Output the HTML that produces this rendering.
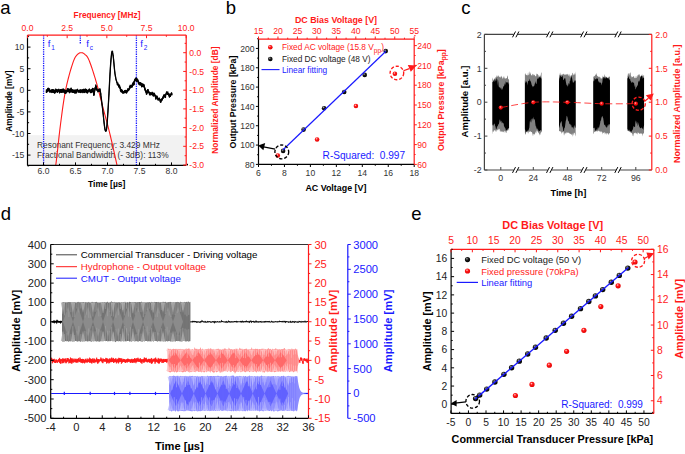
<!DOCTYPE html>
<html><head><meta charset="utf-8"><style>
html,body{margin:0;padding:0;background:#fff;}
svg{display:block;}
text{font-family:"Liberation Sans", sans-serif;}
</style></head><body>
<svg width="685" height="454" viewBox="0 0 685 454">
<rect width="685" height="454" fill="#fff"/>
<defs>
<radialGradient id="g_000" cx="0.38" cy="0.33" r="0.7"><stop offset="0" stop-color="#aaa"/><stop offset="0.38" stop-color="#1a1a1a"/><stop offset="1" stop-color="#000"/></radialGradient>
<radialGradient id="g_ff1a1a" cx="0.4" cy="0.35" r="0.7"><stop offset="0" stop-color="#ffd0d0"/><stop offset="0.35" stop-color="#ff1a1a"/><stop offset="1" stop-color="#e00000"/></radialGradient>
</defs><text x="0.2" y="14" font-size="18.5" fill="#000">a</text><text x="225.8" y="14" font-size="18.5" fill="#000">b</text><text x="461.3" y="14" font-size="18.5" fill="#000">c</text><text x="0.8" y="219.8" font-size="18.5" fill="#000">d</text><text x="411.3" y="220.2" font-size="18.5" fill="#000">e</text><rect x="27.5" y="135.2" width="158.7" height="30.2" fill="#f2f2f2"/>
<text x="37" y="147.7" font-size="8.4" fill="#333" text-anchor="start">Resonant Frequency: 3.429 MHz</text>
<text x="37" y="157.9" font-size="8.4" fill="#333" text-anchor="start">Fractional Bandwidth (- 3dB): 113%</text>
<line x1="43.6" y1="35.2" x2="43.6" y2="165.4" stroke="#1a1aff" stroke-width="1.3" stroke-dasharray="1.3 1.0"/>
<line x1="136.4" y1="35.2" x2="136.4" y2="165.4" stroke="#1a1aff" stroke-width="1.3" stroke-dasharray="1.3 1.0"/>
<line x1="80.3" y1="35.2" x2="80.3" y2="44.5" stroke="#1a1aff" stroke-width="1.3" stroke-dasharray="1.3 1.0"/>
<text x="47.8" y="47.3" font-size="9.5" fill="#1a1aff" text-anchor="start">f</text>
<text x="51.3" y="49.6" font-size="6.5" fill="#1a1aff" text-anchor="start">1</text>
<text x="86.2" y="47.3" font-size="9.5" fill="#1a1aff" text-anchor="start">f</text>
<text x="89.7" y="49.6" font-size="6.5" fill="#1a1aff" text-anchor="start">c</text>
<text x="140.2" y="47.3" font-size="9.5" fill="#1a1aff" text-anchor="start">f</text>
<text x="143.7" y="49.6" font-size="6.5" fill="#1a1aff" text-anchor="start">2</text>
<clipPath id="ca"><rect x="27.5" y="35.2" width="158.7" height="130.2"/></clipPath>
<path d="M52.5 185 L52.71 183.78 L52.97 182.29 L53.27 180.55 L53.62 178.6 L53.99 176.44 L54.39 174.1 L54.8 171.6 L55.21 168.97 L55.61 166.23 L56 163.4 L56.39 160.37 L56.78 157.06 L57.18 153.53 L57.59 149.84 L58.01 146.04 L58.42 142.21 L58.84 138.38 L59.26 134.64 L59.68 131.02 L60.1 127.6 L60.52 124.3 L60.94 121.01 L61.36 117.76 L61.78 114.56 L62.2 111.42 L62.62 108.36 L63.04 105.41 L63.46 102.57 L63.88 99.86 L64.3 97.3 L64.71 94.92 L65.1 92.71 L65.49 90.66 L65.88 88.72 L66.27 86.88 L66.66 85.09 L67.07 83.34 L67.49 81.59 L67.93 79.82 L68.4 78 L68.9 76.1 L69.43 74.14 L69.99 72.16 L70.57 70.17 L71.15 68.22 L71.73 66.34 L72.31 64.56 L72.87 62.9 L73.4 61.41 L73.9 60.1 L74.37 58.99 L74.82 58.05 L75.25 57.25 L75.66 56.58 L76.07 56.01 L76.46 55.53 L76.85 55.11 L77.23 54.72 L77.62 54.36 L78 54 L78.38 53.66 L78.76 53.38 L79.12 53.16 L79.49 52.99 L79.84 52.86 L80.2 52.77 L80.55 52.71 L80.9 52.68 L81.25 52.68 L81.6 52.7 L81.95 52.74 L82.28 52.8 L82.62 52.89 L82.95 53.01 L83.27 53.17 L83.61 53.36 L83.94 53.58 L84.28 53.85 L84.64 54.15 L85 54.5 L85.36 54.84 L85.72 55.14 L86.06 55.43 L86.42 55.74 L86.78 56.12 L87.16 56.59 L87.57 57.19 L88 57.95 L88.48 58.91 L89 60.1 L89.57 61.53 L90.19 63.19 L90.86 65.03 L91.55 67.03 L92.27 69.16 L93 71.4 L93.74 73.71 L94.47 76.07 L95.2 78.44 L95.9 80.8 L96.59 83.2 L97.28 85.69 L97.97 88.26 L98.66 90.89 L99.35 93.56 L100.04 96.26 L100.73 98.97 L101.42 101.68 L102.11 104.36 L102.8 107 L103.49 109.6 L104.18 112.16 L104.87 114.71 L105.56 117.25 L106.25 119.79 L106.94 122.36 L107.63 124.96 L108.32 127.61 L109.01 130.32 L109.7 133.1 L110.4 136 L111.12 139.03 L111.85 142.16 L112.58 145.34 L113.31 148.53 L114.02 151.7 L114.71 154.82 L115.38 157.83 L116.01 160.7 L116.6 163.4 L117.16 166.01 L117.71 168.62 L118.24 171.2 L118.75 173.7 L119.23 176.09 L119.68 178.33 L120.08 180.38 L120.44 182.2 L120.75 183.75 L121 185" stroke="#ff1a1a" stroke-width="1.1" fill="none" clip-path="url(#ca)"/>
<path d="M46.3 89.08 L46.8 89.99 L47.3 88.84 L47.8 88.04 L48.3 87.52 L48.8 88.41 L49.3 88.2 L49.8 88.69 L50.3 90.08 L50.8 90.72 L51.3 89.42 L51.8 89.53 L52.3 89.14 L52.8 88.92 L53.3 89.6 L53.8 89.44 L54.3 89.43 L54.8 91.43 L55.3 89.96 L55.8 88.41 L56.3 89.1 L56.8 89.24 L57.3 89.78 L57.8 89.26 L58.3 89.14 L58.8 88.58 L59.3 90.19 L59.8 89.25 L60.3 88.97 L60.8 89.36 L61.3 89.23 L61.8 88.8 L62.3 88.73 L62.8 88.86 L63.3 88.45 L63.8 88.7 L64.3 89.89 L64.8 89.6 L65.3 89.95 L65.8 91.19 L66.3 90.98 L66.8 89.61 L67.3 88.49 L67.8 87.79 L68.3 89.22 L68.8 88.25 L69.3 88.96 L69.8 89.01 L70.3 89.05 L70.8 87.7 L71.3 87.6 L71.8 88.83 L72.3 89.84 L72.8 88.91 L73.3 90.14 L73.8 89.68 L74.3 89.45 L74.8 90.67 L75.3 89.52 L75.8 89.79 L76.3 89.35 L76.8 89.85 L77.3 89.23 L77.8 88.62 L78.3 89.8 L78.8 90.87 L79.3 89.47 L79.8 89.89 L80.3 89.64 L80.8 89.1 L81.3 89.48 L81.8 90.14 L82.3 89.31 L82.8 89.27 L83.3 88.76 L83.8 88.71 L84.3 88.86 L84.8 89.6 L85.3 88.45 L85.8 88.63 L86.3 88.91 L86.8 89.52 L87.3 89.93 L87.8 89.64 L88.3 90.56 L88.8 88.94 L89.3 88.35 L89.8 88.95 L90.3 90.4 L90.8 89.15 L91.3 89.93 L91.8 88.69 L92.3 87.86 L92.8 87.85 L93.3 88.05 L93.8 93.18 L94.3 91.27 L94.8 88.13 L95.3 85.98 L95.8 84.3 L96.3 85.93 L96.8 87.22 L97.3 89.4 L97.8 89.66 L98.3 89.48 L98.8 89.2 L99.3 88.46 L99.8 88.61 L100.3 88.43 L100.8 92.34 L101.3 97.18 L101.8 101.05 L102.3 105.04 L102.8 109.04 L103.3 113.69 L103.8 118.21 L104.3 122.99 L104.8 126.83 L105.3 129.87 L105.8 130.87 L106.3 129.4 L106.8 124.65 L107.3 117.89 L107.8 110.55 L108.3 102.52 L108.8 93.38 L109.3 83.52 L109.8 74.56 L110.3 66.36 L110.8 59.45 L111.3 54.22 L111.8 51.71 L112.3 51.28 L112.8 52.67 L113.3 55.64 L113.8 59.6 L114.3 65.45 L114.8 70.58 L115.3 74.26 L115.8 77.22 L116.3 79.61 L116.8 81.36 L117.3 83.39 L117.8 82.31 L118.3 83.71 L118.8 85.24 L119.3 84.43 L119.8 84.78 L120.3 86.75 L120.8 89.16 L121.3 89.43 L121.8 89.34 L122.3 89.97 L122.8 90.93 L123.3 90.77 L123.8 91.35 L124.3 90.1 L124.8 90.48 L125.3 89.68 L125.8 90.33 L126.3 90.63 L126.8 90.11 L127.3 89.48 L127.8 87.92 L128.3 88.11 L128.8 89.13 L129.3 86.08 L129.8 85.77 L130.3 84.6 L130.8 85.13 L131.3 85.39 L131.8 85.85 L132.3 84.8 L132.8 83.82 L133.3 82.33 L133.8 82.52 L134.3 80.1 L134.8 79.13 L135.3 77.59 L135.8 79.48 L136.3 79.07 L136.8 79.06 L137.3 78.99 L137.8 78.97 L138.3 81.07 L138.8 81.59 L139.3 81.78 L139.8 82.81 L140.3 82.44 L140.8 82.05 L141.3 83.45 L141.8 84.64 L142.3 84.4 L142.8 83.86 L143.3 83.63 L143.8 84.45 L144.3 84.24 L144.8 86.8 L145.3 88.34 L145.8 89.68 L146.3 91.63 L146.8 91.75 L147.3 90.3 L147.8 89 L148.3 89.43 L148.8 91.01 L149.3 91.75 L149.8 92.63 L150.3 93.38 L150.8 92.1 L151.3 92.04 L151.8 93.93 L152.3 91.61 L152.8 92.4 L153.3 93.99 L153.8 92.34 L154.3 93.23 L154.8 93.01 L155.3 94.48 L155.8 96.72 L156.3 96.61 L156.8 95.52 L157.3 95.86 L157.8 98.23 L158.3 98.05 L158.8 97.82 L159.3 97.54 L159.8 97.93 L160.3 100.12 L160.8 101.59 L161.3 98.68 L161.8 98.31 L162.3 97.54 L162.8 96.85 L163.3 95.38 L163.8 94.56 L164.3 94.22 L164.8 95.04 L165.3 94.75 L165.8 93.69 L166.3 91.2 L166.8 92.12 L167.3 92.54 L167.8 91.2 L168.3 92.87 L168.8 93.71 L169.3 95.58 L169.8 93.94 L170.3 93.8 L170.8 93.51 L171.3 92.16 L171.8 92.53 L171.8 95.42 L171.3 95.02 L170.8 95.94 L170.3 97 L169.8 97.08 L169.3 97.9 L168.8 96.13 L168.3 95.21 L167.8 94.95 L167.3 94.76 L166.8 94.56 L166.3 94.15 L165.8 97.75 L165.3 98.14 L164.8 97 L164.3 97.03 L163.8 97.79 L163.3 98.4 L162.8 99.48 L162.3 100.53 L161.8 101.02 L161.3 101.75 L160.8 102.92 L160.3 102.71 L159.8 100.38 L159.3 99.98 L158.8 100.3 L158.3 100.53 L157.8 100.39 L157.3 98.97 L156.8 98.24 L156.3 98.97 L155.8 99.9 L155.3 98.57 L154.8 96.62 L154.3 95.29 L153.8 95.84 L153.3 96.83 L152.8 96.05 L152.3 94.94 L151.8 95.26 L151.3 95.14 L150.8 94.25 L150.3 95.68 L149.8 95.13 L149.3 95.34 L148.8 93.14 L148.3 92.31 L147.8 91.5 L147.3 92.61 L146.8 94.66 L146.3 94.73 L145.8 93.24 L145.3 91.69 L144.8 90.44 L144.3 88.82 L143.8 87.54 L143.3 86.61 L142.8 86.53 L142.3 87.18 L141.8 87.49 L141.3 86.42 L140.8 85.12 L140.3 85.63 L139.8 85.07 L139.3 85.46 L138.8 84.73 L138.3 83.73 L137.8 81.59 L137.3 81.79 L136.8 81.5 L136.3 81.92 L135.8 80.82 L135.3 81.18 L134.8 81.69 L134.3 85.01 L133.8 85.45 L133.3 85.61 L132.8 86.24 L132.3 87.21 L131.8 88.07 L131.3 87.26 L130.8 87.17 L130.3 87.59 L129.8 88.27 L129.3 89.73 L128.8 91.09 L128.3 91.22 L127.8 91.65 L127.3 92.13 L126.8 93.55 L126.3 93.45 L125.8 92.96 L125.3 93.18 L124.8 92.53 L124.3 92.05 L123.8 93.54 L123.3 93.46 L122.8 93.78 L122.3 93.06 L121.8 92.55 L121.3 92.46 L120.8 92.13 L120.3 91.05 L119.8 88.86 L119.3 86.51 L118.8 87.56 L118.3 87.22 L117.8 84.44 L117.3 85.34 L116.8 83.15 L116.3 81.63 L115.8 79.65 L115.3 77.02 L114.8 74.11 L114.3 69.91 L113.8 64.63 L113.3 59.01 L112.8 55.38 L112.3 52.41 L111.8 53.99 L111.3 59.02 L110.8 65.45 L110.3 72.93 L109.8 82.24 L109.3 92.16 L108.8 101.28 L108.3 109.31 L107.8 117.18 L107.3 124.25 L106.8 129.31 L106.3 131.37 L105.8 131.72 L105.3 131.49 L104.8 129.82 L104.3 126.92 L103.8 122.63 L103.3 117.58 L102.8 112.75 L102.3 108.75 L101.8 104.51 L101.3 100.5 L100.8 97.04 L100.3 92.57 L99.8 91.48 L99.3 91.51 L98.8 91.85 L98.3 92.06 L97.8 92.46 L97.3 90.84 L96.8 90.53 L96.3 89.82 L95.8 87.71 L95.3 88.74 L94.8 92.5 L94.3 95.2 L93.8 95.97 L93.3 93.15 L92.8 92.31 L92.3 92.4 L91.8 92.61 L91.3 93.15 L90.8 93.35 L90.3 92.94 L89.8 91.56 L89.3 91.7 L88.8 90.85 L88.3 92.58 L87.8 93.4 L87.3 93.52 L86.8 92.99 L86.3 93.32 L85.8 92.52 L85.3 92.25 L84.8 92.46 L84.3 93.25 L83.8 93.23 L83.3 92.2 L82.8 90.97 L82.3 93.36 L81.8 92.75 L81.3 92.13 L80.8 93.07 L80.3 93.16 L79.8 92.36 L79.3 92.87 L78.8 92.82 L78.3 92 L77.8 90.83 L77.3 91.29 L76.8 93 L76.3 93.5 L75.8 93.51 L75.3 92.93 L74.8 93.87 L74.3 92.74 L73.8 92.75 L73.3 93.05 L72.8 93.07 L72.3 91.76 L71.8 92.86 L71.3 90.11 L70.8 91.19 L70.3 92.65 L69.8 92.67 L69.3 93.42 L68.8 92.06 L68.3 92.05 L67.8 92.38 L67.3 91.73 L66.8 91.93 L66.3 93.23 L65.8 94.29 L65.3 91.94 L64.8 93.88 L64.3 92.67 L63.8 91.75 L63.3 92.77 L62.8 92.88 L62.3 90.45 L61.8 92.79 L61.3 93.04 L60.8 91.18 L60.3 92.63 L59.8 93.18 L59.3 93.54 L58.8 90.64 L58.3 91.99 L57.8 92.38 L57.3 93.1 L56.8 92.45 L56.3 91.69 L55.8 91.92 L55.3 93.27 L54.8 93.63 L54.3 93.49 L53.8 92.89 L53.3 93.22 L52.8 91.02 L52.3 92.79 L51.8 93.27 L51.3 92.36 L50.8 92.57 L50.3 92.33 L49.8 92.57 L49.3 92.59 L48.8 91.27 L48.3 90.5 L47.8 91.4 L47.3 92.05 L46.8 92.78 L46.3 93.05 Z" stroke="none" stroke-width="1" fill="#000"/>
<path d="M46.1 90.72 L46.2 91.54 L46.3 92.8 L46.4 89.33 L46.5 92.8 L46.6 91.57 L46.7 92.15 L46.8 91.51 L46.9 92.53 L47 90.24 L47.1 91.8 L47.2 89.86 L47.3 90.76 L47.4 91.31 L47.5 89.09 L47.6 88.29 L47.7 91.15 L47.8 91.05 L47.9 90.31 L48 88.78 L48.1 90.16 L48.2 87.77 L48.3 90.25 L48.4 89.95 L48.5 90.19 L48.6 89.54 L48.7 88.66 L48.8 90.81 L48.9 89.76 L49 91.02 L49.1 89.5 L49.2 88.45 L49.3 90.48 L49.4 90.95 L49.5 92.34 L49.6 92.32 L49.7 88.94 L49.8 92.03 L49.9 89.95 L50 91.83 L50.1 90.53 L50.2 90.33 L50.3 91.08 L50.4 91.32 L50.5 92.08 L50.6 91.92 L50.7 92.18 L50.8 91.02 L50.9 92.32 L51 90.97 L51.1 92.11 L51.2 91.51 L51.3 91.96 L51.4 89.67 L51.5 91.69 L51.6 90.5 L51.7 91.16 L51.8 89.78 L51.9 92.14 L52 93.02 L52.1 90.64 L52.2 89.48 L52.3 91.54 L52.4 89.39 L52.5 92.54 L52.6 89.26 L52.7 90.23 L52.8 90.77 L52.9 89.17 L53 90.01 L53.1 89.85 L53.2 91.74 L53.3 92.97 L53.4 90.44 L53.5 92.33 L53.6 89.69 L53.7 91.6 L53.8 91.02 L53.9 90.42 L54 92.64 L54.1 92.29 L54.2 89.68 L54.3 90.31 L54.4 92.5 L54.5 93.24 L54.6 91.68 L54.7 92.83 L54.8 93.38 L54.9 92.43 L55 92.09 L55.1 90.32 L55.2 90.92 L55.3 91.89 L55.4 93.02 L55.5 90.21 L55.6 90.41 L55.7 88.66 L55.8 91.34 L55.9 90.19 L56 91.67 L56.1 89.35 L56.2 91.24 L56.3 91.44 L56.4 90.71 L56.5 89.68 L56.6 90.69 L56.7 92.2 L56.8 89.9 L56.9 89.49 L57 91.03 L57.1 90.03 L57.2 92.35 L57.3 92.36 L57.4 92.85 L57.5 92.35 L57.6 91.5 L57.7 89.51 L57.8 92.13 L57.9 91.66 L58 91.64 L58.1 91.32 L58.2 91.74 L58.3 89.39 L58.4 90.87 L58.5 90.17 L58.6 89.42 L58.7 89.44 L58.8 88.83 L58.9 90.39 L59 90.04 L59.1 90.44 L59.2 92.41 L59.3 91.84 L59.4 91.95 L59.5 93.29 L59.6 90.09 L59.7 91.3 L59.8 89.5 L59.9 90.68 L60 92.93 L60.1 89.22 L60.2 91.97 L60.3 92.38 L60.4 90.87 L60.5 92.09 L60.6 90.61 L60.7 90.28 L60.8 90.93 L60.9 89.61 L61 90.05 L61.1 89.99 L61.2 92.79 L61.3 89.98 L61.4 89.48 L61.5 92.43 L61.6 89.05 L61.7 92.54 L61.8 92.09 L61.9 91.26 L62 90.36 L62.1 89.4 L62.2 89.01 L62.3 88.98 L62.4 89.99 L62.5 90.2 L62.6 92.35 L62.7 90.72 L62.8 92.63 L62.9 91.51 L63 89.11 L63.1 90.83 L63.2 89.19 L63.3 88.7 L63.4 92.52 L63.5 90.01 L63.6 89.43 L63.7 89.12 L63.8 91.5 L63.9 90.77 L64 88.95 L64.1 91.99 L64.2 90.14 L64.3 92.42 L64.4 91.28 L64.5 91.55 L64.6 91.28 L64.7 92.26 L64.8 93.63 L64.9 92.86 L65 89.85 L65.1 91.69 L65.2 90.67 L65.3 90.2 L65.4 90.68 L65.5 90.98 L65.6 94.04 L65.7 93.19 L65.8 93.67 L65.9 93.05 L66 91.44 L66.1 91.75 L66.2 91.92 L66.3 91.23 L66.4 91.66 L66.5 92.98 L66.6 89.86 L66.7 90.48 L66.8 91.09 L66.9 91.68 L67 91.34 L67.1 91.48 L67.2 88.74 L67.3 88.94 L67.4 89.4 L67.5 89.22 L67.6 91.17 L67.7 92.13 L67.8 90.79 L67.9 88.04 L68 89.14 L68.1 91.27 L68.2 91.8 L68.3 90.46 L68.4 89.47 L68.5 89.54 L68.6 90.77 L68.7 91.81 L68.8 89.69 L68.9 89.16 L69 88.5 L69.1 89.21 L69.2 92.35 L69.3 91.53 L69.4 93.17 L69.5 89.37 L69.6 90.64 L69.7 92.42 L69.8 91.81 L69.9 89.26 L70 90.6 L70.1 91.52 L70.2 91.65 L70.3 90.55 L70.4 89.3 L70.5 92.4 L70.6 90.1 L70.7 90.94 L70.8 89.99 L70.9 87.95 L71 88.55 L71.1 87.85 L71.2 88.51 L71.3 88.73 L71.4 89.86 L71.5 89.71 L71.6 90.13 L71.7 92.25 L71.8 89.08 L71.9 89.56 L72 92.61 L72.1 91.51 L72.2 91.12 L72.3 90.38 L72.4 91.49 L72.5 90.09 L72.6 92.7 L72.7 92.52 L72.8 90.4 L72.9 89.16 L73 92.82 L73.1 90.39 L73.2 91.93 L73.3 92.8 L73.4 92.53 L73.5 92.75 L73.6 91.11 L73.7 92.5 L73.8 90.82 L73.9 89.93 L74 90.82 L74.1 90.24 L74.2 92.12 L74.3 92.49 L74.4 89.7 L74.5 89.91 L74.6 90.92 L74.7 91.33 L74.8 93.47 L74.9 93.46 L75 93.62 L75.1 92.68 L75.2 92.51 L75.3 90.85 L75.4 91.31 L75.5 89.77 L75.6 93.26 L75.7 90.9 L75.8 90.04 L75.9 91 L76 91 L76.1 92.65 L76.2 89.6 L76.3 90.5 L76.4 93.25 L76.5 93.01 L76.6 91.98 L76.7 91.6 L76.8 90.1 L76.9 92.75 L77 92.17 L77.1 91.04 L77.2 89.48 L77.3 89.63 L77.4 90.26 L77.5 90.02 L77.6 88.87 L77.7 90.35 L77.8 90.58 L77.9 89.99 L78 90.5 L78.1 90.38 L78.2 90.66 L78.3 91.75 L78.4 91.28 L78.5 90.05 L78.6 92.57 L78.7 91.38 L78.8 91.12 L78.9 92.15 L79 92.27 L79.1 92.62 L79.2 92.41 L79.3 91.79 L79.4 92.02 L79.5 89.72 L79.6 92.11 L79.7 90.39 L79.8 90.57 L79.9 90.14 L80 91.41 L80.1 89.89 L80.2 92.56 L80.3 92.89 L80.4 92.91 L80.5 90.08 L80.6 92.11 L80.7 92.82 L80.8 89.35 L80.9 89.92 L81 90.18 L81.1 90.96 L81.2 89.73 L81.3 91.28 L81.4 90.51 L81.5 91.88 L81.6 91.43 L81.7 92.17 L81.8 90.39 L81.9 92.38 L82 92.5 L82.1 92.4 L82.2 89.56 L82.3 93.11 L82.4 91.4 L82.5 89.95 L82.6 90.48 L82.7 90.72 L82.8 90.66 L82.9 89.52 L83 89.63 L83.1 90.11 L83.2 91.95 L83.3 90.6 L83.4 89.01 L83.5 90.8 L83.6 89.76 L83.7 88.96 L83.8 92.98 L83.9 90.08 L84 91.08 L84.1 90.35 L84.2 89.11 L84.3 92.76 L84.4 93 L84.5 89.93 L84.6 90.96 L84.7 90.77 L84.8 89.85 L84.9 91.83 L85 92.21 L85.1 92 L85.2 91.53 L85.3 88.7 L85.4 89.55 L85.5 90.74 L85.6 91.55 L85.7 90.27 L85.8 90.57 L85.9 92.27 L86 88.88 L86.1 89.96 L86.2 90.09 L86.3 93.07 L86.4 89.89 L86.5 89.16 L86.6 90.76 L86.7 91.79 L86.8 89.77 L86.9 92.74 L87 90.14 L87.1 92.36 L87.2 90.18 L87.3 93.27 L87.4 90.46 L87.5 92.71 L87.6 93.15 L87.7 90.65 L87.8 89.89 L87.9 91.86 L88 91.38 L88.1 91.17 L88.2 92.33 L88.3 90.89 L88.4 90.94 L88.5 90.81 L88.6 90.6 L88.7 90.31 L88.8 89.19 L88.9 89.67 L89 89.44 L89.1 89.28 L89.2 91.45 L89.3 88.6 L89.4 88.96 L89.5 90.31 L89.6 89.44 L89.7 89.2 L89.8 89.84 L89.9 90.48 L90 91.31 L90.1 92.69 L90.2 92.31 L90.3 90.65 L90.4 90.83 L90.5 90.76 L90.6 90.08 L90.7 93.1 L90.8 89.4 L90.9 89.97 L91 91.87 L91.1 91.53 L91.2 90.18 L91.3 92.9 L91.4 90.62 L91.5 91.33 L91.6 89.11 L91.7 92.36 L91.8 88.94 L91.9 90.05 L92 92 L92.1 92.15 L92.2 91.9 L92.3 91.52 L92.4 88.98 L92.5 88.11 L92.6 89.87 L92.7 88.26 L92.8 92.06 L92.9 88.1 L93 89.12 L93.1 88.82 L93.2 88.3 L93.3 89.95 L93.4 89.5 L93.5 92.9 L93.6 93.43 L93.7 93.66 L93.8 95.72 L93.9 95.61 L94 93.81 L94.1 94.95 L94.2 94.6 L94.3 92.97 L94.4 91.52 L94.5 92.7 L94.6 92.25 L94.7 89.77 L94.8 88.38 L94.9 90.38 L95 89.26 L95.1 87.45 L95.2 88.12 L95.3 86.92 L95.4 88.49 L95.5 86.23 L95.6 85.36 L95.7 84.55 L95.8 85.35 L95.9 87.46 L96 85.24 L96.1 86.48 L96.2 88.72 L96.3 86.18 L96.4 87.55 L96.5 89.57 L96.6 87.47 L96.7 90.28 L96.8 90.13 L96.9 88.09 L97 89.74 L97.1 89.87 L97.2 90.59 L97.3 89.65 L97.4 90.16 L97.5 89.92 L97.6 90.23 L97.7 89.91 L97.8 92.21 L97.9 92.08 L98 90.29 L98.1 91.24 L98.2 90.49 L98.3 89.73 L98.4 89.89 L98.5 91.81 L98.6 89.78 L98.7 90.49 L98.8 91.6 L98.9 89.45 L99 91.01 L99.1 88.71 L99.2 90.62 L99.3 90.79 L99.4 90.84 L99.5 91.26 L99.6 90.41 L99.7 91.23 L99.8 88.95 L99.9 89.74 L100 88.86 L100.1 88.68 L100.2 90.2 L100.3 91.58 L100.4 92.32 L100.5 90.5 L100.6 94.11 L100.7 92.59 L100.8 93.47 L100.9 95.97 L101 96.79 L101.1 97.43 L101.2 97.93 L101.3 98.76 L101.4 99.75 L101.5 100.25 L101.6 101.3 L101.7 102.08 L101.8 102.69 L101.9 103.75 L102 104.26 L102.1 105.29 L102.2 106.04 L102.3 106.68 L102.4 107.63 L102.5 108.5 L102.6 109.29 L102.7 109.9 L102.8 111.3 L102.9 112.16 L103 112.5 L103.1 113.94 L103.2 114.6 L103.3 115.27 L103.4 116.62 L103.5 117.33 L103.6 118.46 L103.7 119.5 L103.8 120.3 L103.9 120.97 L104 122.38 L104.1 123.24 L104.2 124.26 L104.3 124.74 L104.4 125.86 L104.5 126.67 L104.6 127.08 L104.7 127.81 L104.8 128.43 L104.9 128.87 L105 129.57 L105.1 130.12 L105.2 130.38 L105.3 131.06 L105.4 131.05 L105.5 131.24 L105.6 131.12 L105.7 131.2 L105.8 131.47 L105.9 131.31 L106 131.34 L106.1 131.12 L106.2 131 L106.3 130.88 L106.4 130.07 L106.5 129.65 L106.6 129.06 L106.7 127.89 L106.8 127.49 L106.9 126.18 L107 124.9 L107.1 124 L107.2 122.75 L107.3 121.3 L107.4 120.07 L107.5 118.14 L107.6 116.93 L107.7 115.55 L107.8 114.12 L107.9 112.4 L108 110.8 L108.1 109.06 L108.2 107.55 L108.3 105.9 L108.4 104.47 L108.5 102.77 L108.6 101.03 L108.7 99.4 L108.8 97.09 L108.9 95.68 L109 93.63 L109.1 91.91 L109.2 89.72 L109.3 87.9 L109.4 86.18 L109.5 83.77 L109.6 81.99 L109.7 80.2 L109.8 78.52 L109.9 76.3 L110 74.81 L110.1 72.68 L110.2 70.99 L110.3 69.48 L110.4 67.96 L110.5 66.61 L110.6 65.2 L110.7 63.46 L110.8 62.43 L110.9 61.08 L111 59.7 L111.1 58.77 L111.2 57.74 L111.3 56.47 L111.4 55.79 L111.5 54.47 L111.6 53.74 L111.7 53.45 L111.8 52.63 L111.9 52.35 L112 51.96 L112.1 51.53 L112.2 51.83 L112.3 51.9 L112.4 51.75 L112.5 52.16 L112.6 52.92 L112.7 53.52 L112.8 54.1 L112.9 54.53 L113 55.13 L113.1 55.89 L113.2 56.44 L113.3 57.33 L113.4 57.94 L113.5 58.76 L113.6 59.85 L113.7 60.69 L113.8 62.02 L113.9 63.27 L114 64.38 L114.1 65.7 L114.2 66.77 L114.3 67.71 L114.4 68.93 L114.5 69.66 L114.6 70.83 L114.7 71.4 L114.8 72.35 L114.9 73.37 L115 73.86 L115.1 74.51 L115.2 75.36 L115.3 75.73 L115.4 76.67 L115.5 76.77 L115.6 77.47 L115.7 77.97 L115.8 78.52 L115.9 79.4 L116 79.28 L116.1 79.86 L116.2 80.42 L116.3 80.88 L116.4 81.28 L116.5 81.38 L116.6 81.61 L116.7 82.28 L116.8 82.12 L116.9 82.35 L117 82.9 L117.1 83.7 L117.2 85.09 L117.3 84.36 L117.4 83.79 L117.5 83.64 L117.6 84.19 L117.7 84.02 L117.8 83.18 L117.9 82.56 L118 83.13 L118.1 85.28 L118.2 85.15 L118.3 86.03 L118.4 83.96 L118.5 86.97 L118.6 85.49 L118.7 87.31 L118.8 86.24 L118.9 86.02 L119 86.8 L119.1 86.12 L119.2 86.26 L119.3 84.68 L119.4 86.25 L119.5 85.67 L119.6 85.03 L119.7 85.5 L119.8 86.94 L119.9 86.6 L120 88.61 L120.1 87 L120.2 87.14 L120.3 90.8 L120.4 89.12 L120.5 90.2 L120.6 89.61 L120.7 89.87 L120.8 90.62 L120.9 91.88 L121 89.41 L121.1 91.84 L121.2 92.21 L121.3 90.73 L121.4 90.05 L121.5 89.68 L121.6 89.61 L121.7 90.22 L121.8 92.1 L121.9 89.59 L122 92.3 L122.1 92.12 L122.2 90.22 L122.3 90.54 L122.4 92.81 L122.5 92.74 L122.6 91.69 L122.7 93.53 L122.8 91.49 L122.9 92.2 L123 91.18 L123.1 92.85 L123.2 91.02 L123.3 91.31 L123.4 93.21 L123.5 92.41 L123.6 92.99 L123.7 93.29 L123.8 92.92 L123.9 91.6 L124 93.13 L124.1 91.13 L124.2 91.43 L124.3 91.8 L124.4 90.53 L124.5 90.35 L124.6 92.01 L124.7 92.28 L124.8 91.13 L124.9 91.26 L125 90.73 L125.1 91.75 L125.2 91.9 L125.3 92.93 L125.4 89.93 L125.5 92.56 L125.6 92.71 L125.7 90.58 L125.8 91.81 L125.9 92.22 L126 91.83 L126.1 90.88 L126.2 92.17 L126.3 93.2 L126.4 90.9 L126.5 92.19 L126.6 90.74 L126.7 93.3 L126.8 92.92 L126.9 90.36 L127 92.33 L127.1 91.88 L127.2 89.79 L127.3 90.81 L127.4 91.09 L127.5 89.73 L127.6 90.06 L127.7 91.4 L127.8 90.16 L127.9 89.62 L128 88.17 L128.1 88.36 L128.2 90.77 L128.3 90.53 L128.4 90.97 L128.5 90.28 L128.6 90.36 L128.7 90.24 L128.8 90.84 L128.9 89.38 L129 89.67 L129.1 89.25 L129.2 89.48 L129.3 87.62 L129.4 86.56 L129.5 86.33 L129.6 86.21 L129.7 88.02 L129.8 87.27 L129.9 87.15 L130 86.02 L130.1 84.85 L130.2 86.01 L130.3 87.34 L130.4 86.3 L130.5 86.79 L130.6 86.04 L130.7 85.38 L130.8 86.92 L130.9 86.44 L131 85.96 L131.1 85.64 L131.2 87.01 L131.3 85.8 L131.4 86.64 L131.5 85.67 L131.6 87.28 L131.7 86.1 L131.8 86.43 L131.9 87.82 L132 87.05 L132.1 86.96 L132.2 85.48 L132.3 86.82 L132.4 85.05 L132.5 86.63 L132.6 85.99 L132.7 84.91 L132.8 85.19 L132.9 84.07 L133 84.57 L133.1 82.58 L133.2 85.36 L133.3 84.82 L133.4 82.79 L133.5 83.17 L133.6 84.25 L133.7 84.83 L133.8 82.77 L133.9 85.2 L134 82.98 L134.1 84.76 L134.2 83.64 L134.3 82.4 L134.4 81.61 L134.5 80.35 L134.6 79.92 L134.7 81.27 L134.8 81.36 L134.9 81.44 L135 79.38 L135.1 80.93 L135.2 78.65 L135.3 80.52 L135.4 80.34 L135.5 77.84 L135.6 80.13 L135.7 79.73 L135.8 79.9 L135.9 80.57 L136 79.85 L136.1 80 L136.2 79.75 L136.3 81.48 L136.4 81.67 L136.5 79.32 L136.6 81.25 L136.7 79.63 L136.8 79.31 L136.9 79.35 L137 80.58 L137.1 79.68 L137.2 79.62 L137.3 79.24 L137.4 80.03 L137.5 81.54 L137.6 79.22 L137.7 80.81 L137.8 81.34 L137.9 79.75 L138 80.74 L138.1 82.94 L138.2 83.48 L138.3 83.27 L138.4 81.32 L138.5 83.42 L138.6 82.59 L138.7 81.84 L138.8 82.95 L138.9 84.48 L139 84.43 L139.1 82.97 L139.2 82.03 L139.3 84.82 L139.4 85.21 L139.5 83.83 L139.6 83.06 L139.7 84.22 L139.8 84.82 L139.9 84.22 L140 83.84 L140.1 83.49 L140.2 83.57 L140.3 82.69 L140.4 83.23 L140.5 85.38 L140.6 82.3 L140.7 84.6 L140.8 84.87 L140.9 83.8 L141 84.63 L141.1 83.7 L141.2 85.41 L141.3 85.83 L141.4 86.17 L141.5 85.58 L141.6 87.24 L141.7 86.95 L141.8 86 L141.9 86.29 L142 84.89 L142.1 86.93 L142.2 85.88 L142.3 86.62 L142.4 84.65 L142.5 86.88 L142.6 84.11 L142.7 85.52 L142.8 84.21 L142.9 84.47 L143 86.28 L143.1 84.01 L143.2 84.97 L143.3 84.3 L143.4 86.36 L143.5 83.88 L143.6 84.7 L143.7 86.41 L143.8 85.95 L143.9 86.16 L144 87.29 L144.1 84.49 L144.2 86.92 L144.3 87.63 L144.4 88.15 L144.5 88.57 L144.6 87.05 L144.7 87.57 L144.8 90.19 L144.9 90.02 L145 89.19 L145.1 88.59 L145.2 90.45 L145.3 89.18 L145.4 91.44 L145.5 90.3 L145.6 91.98 L145.7 89.93 L145.8 91.46 L145.9 90.49 L146 92.99 L146.1 92.61 L146.2 91.88 L146.3 94.48 L146.4 93.76 L146.5 92.76 L146.6 94.41 L146.7 92.76 L146.8 94.35 L146.9 92 L147 93.86 L147.1 90.55 L147.2 92.36 L147.3 90.64 L147.4 90.8 L147.5 91.28 L147.6 89.25 L147.7 89.72 L147.8 89.27 L147.9 91.25 L148 89.55 L148.1 90.43 L148.2 89.9 L148.3 89.68 L148.4 92.06 L148.5 90.91 L148.6 91.64 L148.7 92.15 L148.8 92.89 L148.9 91.48 L149 91.26 L149.1 92.85 L149.2 92.21 L149.3 92 L149.4 95.09 L149.5 94.3 L149.6 93.72 L149.7 92.88 L149.8 94.88 L149.9 94.11 L150 92.91 L150.1 95.43 L150.2 95.23 L150.3 95.06 L150.4 94.65 L150.5 93.63 L150.6 92.85 L150.7 93.97 L150.8 92.42 L150.9 94 L151 92.35 L151.1 92.29 L151.2 94.63 L151.3 93.49 L151.4 94.64 L151.5 94.89 L151.6 95.01 L151.7 94.24 L151.8 94.89 L151.9 94.18 L152 94.91 L152.1 94.69 L152.2 91.86 L152.3 92.53 L152.4 92.95 L152.5 92.65 L152.6 92.65 L152.7 95.21 L152.8 92.85 L152.9 93.68 L153 95.8 L153.1 94.24 L153.2 94.39 L153.3 96.58 L153.4 95.75 L153.5 94.52 L153.6 93.27 L153.7 93.47 L153.8 95.59 L153.9 94.9 L154 92.59 L154.1 94.7 L154.2 93.77 L154.3 95.04 L154.4 93.85 L154.5 93.48 L154.6 93.26 L154.7 94.25 L154.8 96.16 L154.9 96.37 L155 95.85 L155.1 96.25 L155.2 94.73 L155.3 95.55 L155.4 97.65 L155.5 98.32 L155.6 96.97 L155.7 98.4 L155.8 99.21 L155.9 99.65 L156 97.53 L156.1 98.72 L156.2 97.8 L156.3 97.89 L156.4 97.68 L156.5 96.86 L156.6 95.8 L156.7 97.99 L156.8 97.61 L156.9 97.98 L157 95.77 L157.1 96.11 L157.2 97.4 L157.3 98.72 L157.4 97.5 L157.5 96.93 L157.6 98.48 L157.7 99.92 L157.8 99.86 L157.9 100.14 L158 98.7 L158.1 98.3 L158.2 100.28 L158.3 100.02 L158.4 100.2 L158.5 98.68 L158.6 98.29 L158.7 98.07 L158.8 100 L158.9 100.05 L159 98.19 L159.1 99.73 L159.2 98.1 L159.3 98.3 L159.4 98.75 L159.5 97.79 L159.6 98.18 L159.7 98.5 L159.8 98.88 L159.9 100.13 L160 99.27 L160.1 101.9 L160.2 100.37 L160.3 101.58 L160.4 102.46 L160.5 100.98 L160.6 101.84 L160.7 102.2 L160.8 101.9 L160.9 102.67 L161 101.97 L161.1 99.5 L161.2 101.5 L161.3 100.39 L161.4 100.66 L161.5 98.93 L161.6 99.88 L161.7 100.55 L161.8 100.77 L161.9 100.65 L162 98.56 L162.1 100.28 L162.2 99.14 L162.3 99.16 L162.4 99.46 L162.5 97.79 L162.6 99.23 L162.7 98.95 L162.8 98.58 L162.9 97.1 L163 97.44 L163.1 96.17 L163.2 97.89 L163.3 98.15 L163.4 95.63 L163.5 97.34 L163.6 97.03 L163.7 94.81 L163.8 97.54 L163.9 96.06 L164 95.32 L164.1 94.47 L164.2 96.78 L164.3 95.26 L164.4 95.72 L164.5 94.64 L164.6 95.93 L164.7 95.29 L164.8 96.7 L164.9 96.4 L165 96.75 L165.1 95.44 L165.2 95 L165.3 97.71 L165.4 97.89 L165.5 96.84 L165.6 97.5 L165.7 96.48 L165.8 95.73 L165.9 94.65 L166 93.94 L166.1 93.9 L166.2 92.64 L166.3 92.99 L166.4 93.05 L166.5 91.45 L166.6 92.63 L166.7 92.37 L166.8 93.61 L166.9 94.31 L167 93.81 L167.1 94.06 L167.2 93.94 L167.3 92.79 L167.4 93.12 L167.5 94.51 L167.6 94.7 L167.7 92.11 L167.8 91.45 L167.9 94.42 L168 94.09 L168.1 93.37 L168.2 94.19 L168.3 93.7 L168.4 94.96 L168.5 93.12 L168.6 94.06 L168.7 95.1 L168.8 93.96 L168.9 95.88 L169 94.74 L169.1 96.43 L169.2 96.94 L169.3 95.83 L169.4 97.65 L169.5 96.43 L169.6 96.7 L169.7 94.19 L169.8 94.34 L169.9 96.14 L170 96.83 L170.1 95.81 L170.2 96.75 L170.3 94.05 L170.4 96.71 L170.5 96.61 L170.6 95.69 L170.7 94.86 L170.8 95.49 L170.9 93.76 L171 94.88 L171.1 94.77 L171.2 94.16 L171.3 93.22 L171.4 92.41 L171.5 93.07 L171.6 95.17 L171.7 93.21 L171.8 92.78 L171.9 93.32 L172 94.16 L172.1 94.34 L172.2 95.23 L172.3 95.14" stroke="#000" stroke-width="0.7" fill="none" stroke-linejoin="round"/>
<path d="M46 90.8 L46.18 90.8 L46.38 90.8 L46.59 90.8 L46.81 90.8 L47.04 90.8 L47.28 90.8 L47.54 90.8 L47.81 90.8 L48.09 90.8 L48.38 90.8 L48.67 90.8 L48.98 90.8 L49.3 90.8 L49.63 90.8 L49.96 90.8 L50.3 90.8 L50.65 90.8 L51.01 90.8 L51.38 90.8 L51.75 90.8 L52.13 90.8 L52.51 90.8 L52.9 90.8 L53.3 90.8 L53.7 90.8 L54.1 90.8 L54.51 90.8 L54.92 90.8 L55.33 90.8 L55.75 90.8 L56.17 90.8 L56.59 90.8 L57.02 90.8 L57.44 90.8 L57.87 90.8 L58.29 90.8 L58.72 90.8 L59.15 90.8 L59.57 90.8 L60 90.8 L60.43 90.8 L60.87 90.8 L61.33 90.8 L61.79 90.8 L62.27 90.8 L62.75 90.8 L63.24 90.8 L63.74 90.8 L64.25 90.8 L64.77 90.8 L65.29 90.8 L65.81 90.8 L66.34 90.8 L66.87 90.8 L67.41 90.8 L67.95 90.8 L68.49 90.79 L69.04 90.79 L69.58 90.79 L70.12 90.79 L70.67 90.79 L71.21 90.79 L71.75 90.79 L72.29 90.79 L72.82 90.79 L73.35 90.79 L73.88 90.79 L74.4 90.79 L74.91 90.79 L75.42 90.79 L75.92 90.79 L76.42 90.79 L76.9 90.79 L77.38 90.79 L77.84 90.8 L78.3 90.8 L78.74 90.8 L79.17 90.8 L79.59 90.8 L80 90.8 L80.4 90.8 L80.79 90.8 L81.18 90.8 L81.57 90.8 L81.96 90.8 L82.34 90.81 L82.71 90.81 L83.08 90.81 L83.45 90.81 L83.81 90.81 L84.17 90.81 L84.53 90.81 L84.87 90.81 L85.22 90.81 L85.56 90.81 L85.89 90.81 L86.22 90.81 L86.54 90.82 L86.86 90.82 L87.17 90.82 L87.47 90.82 L87.77 90.82 L88.07 90.82 L88.35 90.83 L88.64 90.83 L88.91 90.83 L89.18 90.83 L89.44 90.84 L89.69 90.84 L89.94 90.84 L90.18 90.85 L90.41 90.85 L90.64 90.86 L90.86 90.86 L91.07 90.87 L91.27 90.87 L91.46 90.88 L91.65 90.89 L91.83 90.89 L92 90.9 L92.16 90.91 L92.31 90.91 L92.44 90.92 L92.57 90.92 L92.68 90.92 L92.78 90.92 L92.87 90.92 L92.96 90.92 L93.03 90.92 L93.1 90.92 L93.15 90.92 L93.2 90.92 L93.24 90.92 L93.28 90.92 L93.31 90.92 L93.33 90.92 L93.35 90.92 L93.36 90.93 L93.37 90.93 L93.37 90.93 L93.37 90.94 L93.37 90.94 L93.36 90.95 L93.35 90.96 L93.34 90.97 L93.33 90.98 L93.32 90.99 L93.31 91.01 L93.29 91.03 L93.28 91.05 L93.27 91.07 L93.26 91.1 L93.26 91.12 L93.25 91.15 L93.25 91.19 L93.25 91.22 L93.26 91.26 L93.27 91.3 L93.28 91.35 L93.3 91.4 L93.32 91.46 L93.34 91.52 L93.36 91.59 L93.38 91.66 L93.4 91.75 L93.42 91.84 L93.43 91.93 L93.45 92.03 L93.46 92.13 L93.48 92.24 L93.49 92.35 L93.51 92.46 L93.52 92.58 L93.53 92.69 L93.54 92.81 L93.55 92.93 L93.56 93.05 L93.57 93.18 L93.58 93.3 L93.59 93.42 L93.6 93.54 L93.61 93.66 L93.62 93.77 L93.63 93.89 L93.64 94 L93.65 94.1 L93.66 94.21 L93.67 94.31 L93.68 94.4 L93.69 94.49 L93.7 94.58 L93.71 94.65 L93.72 94.72 L93.73 94.79 L93.74 94.84 L93.75 94.89 L93.76 94.93 L93.77 94.97 L93.79 94.99 L93.8 95 L93.81 95 L93.83 95 L93.84 94.99 L93.85 94.97 L93.87 94.94 L93.88 94.91 L93.9 94.87 L93.91 94.83 L93.92 94.78 L93.94 94.73 L93.95 94.67 L93.96 94.6 L93.98 94.53 L93.99 94.46 L94 94.38 L94.02 94.3 L94.03 94.21 L94.05 94.13 L94.06 94.04 L94.08 93.94 L94.09 93.85 L94.1 93.75 L94.12 93.65 L94.13 93.55 L94.15 93.45 L94.16 93.35 L94.18 93.25 L94.19 93.14 L94.21 93.04 L94.23 92.94 L94.24 92.84 L94.26 92.74 L94.28 92.64 L94.29 92.54 L94.31 92.44 L94.33 92.35 L94.35 92.26 L94.36 92.17 L94.38 92.08 L94.4 92 L94.42 91.92 L94.44 91.83 L94.46 91.75 L94.48 91.66 L94.5 91.57 L94.52 91.48 L94.54 91.39 L94.57 91.3 L94.59 91.21 L94.61 91.12 L94.63 91.02 L94.66 90.93 L94.68 90.84 L94.7 90.74 L94.73 90.65 L94.75 90.55 L94.78 90.45 L94.8 90.36 L94.83 90.26 L94.85 90.17 L94.87 90.07 L94.9 89.98 L94.92 89.89 L94.95 89.79 L94.97 89.7 L95 89.61 L95.02 89.52 L95.04 89.43 L95.07 89.35 L95.09 89.26 L95.11 89.18 L95.13 89.09 L95.16 89.01 L95.18 88.93 L95.2 88.85 L95.22 88.78 L95.24 88.71 L95.26 88.63 L95.28 88.57 L95.3 88.5 L95.32 88.43 L95.34 88.37 L95.35 88.3 L95.37 88.24 L95.39 88.17 L95.41 88.11 L95.42 88.04 L95.44 87.97 L95.45 87.91 L95.47 87.85 L95.48 87.78 L95.5 87.72 L95.51 87.66 L95.53 87.6 L95.54 87.54 L95.56 87.48 L95.57 87.42 L95.58 87.37 L95.6 87.31 L95.61 87.26 L95.63 87.21 L95.64 87.17 L95.65 87.12 L95.67 87.08 L95.68 87.04 L95.69 87 L95.71 86.96 L95.72 86.93 L95.74 86.9 L95.75 86.87 L95.76 86.85 L95.78 86.83 L95.79 86.81 L95.81 86.8 L95.82 86.79 L95.84 86.78 L95.85 86.78 L95.87 86.78 L95.88 86.79 L95.9 86.8 L95.92 86.82 L95.93 86.84 L95.95 86.87 L95.96 86.9 L95.98 86.94 L95.99 86.98 L96.01 87.03 L96.02 87.08 L96.04 87.14 L96.05 87.2 L96.07 87.27 L96.08 87.34 L96.1 87.41 L96.11 87.48 L96.12 87.56 L96.14 87.64 L96.15 87.72 L96.17 87.8 L96.18 87.89 L96.2 87.97 L96.22 88.06 L96.23 88.15 L96.25 88.24 L96.26 88.32 L96.28 88.41 L96.3 88.5 L96.32 88.58 L96.34 88.67 L96.35 88.75 L96.37 88.83 L96.39 88.91 L96.41 88.99 L96.43 89.07 L96.46 89.14 L96.48 89.21 L96.5 89.27 L96.52 89.34 L96.55 89.4 L96.57 89.45 L96.6 89.5 L96.63 89.55 L96.65 89.59 L96.68 89.64 L96.71 89.68 L96.74 89.72 L96.77 89.76 L96.8 89.8 L96.83 89.83 L96.87 89.87 L96.9 89.9 L96.93 89.94 L96.97 89.97 L97 90 L97.03 90.03 L97.07 90.06 L97.1 90.09 L97.14 90.12 L97.18 90.14 L97.21 90.17 L97.25 90.19 L97.29 90.22 L97.32 90.24 L97.36 90.26 L97.4 90.29 L97.44 90.31 L97.47 90.33 L97.51 90.35 L97.55 90.37 L97.59 90.39 L97.63 90.41 L97.66 90.43 L97.7 90.45 L97.74 90.47 L97.78 90.49 L97.82 90.51 L97.85 90.53 L97.89 90.54 L97.93 90.56 L97.96 90.58 L98 90.6 L98.04 90.62 L98.07 90.63 L98.11 90.65 L98.15 90.66 L98.19 90.67 L98.22 90.68 L98.26 90.69 L98.3 90.7 L98.34 90.71 L98.38 90.71 L98.42 90.72 L98.46 90.72 L98.5 90.72 L98.54 90.73 L98.58 90.73 L98.62 90.73 L98.66 90.74 L98.7 90.74 L98.74 90.74 L98.78 90.74 L98.81 90.75 L98.85 90.75 L98.89 90.75 L98.93 90.76 L98.97 90.76 L99.01 90.77 L99.05 90.78 L99.08 90.78 L99.12 90.79 L99.16 90.8 L99.19 90.82 L99.23 90.83 L99.27 90.84 L99.3 90.86 L99.34 90.88 L99.37 90.9 L99.4 90.92 L99.44 90.94 L99.47 90.97 L99.5 91 L99.53 91.03 L99.56 91.05 L99.59 91.06 L99.62 91.08 L99.64 91.08 L99.67 91.09 L99.69 91.09 L99.72 91.09 L99.74 91.09 L99.76 91.08 L99.78 91.08 L99.81 91.07 L99.83 91.07 L99.85 91.06 L99.87 91.06 L99.89 91.06 L99.91 91.06 L99.93 91.07 L99.95 91.08 L99.97 91.09 L99.99 91.1 L100.01 91.13 L100.03 91.15 L100.05 91.19 L100.07 91.23 L100.1 91.28 L100.12 91.33 L100.14 91.39 L100.17 91.47 L100.19 91.55 L100.22 91.64 L100.24 91.74 L100.27 91.86 L100.3 91.98 L100.33 92.12 L100.36 92.27 L100.39 92.43 L100.43 92.6 L100.46 92.8 L100.5 93 L100.54 93.22 L100.58 93.45 L100.62 93.7 L100.66 93.96 L100.7 94.23 L100.75 94.52 L100.79 94.81 L100.84 95.12 L100.88 95.44 L100.93 95.77 L100.98 96.1 L101.03 96.45 L101.08 96.81 L101.13 97.17 L101.18 97.54 L101.23 97.92 L101.28 98.31 L101.33 98.7 L101.38 99.1 L101.44 99.5 L101.49 99.91 L101.54 100.32 L101.6 100.74 L101.65 101.16 L101.71 101.58 L101.76 102.01 L101.81 102.44 L101.87 102.87 L101.92 103.3 L101.98 103.73 L102.03 104.17 L102.08 104.6 L102.14 105.03 L102.19 105.46 L102.24 105.89 L102.3 106.32 L102.35 106.74 L102.4 107.17 L102.45 107.59 L102.5 108 L102.55 108.42 L102.6 108.85 L102.65 109.29 L102.7 109.74 L102.76 110.2 L102.81 110.66 L102.86 111.14 L102.91 111.62 L102.97 112.11 L103.02 112.6 L103.07 113.1 L103.13 113.6 L103.18 114.1 L103.24 114.6 L103.29 115.11 L103.34 115.62 L103.4 116.12 L103.45 116.63 L103.5 117.14 L103.56 117.64 L103.61 118.14 L103.66 118.63 L103.71 119.12 L103.76 119.61 L103.82 120.08 L103.87 120.56 L103.92 121.02 L103.97 121.48 L104.02 121.92 L104.06 122.36 L104.11 122.78 L104.16 123.2 L104.2 123.6 L104.25 123.99 L104.29 124.36 L104.34 124.72 L104.38 125.07 L104.42 125.39 L104.46 125.71 L104.5 126 L104.54 126.28 L104.58 126.55 L104.61 126.81 L104.65 127.05 L104.68 127.29 L104.71 127.52 L104.74 127.73 L104.78 127.94 L104.81 128.14 L104.84 128.33 L104.86 128.51 L104.89 128.68 L104.92 128.84 L104.95 129 L104.97 129.14 L105 129.28 L105.03 129.41 L105.05 129.54 L105.08 129.65 L105.1 129.76 L105.12 129.86 L105.15 129.96 L105.17 130.05 L105.2 130.13 L105.22 130.21 L105.24 130.28 L105.27 130.35 L105.29 130.41 L105.31 130.46 L105.34 130.51 L105.36 130.56 L105.39 130.6 L105.41 130.64 L105.44 130.67 L105.46 130.7 L105.49 130.73 L105.52 130.75 L105.54 130.77 L105.57 130.79 L105.6 130.8 L105.63 130.81 L105.66 130.83 L105.69 130.85 L105.71 130.86 L105.74 130.88 L105.77 130.9 L105.8 130.91 L105.83 130.93 L105.85 130.94 L105.88 130.95 L105.91 130.96 L105.94 130.96 L105.96 130.96 L105.99 130.95 L106.02 130.94 L106.05 130.92 L106.08 130.89 L106.11 130.86 L106.13 130.81 L106.16 130.76 L106.19 130.7 L106.22 130.63 L106.25 130.55 L106.28 130.46 L106.31 130.36 L106.34 130.24 L106.37 130.11 L106.4 129.97 L106.43 129.81 L106.46 129.64 L106.49 129.46 L106.53 129.25 L106.56 129.04 L106.59 128.8 L106.63 128.55 L106.66 128.28 L106.69 127.99 L106.73 127.68 L106.76 127.35 L106.8 127 L106.84 126.63 L106.87 126.24 L106.91 125.83 L106.95 125.41 L106.99 124.96 L107.03 124.5 L107.06 124.03 L107.1 123.53 L107.14 123.02 L107.18 122.5 L107.22 121.96 L107.26 121.4 L107.3 120.84 L107.35 120.26 L107.39 119.66 L107.43 119.05 L107.47 118.44 L107.51 117.81 L107.56 117.16 L107.6 116.51 L107.64 115.85 L107.69 115.18 L107.73 114.5 L107.77 113.81 L107.82 113.11 L107.86 112.41 L107.91 111.7 L107.95 110.98 L108 110.25 L108.04 109.52 L108.09 108.78 L108.13 108.04 L108.18 107.3 L108.22 106.55 L108.27 105.8 L108.32 105.04 L108.36 104.28 L108.41 103.52 L108.45 102.76 L108.5 102 L108.55 101.22 L108.59 100.42 L108.64 99.6 L108.69 98.75 L108.74 97.88 L108.79 96.99 L108.84 96.08 L108.89 95.16 L108.94 94.22 L108.99 93.27 L109.04 92.31 L109.09 91.33 L109.15 90.35 L109.2 89.36 L109.25 88.36 L109.3 87.36 L109.35 86.36 L109.41 85.35 L109.46 84.35 L109.51 83.34 L109.56 82.34 L109.62 81.35 L109.67 80.36 L109.72 79.38 L109.77 78.41 L109.83 77.45 L109.88 76.5 L109.93 75.57 L109.98 74.65 L110.03 73.75 L110.08 72.86 L110.13 72 L110.18 71.16 L110.22 70.34 L110.27 69.55 L110.32 68.78 L110.37 68.04 L110.41 67.33 L110.46 66.65 L110.5 66 L110.54 65.38 L110.59 64.77 L110.63 64.17 L110.67 63.59 L110.71 63.02 L110.75 62.47 L110.79 61.93 L110.84 61.4 L110.88 60.89 L110.91 60.39 L110.95 59.91 L110.99 59.44 L111.03 58.98 L111.07 58.54 L111.11 58.11 L111.15 57.69 L111.18 57.29 L111.22 56.9 L111.26 56.52 L111.29 56.16 L111.33 55.8 L111.37 55.47 L111.4 55.14 L111.44 54.83 L111.47 54.53 L111.51 54.24 L111.55 53.97 L111.58 53.7 L111.62 53.45 L111.65 53.21 L111.69 52.99 L111.72 52.78 L111.76 52.57 L111.79 52.39 L111.83 52.21 L111.86 52.04 L111.9 51.89 L111.93 51.75 L111.97 51.62 L112 51.5 L112.03 51.4 L112.07 51.31 L112.1 51.25 L112.14 51.2 L112.17 51.17 L112.2 51.15 L112.24 51.15 L112.27 51.17 L112.3 51.2 L112.33 51.25 L112.37 51.31 L112.4 51.38 L112.43 51.47 L112.46 51.57 L112.49 51.68 L112.52 51.8 L112.56 51.94 L112.59 52.08 L112.62 52.24 L112.65 52.41 L112.68 52.58 L112.71 52.76 L112.74 52.96 L112.78 53.16 L112.81 53.36 L112.84 53.58 L112.87 53.8 L112.9 54.02 L112.93 54.25 L112.97 54.49 L113 54.73 L113.03 54.97 L113.06 55.22 L113.1 55.47 L113.13 55.72 L113.16 55.98 L113.2 56.23 L113.23 56.49 L113.27 56.74 L113.3 57 L113.34 57.26 L113.37 57.54 L113.41 57.84 L113.44 58.14 L113.48 58.46 L113.51 58.8 L113.55 59.14 L113.59 59.5 L113.62 59.86 L113.66 60.23 L113.7 60.62 L113.73 61.01 L113.77 61.4 L113.81 61.81 L113.84 62.21 L113.88 62.63 L113.92 63.05 L113.96 63.47 L113.99 63.89 L114.03 64.31 L114.07 64.74 L114.11 65.16 L114.15 65.59 L114.18 66.01 L114.22 66.43 L114.26 66.85 L114.3 67.27 L114.34 67.68 L114.37 68.08 L114.41 68.48 L114.45 68.88 L114.49 69.26 L114.53 69.64 L114.57 70.01 L114.61 70.37 L114.65 70.72 L114.68 71.06 L114.72 71.39 L114.76 71.7 L114.8 72 L114.84 72.29 L114.88 72.57 L114.91 72.85 L114.95 73.13 L114.99 73.39 L115.03 73.65 L115.06 73.91 L115.1 74.16 L115.14 74.41 L115.17 74.65 L115.21 74.88 L115.25 75.12 L115.28 75.34 L115.32 75.57 L115.36 75.79 L115.39 76 L115.43 76.21 L115.47 76.42 L115.51 76.63 L115.54 76.83 L115.58 77.03 L115.62 77.23 L115.66 77.42 L115.7 77.61 L115.74 77.8 L115.78 77.99 L115.82 78.18 L115.86 78.36 L115.9 78.54 L115.94 78.72 L115.98 78.9 L116.03 79.08 L116.07 79.26 L116.12 79.44 L116.16 79.62 L116.21 79.79 L116.25 79.97 L116.3 80.15 L116.35 80.32 L116.4 80.5 L116.45 80.68 L116.5 80.85 L116.55 81.02 L116.61 81.19 L116.66 81.36 L116.71 81.52 L116.77 81.69 L116.82 81.85 L116.88 82.01 L116.94 82.17 L116.99 82.32 L117.05 82.48 L117.11 82.63 L117.17 82.78 L117.23 82.93 L117.29 83.07 L117.35 83.22 L117.41 83.36 L117.47 83.5 L117.53 83.64 L117.59 83.78 L117.66 83.92 L117.72 84.06 L117.78 84.19 L117.84 84.32 L117.91 84.46 L117.97 84.59 L118.03 84.72 L118.1 84.85 L118.16 84.97 L118.22 85.1 L118.29 85.23 L118.35 85.35 L118.42 85.47 L118.48 85.6 L118.54 85.72 L118.61 85.84 L118.67 85.96 L118.74 86.08 L118.8 86.2 L118.86 86.32 L118.93 86.43 L118.99 86.55 L119.06 86.66 L119.12 86.77 L119.19 86.88 L119.25 86.99 L119.32 87.1 L119.39 87.21 L119.45 87.31 L119.52 87.42 L119.58 87.52 L119.65 87.62 L119.72 87.72 L119.79 87.82 L119.85 87.91 L119.92 88.01 L119.99 88.11 L120.06 88.2 L120.12 88.29 L120.19 88.39 L120.26 88.48 L120.33 88.57 L120.4 88.66 L120.47 88.75 L120.54 88.83 L120.6 88.92 L120.67 89.01 L120.74 89.09 L120.81 89.18 L120.88 89.26 L120.95 89.35 L121.02 89.43 L121.09 89.51 L121.16 89.6 L121.22 89.68 L121.29 89.76 L121.36 89.84 L121.43 89.92 L121.5 90 L121.57 90.08 L121.64 90.16 L121.71 90.24 L121.78 90.33 L121.85 90.41 L121.92 90.5 L121.99 90.58 L122.06 90.66 L122.13 90.75 L122.2 90.83 L122.27 90.92 L122.34 91 L122.41 91.08 L122.48 91.17 L122.55 91.25 L122.62 91.33 L122.69 91.41 L122.76 91.49 L122.83 91.56 L122.9 91.64 L122.97 91.71 L123.04 91.78 L123.11 91.85 L123.18 91.92 L123.25 91.99 L123.32 92.05 L123.39 92.11 L123.46 92.17 L123.53 92.22 L123.6 92.27 L123.67 92.32 L123.74 92.37 L123.81 92.41 L123.88 92.45 L123.95 92.48 L124.02 92.52 L124.09 92.54 L124.16 92.57 L124.23 92.59 L124.3 92.6 L124.37 92.61 L124.44 92.62 L124.51 92.62 L124.57 92.61 L124.64 92.61 L124.71 92.6 L124.78 92.58 L124.84 92.56 L124.91 92.54 L124.98 92.52 L125.05 92.49 L125.11 92.46 L125.18 92.43 L125.25 92.39 L125.32 92.35 L125.38 92.31 L125.45 92.27 L125.52 92.22 L125.58 92.17 L125.65 92.12 L125.72 92.07 L125.78 92.02 L125.85 91.97 L125.92 91.91 L125.98 91.86 L126.05 91.8 L126.12 91.74 L126.19 91.69 L126.25 91.63 L126.32 91.57 L126.39 91.51 L126.46 91.45 L126.52 91.39 L126.59 91.33 L126.66 91.28 L126.73 91.22 L126.79 91.16 L126.86 91.11 L126.93 91.05 L127 91 L127.07 90.95 L127.14 90.9 L127.2 90.85 L127.27 90.8 L127.34 90.75 L127.4 90.7 L127.47 90.65 L127.54 90.6 L127.6 90.56 L127.67 90.51 L127.73 90.46 L127.8 90.41 L127.86 90.36 L127.93 90.32 L127.99 90.27 L128.06 90.21 L128.13 90.16 L128.19 90.11 L128.26 90.06 L128.33 90 L128.39 89.94 L128.46 89.88 L128.53 89.82 L128.6 89.76 L128.67 89.7 L128.73 89.63 L128.8 89.56 L128.88 89.49 L128.95 89.42 L129.02 89.34 L129.09 89.26 L129.17 89.18 L129.24 89.09 L129.32 89.01 L129.4 88.91 L129.48 88.82 L129.55 88.72 L129.64 88.62 L129.72 88.51 L129.8 88.4 L129.88 88.28 L129.97 88.16 L130.06 88.04 L130.15 87.9 L130.24 87.76 L130.34 87.62 L130.43 87.47 L130.53 87.32 L130.63 87.17 L130.73 87.01 L130.83 86.84 L130.93 86.68 L131.03 86.51 L131.13 86.34 L131.23 86.16 L131.34 85.99 L131.44 85.81 L131.55 85.63 L131.65 85.45 L131.76 85.28 L131.86 85.09 L131.97 84.91 L132.07 84.73 L132.17 84.56 L132.28 84.38 L132.38 84.2 L132.48 84.02 L132.58 83.85 L132.68 83.68 L132.78 83.51 L132.88 83.34 L132.98 83.17 L133.08 83.01 L133.17 82.86 L133.26 82.7 L133.35 82.55 L133.44 82.41 L133.53 82.27 L133.62 82.13 L133.7 82 L133.78 81.87 L133.86 81.74 L133.94 81.61 L134.02 81.48 L134.09 81.34 L134.17 81.2 L134.24 81.07 L134.32 80.93 L134.39 80.8 L134.46 80.66 L134.53 80.53 L134.6 80.39 L134.66 80.26 L134.73 80.13 L134.8 80 L134.86 79.87 L134.93 79.75 L134.99 79.62 L135.06 79.5 L135.12 79.39 L135.18 79.27 L135.25 79.17 L135.31 79.06 L135.37 78.96 L135.43 78.87 L135.5 78.78 L135.56 78.69 L135.62 78.61 L135.68 78.54 L135.75 78.47 L135.81 78.41 L135.87 78.36 L135.94 78.31 L136 78.27 L136.07 78.24 L136.13 78.21 L136.2 78.2 L136.26 78.19 L136.33 78.19 L136.4 78.2 L136.47 78.22 L136.54 78.26 L136.61 78.3 L136.68 78.36 L136.75 78.44 L136.82 78.52 L136.89 78.61 L136.96 78.71 L137.03 78.82 L137.1 78.94 L137.17 79.07 L137.24 79.2 L137.31 79.34 L137.38 79.48 L137.45 79.63 L137.52 79.79 L137.59 79.95 L137.66 80.11 L137.73 80.27 L137.8 80.44 L137.87 80.6 L137.94 80.77 L138.01 80.94 L138.08 81.11 L138.15 81.28 L138.22 81.44 L138.29 81.6 L138.36 81.76 L138.43 81.92 L138.5 82.07 L138.57 82.21 L138.64 82.35 L138.71 82.49 L138.78 82.62 L138.85 82.73 L138.92 82.85 L138.99 82.95 L139.06 83.04 L139.13 83.13 L139.2 83.2 L139.27 83.26 L139.34 83.32 L139.41 83.37 L139.48 83.42 L139.55 83.45 L139.62 83.49 L139.68 83.51 L139.75 83.54 L139.82 83.55 L139.89 83.57 L139.96 83.58 L140.03 83.58 L140.1 83.59 L140.17 83.58 L140.24 83.58 L140.31 83.58 L140.38 83.57 L140.45 83.56 L140.52 83.55 L140.59 83.54 L140.66 83.53 L140.72 83.51 L140.79 83.5 L140.86 83.49 L140.93 83.48 L141 83.47 L141.06 83.46 L141.13 83.45 L141.2 83.44 L141.26 83.44 L141.33 83.44 L141.39 83.44 L141.46 83.45 L141.52 83.45 L141.59 83.47 L141.65 83.48 L141.71 83.5 L141.78 83.53 L141.84 83.56 L141.9 83.6 L141.96 83.64 L142.02 83.68 L142.08 83.73 L142.14 83.77 L142.2 83.82 L142.26 83.87 L142.31 83.92 L142.37 83.97 L142.43 84.02 L142.49 84.08 L142.54 84.14 L142.6 84.19 L142.65 84.25 L142.71 84.31 L142.76 84.38 L142.82 84.44 L142.87 84.51 L142.92 84.57 L142.98 84.64 L143.03 84.71 L143.08 84.78 L143.14 84.86 L143.19 84.93 L143.24 85.01 L143.3 85.08 L143.35 85.16 L143.4 85.24 L143.46 85.32 L143.51 85.41 L143.56 85.49 L143.61 85.57 L143.67 85.66 L143.72 85.75 L143.77 85.84 L143.83 85.93 L143.88 86.02 L143.94 86.11 L143.99 86.21 L144.05 86.3 L144.1 86.4 L144.15 86.5 L144.21 86.6 L144.26 86.71 L144.31 86.82 L144.35 86.94 L144.4 87.06 L144.44 87.18 L144.49 87.3 L144.53 87.43 L144.57 87.56 L144.61 87.69 L144.66 87.82 L144.7 87.95 L144.74 88.09 L144.78 88.23 L144.82 88.37 L144.86 88.51 L144.91 88.65 L144.95 88.78 L144.99 88.93 L145.04 89.06 L145.09 89.2 L145.13 89.34 L145.18 89.48 L145.23 89.62 L145.29 89.75 L145.34 89.89 L145.4 90.02 L145.46 90.15 L145.52 90.28 L145.58 90.41 L145.65 90.53 L145.72 90.65 L145.79 90.77 L145.87 90.88 L145.95 91 L146.03 91.1 L146.12 91.21 L146.21 91.31 L146.3 91.4 L146.4 91.49 L146.5 91.58 L146.61 91.66 L146.72 91.74 L146.84 91.82 L146.96 91.9 L147.08 91.97 L147.21 92.04 L147.34 92.11 L147.47 92.18 L147.6 92.25 L147.74 92.31 L147.88 92.37 L148.02 92.43 L148.17 92.49 L148.32 92.54 L148.46 92.6 L148.61 92.65 L148.76 92.7 L148.91 92.76 L149.06 92.81 L149.22 92.86 L149.37 92.91 L149.52 92.96 L149.67 93.01 L149.82 93.06 L149.98 93.11 L150.13 93.15 L150.28 93.2 L150.43 93.25 L150.57 93.3 L150.72 93.36 L150.86 93.41 L151 93.46 L151.14 93.51 L151.28 93.57 L151.41 93.62 L151.55 93.68 L151.67 93.74 L151.8 93.8 L151.92 93.86 L152.05 93.92 L152.17 93.98 L152.29 94.04 L152.41 94.1 L152.52 94.16 L152.64 94.22 L152.76 94.27 L152.87 94.33 L152.99 94.39 L153.1 94.45 L153.22 94.5 L153.33 94.56 L153.44 94.62 L153.55 94.68 L153.66 94.74 L153.77 94.79 L153.88 94.85 L153.99 94.91 L154.1 94.97 L154.21 95.03 L154.32 95.09 L154.42 95.15 L154.53 95.21 L154.63 95.27 L154.74 95.33 L154.85 95.4 L154.95 95.46 L155.06 95.52 L155.16 95.59 L155.27 95.65 L155.37 95.72 L155.47 95.79 L155.58 95.86 L155.68 95.93 L155.79 96 L155.89 96.07 L155.99 96.15 L156.1 96.22 L156.2 96.3 L156.3 96.38 L156.41 96.47 L156.51 96.56 L156.61 96.65 L156.71 96.75 L156.81 96.85 L156.91 96.96 L157.01 97.07 L157.11 97.18 L157.21 97.29 L157.31 97.41 L157.41 97.53 L157.51 97.65 L157.61 97.77 L157.7 97.89 L157.8 98.01 L157.9 98.13 L157.99 98.25 L158.09 98.36 L158.19 98.48 L158.28 98.6 L158.38 98.71 L158.48 98.82 L158.57 98.93 L158.67 99.04 L158.76 99.14 L158.86 99.24 L158.95 99.33 L159.05 99.42 L159.14 99.5 L159.24 99.58 L159.33 99.66 L159.43 99.72 L159.53 99.79 L159.62 99.84 L159.72 99.89 L159.81 99.93 L159.91 99.96 L160 99.98 L160.1 100 L160.2 100.01 L160.29 100.01 L160.39 100 L160.49 99.99 L160.59 99.97 L160.68 99.94 L160.78 99.91 L160.88 99.88 L160.98 99.83 L161.08 99.79 L161.18 99.73 L161.28 99.68 L161.38 99.61 L161.48 99.55 L161.58 99.48 L161.68 99.41 L161.77 99.33 L161.87 99.25 L161.97 99.17 L162.07 99.08 L162.17 98.99 L162.26 98.9 L162.36 98.81 L162.46 98.72 L162.55 98.62 L162.65 98.53 L162.74 98.43 L162.84 98.33 L162.93 98.23 L163.02 98.14 L163.11 98.04 L163.21 97.94 L163.3 97.84 L163.39 97.75 L163.47 97.65 L163.56 97.56 L163.65 97.47 L163.73 97.37 L163.82 97.29 L163.9 97.2 L163.98 97.11 L164.06 97.02 L164.14 96.92 L164.22 96.83 L164.29 96.72 L164.37 96.62 L164.44 96.51 L164.52 96.39 L164.59 96.28 L164.66 96.16 L164.73 96.04 L164.8 95.92 L164.87 95.8 L164.93 95.68 L165 95.56 L165.07 95.44 L165.13 95.31 L165.2 95.19 L165.27 95.07 L165.33 94.95 L165.4 94.83 L165.46 94.71 L165.53 94.6 L165.59 94.48 L165.66 94.37 L165.72 94.26 L165.79 94.16 L165.85 94.06 L165.92 93.96 L165.99 93.86 L166.06 93.77 L166.12 93.69 L166.19 93.61 L166.26 93.53 L166.33 93.46 L166.4 93.39 L166.48 93.34 L166.55 93.28 L166.62 93.24 L166.7 93.2 L166.78 93.17 L166.85 93.14 L166.93 93.13 L167.01 93.12 L167.09 93.11 L167.18 93.12 L167.26 93.12 L167.34 93.14 L167.43 93.15 L167.51 93.18 L167.6 93.2 L167.68 93.23 L167.77 93.27 L167.85 93.31 L167.94 93.35 L168.03 93.39 L168.11 93.44 L168.2 93.49 L168.29 93.54 L168.38 93.59 L168.46 93.64 L168.55 93.69 L168.63 93.75 L168.72 93.8 L168.81 93.85 L168.89 93.91 L168.98 93.96 L169.06 94.01 L169.14 94.06 L169.23 94.1 L169.31 94.15 L169.39 94.19 L169.47 94.23 L169.55 94.27 L169.63 94.3 L169.7 94.33 L169.78 94.35 L169.85 94.37 L169.93 94.39 L170 94.4 L170.07 94.41 L170.14 94.41 L170.22 94.41 L170.29 94.41 L170.36 94.41 L170.43 94.4 L170.5 94.39 L170.58 94.39 L170.65 94.37 L170.72 94.36 L170.79 94.35 L170.86 94.33 L170.93 94.32 L171 94.3 L171.07 94.28 L171.14 94.26 L171.21 94.24 L171.27 94.22 L171.34 94.2 L171.41 94.18 L171.47 94.15 L171.53 94.13 L171.6 94.11 L171.66 94.08 L171.72 94.06 L171.77 94.04 L171.83 94.01 L171.88 93.99 L171.94 93.97 L171.99 93.95 L172.04 93.93 L172.09 93.91 L172.13 93.89 L172.18 93.87 L172.22 93.86 L172.26 93.84 L172.3 93.83 L172.34 93.82 L172.37 93.81 L172.4 93.8" stroke="#000" stroke-width="1.3" fill="none" stroke-linejoin="round"/>
<line x1="27.5" y1="165.4" x2="186.2" y2="165.4" stroke="#000" stroke-width="1.2"/>
<line x1="27.5" y1="35.2" x2="27.5" y2="165.4" stroke="#000" stroke-width="1.2"/>
<line x1="27.5" y1="35.2" x2="186.2" y2="35.2" stroke="#ff1a1a" stroke-width="1.2"/>
<line x1="186.2" y1="35.2" x2="186.2" y2="165.4" stroke="#ff1a1a" stroke-width="1.2"/>
<line x1="43.5" y1="165.4" x2="43.5" y2="162.4" stroke="#000" stroke-width="1"/>
<line x1="75.5" y1="165.4" x2="75.5" y2="162.4" stroke="#000" stroke-width="1"/>
<line x1="107.5" y1="165.4" x2="107.5" y2="162.4" stroke="#000" stroke-width="1"/>
<line x1="139.5" y1="165.4" x2="139.5" y2="162.4" stroke="#000" stroke-width="1"/>
<line x1="171.5" y1="165.4" x2="171.5" y2="162.4" stroke="#000" stroke-width="1"/>
<line x1="27.5" y1="165.4" x2="27.5" y2="163.8" stroke="#000" stroke-width="1"/>
<line x1="59.5" y1="165.4" x2="59.5" y2="163.8" stroke="#000" stroke-width="1"/>
<line x1="91.5" y1="165.4" x2="91.5" y2="163.8" stroke="#000" stroke-width="1"/>
<line x1="123.5" y1="165.4" x2="123.5" y2="163.8" stroke="#000" stroke-width="1"/>
<line x1="155.5" y1="165.4" x2="155.5" y2="163.8" stroke="#000" stroke-width="1"/>
<line x1="187.5" y1="165.4" x2="187.5" y2="163.8" stroke="#000" stroke-width="1"/>
<line x1="27.5" y1="155.1" x2="30.5" y2="155.1" stroke="#000" stroke-width="1"/>
<line x1="27.5" y1="133.5" x2="30.5" y2="133.5" stroke="#000" stroke-width="1"/>
<line x1="27.5" y1="111.9" x2="30.5" y2="111.9" stroke="#000" stroke-width="1"/>
<line x1="27.5" y1="90.3" x2="30.5" y2="90.3" stroke="#000" stroke-width="1"/>
<line x1="27.5" y1="68.7" x2="30.5" y2="68.7" stroke="#000" stroke-width="1"/>
<line x1="27.5" y1="47.1" x2="30.5" y2="47.1" stroke="#000" stroke-width="1"/>
<line x1="27.5" y1="165.9" x2="29.1" y2="165.9" stroke="#000" stroke-width="1"/>
<line x1="27.5" y1="144.3" x2="29.1" y2="144.3" stroke="#000" stroke-width="1"/>
<line x1="27.5" y1="122.7" x2="29.1" y2="122.7" stroke="#000" stroke-width="1"/>
<line x1="27.5" y1="101.1" x2="29.1" y2="101.1" stroke="#000" stroke-width="1"/>
<line x1="27.5" y1="79.5" x2="29.1" y2="79.5" stroke="#000" stroke-width="1"/>
<line x1="27.5" y1="57.9" x2="29.1" y2="57.9" stroke="#000" stroke-width="1"/>
<line x1="27.5" y1="36.3" x2="29.1" y2="36.3" stroke="#000" stroke-width="1"/>
<line x1="27.5" y1="35.2" x2="27.5" y2="38.2" stroke="#ff1a1a" stroke-width="1"/>
<line x1="67.17" y1="35.2" x2="67.17" y2="38.2" stroke="#ff1a1a" stroke-width="1"/>
<line x1="106.85" y1="35.2" x2="106.85" y2="38.2" stroke="#ff1a1a" stroke-width="1"/>
<line x1="146.53" y1="35.2" x2="146.53" y2="38.2" stroke="#ff1a1a" stroke-width="1"/>
<line x1="186.2" y1="35.2" x2="186.2" y2="38.2" stroke="#ff1a1a" stroke-width="1"/>
<line x1="47.34" y1="35.2" x2="47.34" y2="36.8" stroke="#ff1a1a" stroke-width="1"/>
<line x1="87.01" y1="35.2" x2="87.01" y2="36.8" stroke="#ff1a1a" stroke-width="1"/>
<line x1="126.69" y1="35.2" x2="126.69" y2="36.8" stroke="#ff1a1a" stroke-width="1"/>
<line x1="166.36" y1="35.2" x2="166.36" y2="36.8" stroke="#ff1a1a" stroke-width="1"/>
<line x1="186.2" y1="165.05" x2="183.2" y2="165.05" stroke="#ff1a1a" stroke-width="1"/>
<line x1="186.2" y1="146.32" x2="183.2" y2="146.32" stroke="#ff1a1a" stroke-width="1"/>
<line x1="186.2" y1="127.6" x2="183.2" y2="127.6" stroke="#ff1a1a" stroke-width="1"/>
<line x1="186.2" y1="108.88" x2="183.2" y2="108.88" stroke="#ff1a1a" stroke-width="1"/>
<line x1="186.2" y1="90.15" x2="183.2" y2="90.15" stroke="#ff1a1a" stroke-width="1"/>
<line x1="186.2" y1="71.43" x2="183.2" y2="71.43" stroke="#ff1a1a" stroke-width="1"/>
<line x1="186.2" y1="52.7" x2="183.2" y2="52.7" stroke="#ff1a1a" stroke-width="1"/>
<line x1="186.2" y1="155.69" x2="184.6" y2="155.69" stroke="#ff1a1a" stroke-width="1"/>
<line x1="186.2" y1="136.96" x2="184.6" y2="136.96" stroke="#ff1a1a" stroke-width="1"/>
<line x1="186.2" y1="118.24" x2="184.6" y2="118.24" stroke="#ff1a1a" stroke-width="1"/>
<line x1="186.2" y1="99.51" x2="184.6" y2="99.51" stroke="#ff1a1a" stroke-width="1"/>
<line x1="186.2" y1="80.79" x2="184.6" y2="80.79" stroke="#ff1a1a" stroke-width="1"/>
<line x1="186.2" y1="62.06" x2="184.6" y2="62.06" stroke="#ff1a1a" stroke-width="1"/>
<line x1="186.2" y1="43.34" x2="184.6" y2="43.34" stroke="#ff1a1a" stroke-width="1"/>
<text x="43.5" y="174.2" font-size="8.6" fill="#333" text-anchor="middle">6.0</text>
<text x="75.5" y="174.2" font-size="8.6" fill="#333" text-anchor="middle">6.5</text>
<text x="107.5" y="174.2" font-size="8.6" fill="#333" text-anchor="middle">7.0</text>
<text x="139.5" y="174.2" font-size="8.6" fill="#333" text-anchor="middle">7.5</text>
<text x="171.5" y="174.2" font-size="8.6" fill="#333" text-anchor="middle">8.0</text>
<text x="24.3" y="158.2" font-size="8.6" fill="#333" text-anchor="end">-15</text>
<text x="24.3" y="136.6" font-size="8.6" fill="#333" text-anchor="end">-10</text>
<text x="24.3" y="115" font-size="8.6" fill="#333" text-anchor="end">-5</text>
<text x="24.3" y="93.4" font-size="8.6" fill="#333" text-anchor="end">0</text>
<text x="24.3" y="71.8" font-size="8.6" fill="#333" text-anchor="end">5</text>
<text x="24.3" y="50.2" font-size="8.6" fill="#333" text-anchor="end">10</text>
<text x="27.5" y="30.6" font-size="8.6" fill="#ff1a1a" text-anchor="middle">0.0</text>
<text x="67.17" y="30.6" font-size="8.6" fill="#ff1a1a" text-anchor="middle">2.5</text>
<text x="106.85" y="30.6" font-size="8.6" fill="#ff1a1a" text-anchor="middle">5.0</text>
<text x="146.53" y="30.6" font-size="8.6" fill="#ff1a1a" text-anchor="middle">7.5</text>
<text x="186.2" y="30.6" font-size="8.6" fill="#ff1a1a" text-anchor="middle">10.0</text>
<text x="189.3" y="168.15" font-size="8.6" fill="#ff1a1a" text-anchor="start">-3.0</text>
<text x="189.3" y="149.42" font-size="8.6" fill="#ff1a1a" text-anchor="start">-2.5</text>
<text x="189.3" y="130.7" font-size="8.6" fill="#ff1a1a" text-anchor="start">-2.0</text>
<text x="189.3" y="111.97" font-size="8.6" fill="#ff1a1a" text-anchor="start">-1.5</text>
<text x="189.3" y="93.25" font-size="8.6" fill="#ff1a1a" text-anchor="start">-1.0</text>
<text x="189.3" y="74.53" font-size="8.6" fill="#ff1a1a" text-anchor="start">-0.5</text>
<text x="189.3" y="55.8" font-size="8.6" fill="#ff1a1a" text-anchor="start">0.0</text>
<text x="107" y="18.1" font-size="8.3" fill="#ff1a1a" text-anchor="middle" font-weight="bold">Frequency [MHz]</text>
<text x="106.7" y="186.6" font-size="8.5" fill="#000" text-anchor="middle" font-weight="bold">Time [µs]</text>
<text x="12.3" y="101.1" font-size="8.3" fill="#000" text-anchor="middle" font-weight="bold" transform="rotate(-90 12.3 101.1)">Amplitude [mV]</text>
<text x="217.6" y="100.1" font-size="8.4" fill="#ff1a1a" text-anchor="middle" font-weight="bold" transform="rotate(-90 217.6 100.1)">Normalized Amplitude [dB]</text>
<line x1="258.5" y1="164.4" x2="414.2" y2="164.4" stroke="#000" stroke-width="1.2"/>
<line x1="258.5" y1="39.1" x2="258.5" y2="164.4" stroke="#000" stroke-width="1.2"/>
<line x1="258.5" y1="39.1" x2="414.2" y2="39.1" stroke="#ff1a1a" stroke-width="1.2"/>
<line x1="414.2" y1="39.1" x2="414.2" y2="164.4" stroke="#ff1a1a" stroke-width="1.2"/>
<line x1="258.5" y1="164.4" x2="258.5" y2="167" stroke="#000" stroke-width="1"/>
<line x1="284.45" y1="164.4" x2="284.45" y2="167" stroke="#000" stroke-width="1"/>
<line x1="310.4" y1="164.4" x2="310.4" y2="167" stroke="#000" stroke-width="1"/>
<line x1="336.35" y1="164.4" x2="336.35" y2="167" stroke="#000" stroke-width="1"/>
<line x1="362.3" y1="164.4" x2="362.3" y2="167" stroke="#000" stroke-width="1"/>
<line x1="388.25" y1="164.4" x2="388.25" y2="167" stroke="#000" stroke-width="1"/>
<line x1="414.2" y1="164.4" x2="414.2" y2="167" stroke="#000" stroke-width="1"/>
<line x1="271.48" y1="164.4" x2="271.48" y2="165.8" stroke="#000" stroke-width="1"/>
<line x1="297.43" y1="164.4" x2="297.43" y2="165.8" stroke="#000" stroke-width="1"/>
<line x1="323.38" y1="164.4" x2="323.38" y2="165.8" stroke="#000" stroke-width="1"/>
<line x1="349.32" y1="164.4" x2="349.32" y2="165.8" stroke="#000" stroke-width="1"/>
<line x1="375.27" y1="164.4" x2="375.27" y2="165.8" stroke="#000" stroke-width="1"/>
<line x1="401.23" y1="164.4" x2="401.23" y2="165.8" stroke="#000" stroke-width="1"/>
<line x1="258.5" y1="164.4" x2="255.9" y2="164.4" stroke="#000" stroke-width="1"/>
<line x1="258.5" y1="145.07" x2="255.9" y2="145.07" stroke="#000" stroke-width="1"/>
<line x1="258.5" y1="125.74" x2="255.9" y2="125.74" stroke="#000" stroke-width="1"/>
<line x1="258.5" y1="106.41" x2="255.9" y2="106.41" stroke="#000" stroke-width="1"/>
<line x1="258.5" y1="87.08" x2="255.9" y2="87.08" stroke="#000" stroke-width="1"/>
<line x1="258.5" y1="67.75" x2="255.9" y2="67.75" stroke="#000" stroke-width="1"/>
<line x1="258.5" y1="48.42" x2="255.9" y2="48.42" stroke="#000" stroke-width="1"/>
<line x1="258.5" y1="154.74" x2="257.1" y2="154.74" stroke="#000" stroke-width="1"/>
<line x1="258.5" y1="135.41" x2="257.1" y2="135.41" stroke="#000" stroke-width="1"/>
<line x1="258.5" y1="116.08" x2="257.1" y2="116.08" stroke="#000" stroke-width="1"/>
<line x1="258.5" y1="96.75" x2="257.1" y2="96.75" stroke="#000" stroke-width="1"/>
<line x1="258.5" y1="77.42" x2="257.1" y2="77.42" stroke="#000" stroke-width="1"/>
<line x1="258.5" y1="58.09" x2="257.1" y2="58.09" stroke="#000" stroke-width="1"/>
<line x1="258.5" y1="38.75" x2="257.1" y2="38.75" stroke="#000" stroke-width="1"/>
<line x1="258.5" y1="39.1" x2="258.5" y2="36.5" stroke="#ff1a1a" stroke-width="1"/>
<line x1="277.96" y1="39.1" x2="277.96" y2="36.5" stroke="#ff1a1a" stroke-width="1"/>
<line x1="297.43" y1="39.1" x2="297.43" y2="36.5" stroke="#ff1a1a" stroke-width="1"/>
<line x1="316.89" y1="39.1" x2="316.89" y2="36.5" stroke="#ff1a1a" stroke-width="1"/>
<line x1="336.35" y1="39.1" x2="336.35" y2="36.5" stroke="#ff1a1a" stroke-width="1"/>
<line x1="355.81" y1="39.1" x2="355.81" y2="36.5" stroke="#ff1a1a" stroke-width="1"/>
<line x1="375.27" y1="39.1" x2="375.27" y2="36.5" stroke="#ff1a1a" stroke-width="1"/>
<line x1="394.74" y1="39.1" x2="394.74" y2="36.5" stroke="#ff1a1a" stroke-width="1"/>
<line x1="414.2" y1="39.1" x2="414.2" y2="36.5" stroke="#ff1a1a" stroke-width="1"/>
<line x1="268.23" y1="39.1" x2="268.23" y2="37.7" stroke="#ff1a1a" stroke-width="1"/>
<line x1="287.69" y1="39.1" x2="287.69" y2="37.7" stroke="#ff1a1a" stroke-width="1"/>
<line x1="307.16" y1="39.1" x2="307.16" y2="37.7" stroke="#ff1a1a" stroke-width="1"/>
<line x1="326.62" y1="39.1" x2="326.62" y2="37.7" stroke="#ff1a1a" stroke-width="1"/>
<line x1="346.08" y1="39.1" x2="346.08" y2="37.7" stroke="#ff1a1a" stroke-width="1"/>
<line x1="365.54" y1="39.1" x2="365.54" y2="37.7" stroke="#ff1a1a" stroke-width="1"/>
<line x1="385.01" y1="39.1" x2="385.01" y2="37.7" stroke="#ff1a1a" stroke-width="1"/>
<line x1="404.47" y1="39.1" x2="404.47" y2="37.7" stroke="#ff1a1a" stroke-width="1"/>
<line x1="414.2" y1="164.4" x2="416.8" y2="164.4" stroke="#ff1a1a" stroke-width="1"/>
<line x1="414.2" y1="144.6" x2="416.8" y2="144.6" stroke="#ff1a1a" stroke-width="1"/>
<line x1="414.2" y1="124.8" x2="416.8" y2="124.8" stroke="#ff1a1a" stroke-width="1"/>
<line x1="414.2" y1="105" x2="416.8" y2="105" stroke="#ff1a1a" stroke-width="1"/>
<line x1="414.2" y1="85.2" x2="416.8" y2="85.2" stroke="#ff1a1a" stroke-width="1"/>
<line x1="414.2" y1="65.4" x2="416.8" y2="65.4" stroke="#ff1a1a" stroke-width="1"/>
<line x1="414.2" y1="45.6" x2="416.8" y2="45.6" stroke="#ff1a1a" stroke-width="1"/>
<line x1="414.2" y1="154.5" x2="415.6" y2="154.5" stroke="#ff1a1a" stroke-width="1"/>
<line x1="414.2" y1="134.7" x2="415.6" y2="134.7" stroke="#ff1a1a" stroke-width="1"/>
<line x1="414.2" y1="114.9" x2="415.6" y2="114.9" stroke="#ff1a1a" stroke-width="1"/>
<line x1="414.2" y1="95.1" x2="415.6" y2="95.1" stroke="#ff1a1a" stroke-width="1"/>
<line x1="414.2" y1="75.3" x2="415.6" y2="75.3" stroke="#ff1a1a" stroke-width="1"/>
<line x1="414.2" y1="55.5" x2="415.6" y2="55.5" stroke="#ff1a1a" stroke-width="1"/>
<line x1="414.2" y1="35.7" x2="415.6" y2="35.7" stroke="#ff1a1a" stroke-width="1"/>
<text x="258.5" y="175.5" font-size="8.6" fill="#333" text-anchor="middle">6</text>
<text x="284.45" y="175.5" font-size="8.6" fill="#333" text-anchor="middle">8</text>
<text x="310.4" y="175.5" font-size="8.6" fill="#333" text-anchor="middle">10</text>
<text x="336.35" y="175.5" font-size="8.6" fill="#333" text-anchor="middle">12</text>
<text x="362.3" y="175.5" font-size="8.6" fill="#333" text-anchor="middle">14</text>
<text x="388.25" y="175.5" font-size="8.6" fill="#333" text-anchor="middle">16</text>
<text x="414.2" y="175.5" font-size="8.6" fill="#333" text-anchor="middle">18</text>
<text x="254.5" y="167.5" font-size="8.6" fill="#333" text-anchor="end">80</text>
<text x="254.5" y="148.17" font-size="8.6" fill="#333" text-anchor="end">100</text>
<text x="254.5" y="128.84" font-size="8.6" fill="#333" text-anchor="end">120</text>
<text x="254.5" y="109.51" font-size="8.6" fill="#333" text-anchor="end">140</text>
<text x="254.5" y="90.18" font-size="8.6" fill="#333" text-anchor="end">160</text>
<text x="254.5" y="70.85" font-size="8.6" fill="#333" text-anchor="end">180</text>
<text x="254.5" y="51.52" font-size="8.6" fill="#333" text-anchor="end">200</text>
<text x="258.5" y="34.4" font-size="8.6" fill="#ff1a1a" text-anchor="middle">15</text>
<text x="277.96" y="34.4" font-size="8.6" fill="#ff1a1a" text-anchor="middle">20</text>
<text x="297.43" y="34.4" font-size="8.6" fill="#ff1a1a" text-anchor="middle">25</text>
<text x="316.89" y="34.4" font-size="8.6" fill="#ff1a1a" text-anchor="middle">30</text>
<text x="336.35" y="34.4" font-size="8.6" fill="#ff1a1a" text-anchor="middle">35</text>
<text x="355.81" y="34.4" font-size="8.6" fill="#ff1a1a" text-anchor="middle">40</text>
<text x="375.27" y="34.4" font-size="8.6" fill="#ff1a1a" text-anchor="middle">45</text>
<text x="394.74" y="34.4" font-size="8.6" fill="#ff1a1a" text-anchor="middle">50</text>
<text x="414.2" y="34.4" font-size="8.6" fill="#ff1a1a" text-anchor="middle">55</text>
<text x="417.3" y="167.5" font-size="8.6" fill="#ff1a1a" text-anchor="start">60</text>
<text x="417.3" y="147.7" font-size="8.6" fill="#ff1a1a" text-anchor="start">90</text>
<text x="417.3" y="127.9" font-size="8.6" fill="#ff1a1a" text-anchor="start">120</text>
<text x="417.3" y="108.1" font-size="8.6" fill="#ff1a1a" text-anchor="start">150</text>
<text x="417.3" y="88.3" font-size="8.6" fill="#ff1a1a" text-anchor="start">180</text>
<text x="417.3" y="68.5" font-size="8.6" fill="#ff1a1a" text-anchor="start">210</text>
<text x="417.3" y="48.7" font-size="8.6" fill="#ff1a1a" text-anchor="start">240</text>
<text x="336" y="22.5" font-size="8.9" fill="#ff1a1a" text-anchor="middle" font-weight="bold">DC Bias Voltage [V]</text>
<text x="335.9" y="190.8" font-size="8.9" fill="#000" text-anchor="middle" font-weight="bold">AC Voltage [V]</text>
<text x="236.3" y="102" font-size="8.8" fill="#000" text-anchor="middle" font-weight="bold" transform="rotate(-90 236.3 102)">Output Pressure [kPa]</text>
<text x="443.6" y="100.2" font-size="8.9" fill="#ff1a1a" text-anchor="middle" font-weight="bold" transform="rotate(-90 443.6 100.2)">Output Pressure [kPa<tspan font-size="6.6" dy="2.2">pp</tspan><tspan dy="-2.2">]</tspan></text>
<circle cx="270.3" cy="47.2" r="2.3" fill="url(#g_ff1a1a)"/>
<text x="282" y="50.3" font-size="8.3" fill="#ff1a1a">Fixed AC voltage (15.8 V<tspan font-size="6.6" dy="2.4">pp</tspan><tspan dy="-2.4">)</tspan></text>
<circle cx="270.3" cy="59" r="2.3" fill="url(#g_000)"/>
<text x="282" y="62.1" font-size="8.3" fill="#222" text-anchor="start">Fixed DC voltage (48 V)</text>
<line x1="261.5" y1="69.6" x2="279.5" y2="69.6" stroke="#1a1aff" stroke-width="1.1"/>
<text x="282" y="72.7" font-size="8.3" fill="#1a1aff" text-anchor="start">Linear fitting</text>
<circle cx="283.1" cy="150.9" r="2.3" fill="url(#g_000)"/>
<circle cx="303.6" cy="129.6" r="2.3" fill="url(#g_000)"/>
<circle cx="324.1" cy="108.2" r="2.3" fill="url(#g_000)"/>
<circle cx="344.2" cy="92" r="2.3" fill="url(#g_000)"/>
<circle cx="364.7" cy="74.9" r="2.3" fill="url(#g_000)"/>
<circle cx="385.7" cy="51.1" r="2.3" fill="url(#g_000)"/>
<circle cx="277.8" cy="155.5" r="2.3" fill="url(#g_ff1a1a)"/>
<circle cx="317.1" cy="139.5" r="2.3" fill="url(#g_ff1a1a)"/>
<circle cx="355.9" cy="106" r="2.3" fill="url(#g_ff1a1a)"/>
<circle cx="394.9" cy="73.7" r="2.3" fill="url(#g_ff1a1a)"/>
<line x1="283.1" y1="149.7" x2="385.9" y2="51.3" stroke="#1a1aff" stroke-width="1.2"/>
<circle cx="281.8" cy="151.9" r="6.9" fill="none" stroke="#000" stroke-width="1.35" stroke-dasharray="3.2 1.9"/>
<line x1="275.2" y1="149.2" x2="263.6" y2="146.9" stroke="#000" stroke-width="1.2"/>
<path d="M258.2 145.6 L265.2 143.0 L263.4 150.2 Z" stroke="none" stroke-width="1" fill="#000"/>
<circle cx="396.9" cy="73" r="6.8" fill="none" stroke="#ff1a1a" stroke-width="1.35" stroke-dasharray="3.2 1.9"/>
<line x1="403.5" y1="70.7" x2="409.3" y2="68.6" stroke="#ff1a1a" stroke-width="1.2"/>
<path d="M416.6 65.4 L407.8 65.0 L410.8 71.8 Z" stroke="none" stroke-width="1" fill="#ff1a1a"/>
<text x="322.6" y="158.6" font-size="10.1" fill="#1a1aff" text-anchor="start">R-Squared: &#160;0.997</text>
<path d="M492.4 77.26 L492.85 78.77 L493.3 79.91 L493.75 80.37 L494.2 78.12 L494.65 78.82 L495.1 79.4 L495.55 76.74 L496 77.63 L496.45 75.12 L496.9 77.23 L497.35 75.34 L497.8 77.24 L498.25 76.16 L498.7 75 L499.15 77.46 L499.6 76.87 L500.05 76.54 L500.5 78.01 L500.95 76.18 L501.4 76.99 L501.85 75.56 L502.3 78.71 L502.75 78.45 L503.2 75.83 L503.65 78.52 L504.1 76.35 L504.55 78.37 L505 78.48 L505.45 78.49 L505.9 78.5 L506.35 78.08 L506.8 78.6 L507.25 76.29 L507.7 75.23 L508.15 79.16 L508.6 79.33 L509.05 79.41 L509.05 130.98 L508.6 128.67 L508.15 130.31 L507.7 131.25 L507.25 129.57 L506.8 130.77 L506.35 133.29 L505.9 132.62 L505.45 130.55 L505 133.19 L504.55 130.75 L504.1 130.71 L503.65 132.55 L503.2 131.47 L502.75 132.29 L502.3 131.31 L501.85 131.35 L501.4 131.39 L500.95 132.27 L500.5 130.13 L500.05 132.09 L499.6 129.26 L499.15 128.83 L498.7 128.84 L498.25 130.06 L497.8 130.45 L497.35 129.43 L496.9 129.7 L496.45 130.73 L496 132.62 L495.55 129.87 L495.1 131.48 L494.65 130.11 L494.2 130.26 L493.75 130.69 L493.3 132.37 L492.85 131.18 L492.4 134.75 Z" stroke="none" stroke-width="1" fill="#808080"/>
<path d="M492.4 81.66 L492.85 82.36 L493.3 81.19 L493.75 80.87 L494.2 82.05 L494.65 79.32 L495.1 79.9 L495.55 81.54 L496 78.13 L496.45 78.43 L496.9 81 L497.35 78.67 L497.8 85.64 L498.25 79.44 L498.7 86.15 L499.15 87.35 L499.6 87.45 L500.05 86.89 L500.5 88.83 L500.95 87.9 L501.4 90.31 L501.85 87.59 L502.3 88.59 L502.75 89.95 L503.2 86.32 L503.65 86.45 L504.1 86.12 L504.55 82.89 L505 85.33 L505.45 83.86 L505.9 81.07 L506.35 83 L506.8 81.9 L507.25 82 L507.7 83.04 L508.15 82.07 L508.6 84.66 L509.05 82.61 L509.05 128.14 L508.6 128.17 L508.15 127.94 L507.7 130.54 L507.25 128.52 L506.8 130.27 L506.35 130.22 L505.9 130.85 L505.45 128.32 L505 128.2 L504.55 126.08 L504.1 127.86 L503.65 122.81 L503.2 123.85 L502.75 123.1 L502.3 122.09 L501.85 123.58 L501.4 120.89 L500.95 120.71 L500.5 122.15 L500.05 119.57 L499.6 119.66 L499.15 122.79 L498.7 124.63 L498.25 123.97 L497.8 125.98 L497.35 126.25 L496.9 127.54 L496.45 128.93 L496 129.21 L495.55 126.8 L495.1 125.86 L494.65 123.34 L494.2 124.31 L493.75 124.26 L493.3 126.05 L492.85 124.59 L492.4 126.04 Z" stroke="none" stroke-width="1" fill="#000"/>
<path d="M524.9 73.84 L525.35 73.24 L525.8 74.64 L526.25 74.87 L526.7 75.23 L527.15 75.33 L527.6 75.51 L528.05 72.11 L528.5 75 L528.95 75.15 L529.4 73.61 L529.85 71.32 L530.3 72.89 L530.75 73.94 L531.2 75.15 L531.65 75.3 L532.1 75.72 L532.55 73.76 L533 73.92 L533.45 75.69 L533.9 73.69 L534.35 75.13 L534.8 74.94 L535.25 76.3 L535.7 76.27 L536.15 76.26 L536.6 73.25 L537.05 74.32 L537.5 73.81 L537.95 74.7 L538.4 75.03 L538.85 76.92 L539.3 75.26 L539.75 77 L540.2 75.28 L540.65 76.3 L541.1 72.32 L541.55 72.9 L541.55 132.36 L541.1 132.33 L540.65 133.02 L540.2 135.11 L539.75 133.77 L539.3 135.85 L538.85 132.21 L538.4 133.49 L537.95 132.02 L537.5 131.27 L537.05 130.39 L536.6 130.44 L536.15 133.54 L535.7 131.19 L535.25 133.14 L534.8 133.75 L534.35 134.7 L533.9 134.28 L533.45 133.59 L533 136.56 L532.55 134.22 L532.1 132.51 L531.65 132.09 L531.2 132.01 L530.75 131.43 L530.3 131.18 L529.85 131.96 L529.4 131.81 L528.95 130.91 L528.5 132.57 L528.05 133.76 L527.6 132.1 L527.15 131.54 L526.7 132.34 L526.25 131.74 L525.8 134.59 L525.35 134.53 L524.9 132.72 Z" stroke="none" stroke-width="1" fill="#808080"/>
<path d="M524.9 80.26 L525.35 81.81 L525.8 83.32 L526.25 80.76 L526.7 82.16 L527.15 82.8 L527.6 85.44 L528.05 80.47 L528.5 81.06 L528.95 81.24 L529.4 80.19 L529.85 78.53 L530.3 81.14 L530.75 81.33 L531.2 82.68 L531.65 84.72 L532.1 85.8 L532.55 86.28 L533 87.45 L533.45 85.96 L533.9 86.25 L534.35 85.53 L534.8 83.46 L535.25 83.14 L535.7 81.08 L536.15 83.77 L536.6 83.93 L537.05 79.34 L537.5 79.03 L537.95 77.5 L538.4 78.99 L538.85 77.47 L539.3 76.95 L539.75 77.5 L540.2 77.69 L540.65 76.8 L541.1 78.91 L541.55 76.95 L541.55 129.98 L541.1 131.83 L540.65 130.03 L540.2 129.98 L539.75 130.94 L539.3 131.01 L538.85 131.71 L538.4 130.45 L537.95 129.17 L537.5 129.6 L537.05 128.12 L536.6 129.07 L536.15 126.49 L535.7 126.32 L535.25 123.19 L534.8 119.32 L534.35 119.51 L533.9 119.28 L533.45 116.54 L533 121.35 L532.55 117.87 L532.1 119.5 L531.65 118.4 L531.2 122.88 L530.75 119.27 L530.3 122.59 L529.85 120.98 L529.4 127.59 L528.95 128.81 L528.5 130.41 L528.05 130.62 L527.6 131.6 L527.15 129.91 L526.7 131.84 L526.25 131.24 L525.8 132.63 L525.35 130.28 L524.9 129.3 Z" stroke="none" stroke-width="1" fill="#000"/>
<path d="M559 72.82 L559.45 74.9 L559.9 75.85 L560.35 72.14 L560.8 75.54 L561.25 75.16 L561.7 74.47 L562.15 73.92 L562.6 74.73 L563.05 74.39 L563.5 73.6 L563.95 74.25 L564.4 74.63 L564.85 74.39 L565.3 74.49 L565.75 74.76 L566.2 73.96 L566.65 74.52 L567.1 75.08 L567.55 74.09 L568 73.69 L568.45 75 L568.9 76.35 L569.35 73.47 L569.8 77.07 L570.25 74.92 L570.7 76.85 L571.15 76.86 L571.6 74.46 L572.05 75.38 L572.5 72.64 L572.95 73.07 L573.4 75.54 L573.85 74.51 L574.3 72.97 L574.75 74.98 L575.2 74.19 L575.65 71.27 L575.65 133.67 L575.2 136.43 L574.75 133.09 L574.3 132.85 L573.85 132.65 L573.4 135.86 L572.95 133.18 L572.5 136.91 L572.05 133.26 L571.6 135.11 L571.15 134.43 L570.7 134.03 L570.25 133.8 L569.8 133.84 L569.35 133.16 L568.9 132.76 L568.45 132.75 L568 132.52 L567.55 132.96 L567.1 132.37 L566.65 132.27 L566.2 133.62 L565.75 133.51 L565.3 132.53 L564.85 135.82 L564.4 132.55 L563.95 135.6 L563.5 131.8 L563.05 131.56 L562.6 132.48 L562.15 132.18 L561.7 134 L561.25 131.98 L560.8 131.57 L560.35 131.49 L559.9 131.19 L559.45 130.95 L559 131.16 Z" stroke="none" stroke-width="1" fill="#808080"/>
<path d="M559 81.32 L559.45 76.71 L559.9 78.69 L560.35 74.95 L560.8 76.04 L561.25 77.11 L561.7 76.68 L562.15 76.17 L562.6 75.38 L563.05 79.08 L563.5 80.3 L563.95 79.68 L564.4 77.91 L564.85 78.51 L565.3 78.3 L565.75 81.34 L566.2 83.57 L566.65 85.38 L567.1 84.41 L567.55 86.47 L568 86.17 L568.45 83.66 L568.9 82.94 L569.35 84.81 L569.8 80.89 L570.25 80.74 L570.7 77.96 L571.15 77.87 L571.6 74.96 L572.05 77.9 L572.5 80.51 L572.95 82.8 L573.4 82.44 L573.85 82.29 L574.3 81.46 L574.75 80.19 L575.2 80.3 L575.65 81.16 L575.65 126 L575.2 128.34 L574.75 126.63 L574.3 124.95 L573.85 126.46 L573.4 129.51 L572.95 126.86 L572.5 127.32 L572.05 128.04 L571.6 126.66 L571.15 124.73 L570.7 125.48 L570.25 123.78 L569.8 124.33 L569.35 123.69 L568.9 121.94 L568.45 120.81 L568 120.7 L567.55 117.75 L567.1 116.24 L566.65 115.87 L566.2 119.7 L565.75 121.07 L565.3 124.14 L564.85 128.03 L564.4 127.5 L563.95 131.1 L563.5 131.14 L563.05 128.94 L562.6 126.43 L562.15 126.49 L561.7 121.73 L561.25 120.99 L560.8 122.56 L560.35 122.77 L559.9 125.1 L559.45 128.36 L559 125.76 Z" stroke="none" stroke-width="1" fill="#000"/>
<path d="M593.3 76.62 L593.75 76.66 L594.2 76.28 L594.65 75.96 L595.1 75.55 L595.55 74.06 L596 75.52 L596.45 72.67 L596.9 74.99 L597.35 76.16 L597.8 76.33 L598.25 76.61 L598.7 76.89 L599.15 77.56 L599.6 76.58 L600.05 77.03 L600.5 77.76 L600.95 78.7 L601.4 78.39 L601.85 78.59 L602.3 75.15 L602.75 78.01 L603.2 77.41 L603.65 76.31 L604.1 76.95 L604.55 74.09 L605 76.08 L605.45 76.48 L605.9 77.04 L606.35 77.18 L606.8 76.56 L607.25 77.67 L607.7 77.97 L608.15 77.08 L608.6 78.05 L609.05 75.79 L609.5 77.01 L609.95 76.97 L609.95 133.47 L609.5 133.34 L609.05 133.07 L608.6 135.27 L608.15 133.82 L607.7 133.44 L607.25 132.68 L606.8 135 L606.35 132.69 L605.9 133.7 L605.45 132.39 L605 134.79 L604.55 132.28 L604.1 132.35 L603.65 132.82 L603.2 132.96 L602.75 132.09 L602.3 134.38 L601.85 131.95 L601.4 131.16 L600.95 131.94 L600.5 131.08 L600.05 132.55 L599.6 130.98 L599.15 131.24 L598.7 130.62 L598.25 130.64 L597.8 132 L597.35 130.75 L596.9 131.01 L596.45 131.18 L596 131.45 L595.55 131.53 L595.1 131.57 L594.65 132.3 L594.2 131.42 L593.75 133.39 L593.3 133.88 Z" stroke="none" stroke-width="1" fill="#808080"/>
<path d="M593.3 79.94 L593.75 81.47 L594.2 80.81 L594.65 77.48 L595.1 79.16 L595.55 79.03 L596 79.75 L596.45 78.54 L596.9 78.26 L597.35 78.93 L597.8 77.96 L598.25 81.41 L598.7 81.36 L599.15 83.34 L599.6 81.59 L600.05 82.74 L600.5 82.41 L600.95 82.76 L601.4 85.52 L601.85 83.3 L602.3 82.61 L602.75 78.51 L603.2 78.78 L603.65 76.81 L604.1 77.45 L604.55 77.47 L605 79.12 L605.45 78.27 L605.9 77.54 L606.35 78.23 L606.8 77.12 L607.25 78.17 L607.7 78.47 L608.15 77.76 L608.6 78.55 L609.05 79.73 L609.5 79.27 L609.95 80.85 L609.95 125.45 L609.5 124.26 L609.05 123.89 L608.6 124.57 L608.15 125.96 L607.7 125.01 L607.25 127.02 L606.8 128.06 L606.35 126.96 L605.9 126.38 L605.45 126.4 L605 124.14 L604.55 125.24 L604.1 124.68 L603.65 120.97 L603.2 118.33 L602.75 117.18 L602.3 115.8 L601.85 116.76 L601.4 118.05 L600.95 120.85 L600.5 120.52 L600.05 123.71 L599.6 125.4 L599.15 127.56 L598.7 128.71 L598.25 126.91 L597.8 127.43 L597.35 130.03 L596.9 129.19 L596.45 129.51 L596 130.95 L595.55 130.44 L595.1 130.24 L594.65 127.74 L594.2 127.84 L593.75 128.32 L593.3 127.75 Z" stroke="none" stroke-width="1" fill="#000"/>
<path d="M627.4 73.31 L627.85 76.2 L628.3 73.53 L628.75 73.6 L629.2 72.72 L629.65 75.66 L630.1 72.6 L630.55 72.46 L631 76.7 L631.45 76.1 L631.9 77.85 L632.35 77.07 L632.8 76.68 L633.25 76.48 L633.7 75.63 L634.15 78.09 L634.6 78.21 L635.05 75.81 L635.5 78.21 L635.95 78.05 L636.4 77.91 L636.85 75.67 L637.3 76.99 L637.75 74.66 L638.2 75.57 L638.65 74.32 L639.1 74.73 L639.55 74.06 L640 76.85 L640.45 76.7 L640.9 75.69 L641.35 75.82 L641.8 74.64 L642.25 74.36 L642.7 76.49 L643.15 76.7 L643.6 74.91 L644.05 75.35 L644.05 132.53 L643.6 134.12 L643.15 133.05 L642.7 136.53 L642.25 133.68 L641.8 133.53 L641.35 133.54 L640.9 134 L640.45 133.27 L640 133.22 L639.55 134.1 L639.1 133.55 L638.65 132.64 L638.2 132.68 L637.75 132.31 L637.3 134.83 L636.85 133.31 L636.4 133.67 L635.95 132.84 L635.5 132.49 L635.05 133.87 L634.6 132.87 L634.15 133.05 L633.7 133.68 L633.25 136.23 L632.8 136.09 L632.35 133.89 L631.9 133.31 L631.45 132.98 L631 132.92 L630.55 132.31 L630.1 131.89 L629.65 131.63 L629.2 131.42 L628.75 131.16 L628.3 130.88 L627.85 130.8 L627.4 130.96 Z" stroke="none" stroke-width="1" fill="#808080"/>
<path d="M627.4 77.62 L627.85 78.67 L628.3 76.09 L628.75 76.93 L629.2 79.55 L629.65 78.48 L630.1 78.99 L630.55 81.2 L631 81.26 L631.45 82.75 L631.9 82.76 L632.35 81.39 L632.8 82.54 L633.25 83.17 L633.7 82.02 L634.15 83.43 L634.6 87.21 L635.05 84.74 L635.5 89.4 L635.95 88.67 L636.4 87.04 L636.85 86.81 L637.3 85.52 L637.75 85.42 L638.2 82.1 L638.65 81.33 L639.1 80.24 L639.55 82.02 L640 79.33 L640.45 77.2 L640.9 76.19 L641.35 76.32 L641.8 75.76 L642.25 75.97 L642.7 79.07 L643.15 77.2 L643.6 78.15 L644.05 77.77 L644.05 125.21 L643.6 127.59 L643.15 130.34 L642.7 127.98 L642.25 129.11 L641.8 127.66 L641.35 127.24 L640.9 128.51 L640.45 128.11 L640 127.97 L639.55 127.04 L639.1 126.21 L638.65 122.21 L638.2 125.06 L637.75 125.92 L637.3 122.6 L636.85 121.1 L636.4 124.15 L635.95 122.04 L635.5 120.3 L635.05 127.34 L634.6 126.44 L634.15 127.21 L633.7 125.75 L633.25 127.57 L632.8 129.65 L632.35 129.69 L631.9 131.61 L631.45 131.31 L631 132.42 L630.55 130.85 L630.1 131.39 L629.65 129.46 L629.2 130.92 L628.75 130.66 L628.3 129.8 L627.85 129.82 L627.4 128.76 Z" stroke="none" stroke-width="1" fill="#000"/>
<path d="M500.8 107.6 L502.73 107.26 L505.19 106.79 L508.11 106.23 L511.38 105.61 L514.92 104.95 L518.62 104.29 L522.41 103.67 L526.18 103.11 L529.84 102.64 L533.3 102.3 L536.64 102.08 L540.01 101.94 L543.41 101.87 L546.82 101.85 L550.24 101.88 L553.67 101.94 L557.1 102.03 L560.54 102.13 L563.97 102.22 L567.4 102.3 L570.82 102.39 L574.25 102.51 L577.68 102.66 L581.12 102.83 L584.55 103 L587.98 103.17 L591.42 103.34 L594.85 103.49 L598.28 103.61 L601.7 103.7 L605.27 103.76 L609.08 103.79 L613.02 103.8 L616.99 103.8 L620.89 103.79 L624.62 103.77 L628.08 103.74 L631.17 103.72 L633.77 103.71 L635.8 103.7" stroke="#ff1a1a" stroke-width="0.9" fill="none" stroke-dasharray="7 3.5" stroke-opacity="0.9"/>
<circle cx="500.8" cy="107.6" r="2.15" fill="url(#g_ff1a1a)"/>
<circle cx="533.3" cy="102.3" r="2.15" fill="url(#g_ff1a1a)"/>
<circle cx="567.4" cy="102.3" r="2.15" fill="url(#g_ff1a1a)"/>
<circle cx="601.7" cy="103.7" r="2.15" fill="url(#g_ff1a1a)"/>
<circle cx="635.8" cy="103.7" r="2.15" fill="url(#g_ff1a1a)"/>
<circle cx="638.7" cy="103.7" r="6.6" fill="none" stroke="#ff1a1a" stroke-width="1.35" stroke-dasharray="3.2 1.9"/>
<line x1="644.6" y1="101.3" x2="648.5" y2="98.2" stroke="#ff1a1a" stroke-width="1.1"/>
<path d="M653.8 93.6 L645.8 95.2 L650.6 100.6 Z" stroke="none" stroke-width="1" fill="#ff1a1a"/>
<line x1="484.4" y1="170" x2="651.8" y2="170" stroke="#444" stroke-width="1.2"/>
<line x1="484.4" y1="34.4" x2="651.8" y2="34.4" stroke="#444" stroke-width="1.2"/>
<line x1="484.4" y1="34.4" x2="484.4" y2="170" stroke="#444" stroke-width="1.2"/>
<line x1="651.8" y1="34.4" x2="651.8" y2="170" stroke="#ff1a1a" stroke-width="1.2"/>
<rect x="513.7" y="32.4" width="4" height="4" fill="#fff"/>
<line x1="512.5" y1="37.3" x2="515.5" y2="31.5" stroke="#000" stroke-width="1"/>
<line x1="515.9" y1="37.3" x2="518.9" y2="31.5" stroke="#000" stroke-width="1"/>
<rect x="513.7" y="168" width="4" height="4" fill="#fff"/>
<line x1="512.5" y1="172.9" x2="515.5" y2="167.1" stroke="#000" stroke-width="1"/>
<line x1="515.9" y1="172.9" x2="518.9" y2="167.1" stroke="#000" stroke-width="1"/>
<rect x="547.7" y="32.4" width="4" height="4" fill="#fff"/>
<line x1="546.5" y1="37.3" x2="549.5" y2="31.5" stroke="#000" stroke-width="1"/>
<line x1="549.9" y1="37.3" x2="552.9" y2="31.5" stroke="#000" stroke-width="1"/>
<rect x="547.7" y="168" width="4" height="4" fill="#fff"/>
<line x1="546.5" y1="172.9" x2="549.5" y2="167.1" stroke="#000" stroke-width="1"/>
<line x1="549.9" y1="172.9" x2="552.9" y2="167.1" stroke="#000" stroke-width="1"/>
<rect x="581.8" y="32.4" width="4" height="4" fill="#fff"/>
<line x1="580.6" y1="37.3" x2="583.6" y2="31.5" stroke="#000" stroke-width="1"/>
<line x1="584" y1="37.3" x2="587" y2="31.5" stroke="#000" stroke-width="1"/>
<rect x="581.8" y="168" width="4" height="4" fill="#fff"/>
<line x1="580.6" y1="172.9" x2="583.6" y2="167.1" stroke="#000" stroke-width="1"/>
<line x1="584" y1="172.9" x2="587" y2="167.1" stroke="#000" stroke-width="1"/>
<rect x="616" y="32.4" width="4" height="4" fill="#fff"/>
<line x1="614.8" y1="37.3" x2="617.8" y2="31.5" stroke="#000" stroke-width="1"/>
<line x1="618.2" y1="37.3" x2="621.2" y2="31.5" stroke="#000" stroke-width="1"/>
<rect x="616" y="168" width="4" height="4" fill="#fff"/>
<line x1="614.8" y1="172.9" x2="617.8" y2="167.1" stroke="#000" stroke-width="1"/>
<line x1="618.2" y1="172.9" x2="621.2" y2="167.1" stroke="#000" stroke-width="1"/>
<line x1="484.4" y1="34.4" x2="487.4" y2="34.4" stroke="#444" stroke-width="1"/>
<line x1="484.4" y1="68.3" x2="487.4" y2="68.3" stroke="#444" stroke-width="1"/>
<line x1="484.4" y1="102.2" x2="487.4" y2="102.2" stroke="#444" stroke-width="1"/>
<line x1="484.4" y1="136.1" x2="487.4" y2="136.1" stroke="#444" stroke-width="1"/>
<line x1="484.4" y1="170" x2="487.4" y2="170" stroke="#444" stroke-width="1"/>
<line x1="484.4" y1="51.35" x2="486" y2="51.35" stroke="#444" stroke-width="1"/>
<line x1="484.4" y1="85.25" x2="486" y2="85.25" stroke="#444" stroke-width="1"/>
<line x1="484.4" y1="119.15" x2="486" y2="119.15" stroke="#444" stroke-width="1"/>
<line x1="484.4" y1="153.05" x2="486" y2="153.05" stroke="#444" stroke-width="1"/>
<line x1="500.8" y1="170" x2="500.8" y2="167" stroke="#444" stroke-width="1"/>
<line x1="533.3" y1="170" x2="533.3" y2="167" stroke="#444" stroke-width="1"/>
<line x1="567.4" y1="170" x2="567.4" y2="167" stroke="#444" stroke-width="1"/>
<line x1="601.7" y1="170" x2="601.7" y2="167" stroke="#444" stroke-width="1"/>
<line x1="635.8" y1="170" x2="635.8" y2="167" stroke="#444" stroke-width="1"/>
<line x1="651.8" y1="170" x2="648.8" y2="170" stroke="#ff1a1a" stroke-width="1"/>
<line x1="651.8" y1="136.1" x2="648.8" y2="136.1" stroke="#ff1a1a" stroke-width="1"/>
<line x1="651.8" y1="102.2" x2="648.8" y2="102.2" stroke="#ff1a1a" stroke-width="1"/>
<line x1="651.8" y1="68.3" x2="648.8" y2="68.3" stroke="#ff1a1a" stroke-width="1"/>
<line x1="651.8" y1="34.4" x2="648.8" y2="34.4" stroke="#ff1a1a" stroke-width="1"/>
<line x1="651.8" y1="153.05" x2="650.2" y2="153.05" stroke="#ff1a1a" stroke-width="1"/>
<line x1="651.8" y1="119.15" x2="650.2" y2="119.15" stroke="#ff1a1a" stroke-width="1"/>
<line x1="651.8" y1="85.25" x2="650.2" y2="85.25" stroke="#ff1a1a" stroke-width="1"/>
<line x1="651.8" y1="51.35" x2="650.2" y2="51.35" stroke="#ff1a1a" stroke-width="1"/>
<text x="481.6" y="37.6" font-size="8.8" fill="#333" text-anchor="end">2</text>
<text x="481.6" y="71.5" font-size="8.8" fill="#333" text-anchor="end">1</text>
<text x="481.6" y="105.4" font-size="8.8" fill="#333" text-anchor="end">0</text>
<text x="481.6" y="139.3" font-size="8.8" fill="#333" text-anchor="end">-1</text>
<text x="481.6" y="173.2" font-size="8.8" fill="#333" text-anchor="end">-2</text>
<text x="655.3" y="173.2" font-size="8.8" fill="#ff1a1a" text-anchor="start">0.0</text>
<text x="655.3" y="139.3" font-size="8.8" fill="#ff1a1a" text-anchor="start">0.5</text>
<text x="655.3" y="105.4" font-size="8.8" fill="#ff1a1a" text-anchor="start">1.0</text>
<text x="655.3" y="71.5" font-size="8.8" fill="#ff1a1a" text-anchor="start">1.5</text>
<text x="655.3" y="37.6" font-size="8.8" fill="#ff1a1a" text-anchor="start">2.0</text>
<text x="500.8" y="181.2" font-size="8.8" fill="#333" text-anchor="middle">0</text>
<text x="533.3" y="181.2" font-size="8.8" fill="#333" text-anchor="middle">24</text>
<text x="567.4" y="181.2" font-size="8.8" fill="#333" text-anchor="middle">48</text>
<text x="601.7" y="181.2" font-size="8.8" fill="#333" text-anchor="middle">72</text>
<text x="635.8" y="181.2" font-size="8.8" fill="#333" text-anchor="middle">96</text>
<text x="568.4" y="196.2" font-size="9.3" fill="#000" text-anchor="middle" font-weight="bold">Time [h]</text>
<text x="468.4" y="101.5" font-size="9.5" fill="#000" text-anchor="middle" font-weight="bold" transform="rotate(-90 468.4 101.5)">Amplitude [a.u.]</text>
<text x="680.2" y="103.7" font-size="9" fill="#ff1a1a" text-anchor="middle" font-weight="bold" transform="rotate(-90 680.2 103.7)">Normalized Amplitude [a.u.]</text>
<path d="M51.7 321.62 L52.2 321.83 L52.7 321.87 L53.2 321.76 L53.7 321.45 L54.2 322.26 L54.7 321.5 L55.2 321.98 L55.7 321.63 L56.2 321.32 L56.7 322.23 L57.2 320.86 L57.7 321.44 L58.2 321.89 L58.7 321.61 L59.2 322 L59.7 321.7 L60.2 321.58 L60.7 322.49 L61.2 321.66 L61.7 321.68 L62.2 321.36" stroke="#000" stroke-width="1.6" fill="none"/>
<path d="M190 321.51 L190.5 321.93 L191 321.91 L191.5 321.74 L192 321.53 L192.5 321.94 L193 321.23 L193.5 321.64 L194 321.66 L194.5 321.48 L195 321.78 L195.5 321.54 L196 321.5 L196.5 322.28 L197 321.96 L197.5 322.1 L198 321.76 L198.5 322.03 L199 321.97 L199.5 322.1 L200 322.45 L200.5 321.67 L201 321.82 L201.5 321.73 L202 320.69 L202.5 321.32 L203 321.75 L203.5 321.93 L204 321.57 L204.5 322.08 L205 322.13 L205.5 321.62 L206 322.17 L206.5 322.27 L207 321.88 L207.5 321.45 L208 322.18 L208.5 321.69 L209 321.63 L209.5 321.78 L210 321.58 L210.5 322.07 L211 321.98 L211.5 322.11 L212 321.92 L212.5 321.51 L213 321.7 L213.5 322.01 L214 321.62 L214.5 322.62 L215 321.67 L215.5 321.57 L216 322.09 L216.5 321.97 L217 321.74 L217.5 321.68 L218 321.87 L218.5 322 L219 321.97 L219.5 321.65 L220 321.87 L220.5 322 L221 321.97 L221.5 320.82 L222 321.48 L222.5 321.51 L223 321.68 L223.5 321.8 L224 322.02 L224.5 321.93 L225 321.71 L225.5 321.75 L226 322.27 L226.5 321.56 L227 321.84 L227.5 322.21 L228 321.85 L228.5 321.13 L229 321.86 L229.5 321.63 L230 321.71 L230.5 322.06 L231 321.89 L231.5 321.67 L232 322.01 L232.5 321.88 L233 321.78 L233.5 321.83 L234 321.82 L234.5 321.64 L235 321.61 L235.5 321.75 L236 321.46 L236.5 321.37 L237 322.13 L237.5 321.67 L238 321.74 L238.5 321.7 L239 321.75 L239.5 321.75 L240 321.76 L240.5 321.5 L241 322.02 L241.5 321.54 L242 322.05 L242.5 321.17 L243 321.43 L243.5 322.04 L244 321.7 L244.5 321.54 L245 321.86 L245.5 321.43 L246 321.77 L246.5 321.08 L247 321.61 L247.5 321.55 L248 321.91 L248.5 322.01 L249 321.49 L249.5 322.23 L250 321.57 L250.5 321.13 L251 321.03 L251.5 322.21 L252 321.72 L252.5 321.55 L253 321.52 L253.5 321.42 L254 322.15 L254.5 321.72 L255 322.28 L255.5 321.68 L256 321.04 L256.5 322 L257 321.63 L257.5 321.67 L258 322.21 L258.5 321.67 L259 322.09 L259.5 321.74 L260 321.52 L260.5 321.9 L261 321.56 L261.5 322.11 L262 322.03 L262.5 321.76 L263 321.93 L263.5 321.91 L264 321.66 L264.5 322.01 L265 321.68 L265.5 321.93 L266 321.46 L266.5 321.78 L267 321.87 L267.5 321.51 L268 321.62 L268.5 321.59 L269 321.96 L269.5 321.53 L270 321.88 L270.5 322.2 L271 321.85 L271.5 321.26 L272 321.78 L272.5 322.06 L273 321.66 L273.5 322.08 L274 321.93 L274.5 321.87 L275 321.67 L275.5 321.59 L276 321.67 L276.5 321.77 L277 321.9 L277.5 321.87 L278 321.66 L278.5 321.77 L279 321.86 L279.5 321.26 L280 321.52 L280.5 321.51 L281 321.69 L281.5 321.67 L282 321.67 L282.5 321.49 L283 321.95 L283.5 321.83 L284 321.26 L284.5 321.75 L285 321.41 L285.5 322.26 L286 321.61 L286.5 321.63 L287 321.77 L287.5 321.69 L288 321.73 L288.5 322.21 L289 321.82 L289.5 322 L290 322.09 L290.5 321.46 L291 322.26 L291.5 321.96 L292 322.04 L292.5 321.49 L293 321.99 L293.5 321.87 L294 321.59 L294.5 322.43 L295 321.92 L295.5 321.68 L296 321.81 L296.5 322.02 L297 322.09 L297.5 321.92 L298 322.12 L298.5 322.19 L299 321.38 L299.5 321.6 L300 321.47 L300.5 321.78 L301 322.18 L301.5 321.95 L302 321.44 L302.5 321.66 L303 322.06 L303.5 321.59 L304 321.72 L304.5 321.84 L305 321.2 L305.5 321.98 L306 321.85 L306.5 321.92 L307 321.46 L307.5 321.52 L308 321.57" stroke="#111" stroke-width="1.1" fill="none"/>
<path d="M62 302.44 L62.6 302.49 L63.2 302.01 L63.8 302.29 L64.4 302.43 L65 301.9 L65.6 302.44 L66.2 302.21 L66.8 302.39 L67.4 302.37 L68 302.37 L68.6 301.94 L69.2 302.29 L69.8 301.99 L70.4 302.04 L71 302.45 L71.6 302.33 L72.2 302.45 L72.8 302.35 L73.4 302.28 L74 302.43 L74.6 301.97 L75.2 302.51 L75.8 302.19 L76.4 302.42 L77 302.5 L77.6 301.99 L78.2 301.68 L78.8 302.22 L79.4 302.19 L80 302.17 L80.6 302.32 L81.2 302.15 L81.8 302.17 L82.4 302.27 L83 302.1 L83.6 301.95 L84.2 302.17 L84.8 302.5 L85.4 302.02 L86 302.54 L86.6 302.27 L87.2 302.2 L87.8 302.47 L88.4 301.84 L89 302.5 L89.6 302.23 L90.2 302.52 L90.8 302.46 L91.4 302.33 L92 301.63 L92.6 302.05 L93.2 302.14 L93.8 302.13 L94.4 302.18 L95 302.33 L95.6 302.09 L96.2 302.12 L96.8 301.84 L97.4 302.39 L98 302.52 L98.6 302.39 L99.2 302.41 L99.8 302.49 L100.4 302.42 L101 302.35 L101.6 302.49 L102.2 302.45 L102.8 302.04 L103.4 302.38 L104 302.25 L104.6 301.99 L105.2 302.52 L105.8 302.19 L106.4 302.52 L107 301.87 L107.6 301.87 L108.2 302.52 L108.8 302.49 L109.4 302.44 L110 302.34 L110.6 302.32 L111.2 301.3 L111.8 301.82 L112.4 302.19 L113 302 L113.6 302.47 L114.2 301.79 L114.8 302.53 L115.4 302.26 L116 302.39 L116.6 302.17 L117.2 302.39 L117.8 302.13 L118.4 302.35 L119 302.22 L119.6 302.2 L120.2 302.41 L120.8 302.46 L121.4 302.3 L122 302.25 L122.6 302.47 L123.2 302.36 L123.8 302.13 L124.4 302.47 L125 301.6 L125.6 302.46 L126.2 302.48 L126.8 302.48 L127.4 302.03 L128 302.47 L128.6 302.38 L129.2 302.09 L129.8 301.86 L130.4 302.03 L131 301.94 L131.6 302.52 L132.2 302.12 L132.8 302.43 L133.4 302.19 L134 302.36 L134.6 302.05 L135.2 302.34 L135.8 302.07 L136.4 302.51 L137 301.88 L137.6 302.34 L138.2 302.18 L138.8 302.02 L139.4 302 L140 302.07 L140.6 302.36 L141.2 301.53 L141.8 302.05 L142.4 302.48 L143 302.35 L143.6 302.45 L144.2 302.37 L144.8 302.48 L145.4 302.53 L146 302.18 L146.6 302.42 L147.2 302.17 L147.8 302.2 L148.4 302.32 L149 302.22 L149.6 302.06 L150.2 302.26 L150.8 302.54 L151.4 301.88 L152 301.81 L152.6 302.54 L153.2 302.24 L153.8 302.41 L154.4 301.84 L155 302.2 L155.6 302.07 L156.2 301.94 L156.8 302.12 L157.4 301.93 L158 302.44 L158.6 301.76 L159.2 302.45 L159.8 302.15 L160.4 302.31 L161 302.32 L161.6 302.25 L162.2 302.39 L162.8 301.85 L163.4 301.81 L164 302.28 L164.6 302.06 L165.2 301.82 L165.8 302.12 L166.4 302.46 L167 302.39 L167.6 302.26 L168.2 302.35 L168.8 302.03 L169.4 302.32 L170 301.64 L170.6 302.01 L171.2 301.92 L171.8 302.42 L172.4 302.5 L173 302.19 L173.6 302.36 L174.2 302.39 L174.8 302.29 L175.4 302.27 L176 302.08 L176.6 302.31 L177.2 301.77 L177.8 302.25 L178.4 301.99 L179 302.33 L179.6 302.51 L180.2 302.37 L180.8 301.62 L181.4 302.35 L182 302.25 L182.6 302.51 L183.2 302.37 L183.8 302.5 L184.4 301.68 L185 302.16 L185.6 302.22 L186.2 301.83 L186.8 302.12 L187.4 302.54 L188 301.34 L188.6 301.83 L189.2 302.33 L189.8 302.31 L190.4 301.84 L190.4 340.96 L189.8 341.6 L189.2 341.06 L188.6 341.66 L188 341.17 L187.4 341.04 L186.8 341.4 L186.2 341.32 L185.6 341.43 L185 341.32 L184.4 340.95 L183.8 341.1 L183.2 341.01 L182.6 341.31 L182 341.43 L181.4 341.55 L180.8 341.35 L180.2 341.52 L179.6 341.24 L179 341.17 L178.4 340.95 L177.8 341.01 L177.2 341.23 L176.6 341.07 L176 341.1 L175.4 341.63 L174.8 341.17 L174.2 341.29 L173.6 341.26 L173 341.53 L172.4 341.43 L171.8 341.11 L171.2 341.69 L170.6 341.38 L170 341.16 L169.4 341.11 L168.8 341 L168.2 341.29 L167.6 341.44 L167 341.19 L166.4 341.11 L165.8 341.13 L165.2 341.69 L164.6 341.23 L164 341.31 L163.4 341.4 L162.8 341.56 L162.2 341.11 L161.6 341 L161 341.69 L160.4 341.22 L159.8 341.1 L159.2 341.39 L158.6 340.97 L158 341.29 L157.4 341.64 L156.8 341.2 L156.2 341.08 L155.6 340.96 L155 341.05 L154.4 341.04 L153.8 341.16 L153.2 341.77 L152.6 341 L152 341.05 L151.4 341.53 L150.8 341.13 L150.2 341.4 L149.6 341.28 L149 341.29 L148.4 341.18 L147.8 341.57 L147.2 341.14 L146.6 341.04 L146 341.05 L145.4 341.1 L144.8 341.16 L144.2 341.43 L143.6 341.08 L143 341.23 L142.4 341.63 L141.8 341.35 L141.2 341.83 L140.6 341.17 L140 341.05 L139.4 341.1 L138.8 341.59 L138.2 341.58 L137.6 341.43 L137 341.16 L136.4 341.03 L135.8 341.39 L135.2 341.07 L134.6 341.5 L134 341.36 L133.4 341.11 L132.8 341.01 L132.2 341.28 L131.6 341.68 L131 341.23 L130.4 341.33 L129.8 341.63 L129.2 341.24 L128.6 340.95 L128 340.97 L127.4 341.03 L126.8 341.25 L126.2 341.21 L125.6 341.3 L125 341.39 L124.4 341.02 L123.8 341.4 L123.2 341.17 L122.6 341.01 L122 341.33 L121.4 341.13 L120.8 341.76 L120.2 340.95 L119.6 341.14 L119 341.1 L118.4 341.49 L117.8 341.16 L117.2 340.98 L116.6 341.09 L116 341.66 L115.4 342.23 L114.8 341.15 L114.2 341.2 L113.6 340.98 L113 341.63 L112.4 340.99 L111.8 341.01 L111.2 341.07 L110.6 341.28 L110 340.95 L109.4 341.31 L108.8 341.28 L108.2 341.3 L107.6 341.44 L107 341.01 L106.4 340.99 L105.8 341.06 L105.2 341.25 L104.6 341.08 L104 341.02 L103.4 341.25 L102.8 341.59 L102.2 340.97 L101.6 341.28 L101 341.24 L100.4 341.26 L99.8 341.41 L99.2 341.77 L98.6 341.39 L98 341.34 L97.4 341.13 L96.8 341.53 L96.2 341.49 L95.6 341.12 L95 341.41 L94.4 341.12 L93.8 341.31 L93.2 341.46 L92.6 341.07 L92 341.55 L91.4 341.74 L90.8 341.57 L90.2 341.22 L89.6 341.11 L89 341.42 L88.4 341.1 L87.8 341.74 L87.2 341.22 L86.6 341.27 L86 341.03 L85.4 341.16 L84.8 341.17 L84.2 341.52 L83.6 341.23 L83 341.4 L82.4 341.58 L81.8 341.18 L81.2 341.22 L80.6 341.73 L80 341.83 L79.4 341.07 L78.8 341.17 L78.2 341.32 L77.6 341.38 L77 341.78 L76.4 341.07 L75.8 340.98 L75.2 341.1 L74.6 341.49 L74 341.15 L73.4 341.42 L72.8 341.49 L72.2 341.5 L71.6 340.99 L71 341.38 L70.4 341.28 L69.8 341.19 L69.2 341.18 L68.6 341.87 L68 341.48 L67.4 341.02 L66.8 341.29 L66.2 341.33 L65.6 340.99 L65 341.15 L64.4 341.5 L63.8 341.64 L63.2 341.22 L62.6 341.67 L62 340.98 Z" stroke="none" stroke-width="1" fill="#727272"/>
<path d="M63 321.74 L68 306.77 L73 321.74 L68 336.72 ZM73 321.74 L78 306.77 L83 321.74 L78 336.72 ZM83 321.74 L88 306.77 L93 321.74 L88 336.72 ZM93 321.74 L98 306.77 L103 321.74 L98 336.72 ZM103 321.74 L108 306.77 L113 321.74 L108 336.72 ZM113 321.74 L118 306.77 L123 321.74 L118 336.72 ZM123 321.74 L128 306.77 L133 321.74 L128 336.72 ZM133 321.74 L138 306.77 L143 321.74 L138 336.72 ZM143 321.74 L148 306.77 L153 321.74 L148 336.72 ZM153 321.74 L158 306.77 L163 321.74 L158 336.72 ZM163 321.74 L168 306.77 L173 321.74 L168 336.72 ZM173 321.74 L178 306.77 L183 321.74 L178 336.72 Z" stroke="none" stroke-width="1" fill="#8c8c8c"/>
<path d="M60.8 302.54 L63 313.1 L65.2 302.54 ZM60.8 340.94 L63 330.38 L65.2 340.94 ZM70.8 302.54 L73 313.1 L75.2 302.54 ZM70.8 340.94 L73 330.38 L75.2 340.94 ZM80.8 302.54 L83 313.1 L85.2 302.54 ZM80.8 340.94 L83 330.38 L85.2 340.94 ZM90.8 302.54 L93 313.1 L95.2 302.54 ZM90.8 340.94 L93 330.38 L95.2 340.94 ZM100.8 302.54 L103 313.1 L105.2 302.54 ZM100.8 340.94 L103 330.38 L105.2 340.94 ZM110.8 302.54 L113 313.1 L115.2 302.54 ZM110.8 340.94 L113 330.38 L115.2 340.94 ZM120.8 302.54 L123 313.1 L125.2 302.54 ZM120.8 340.94 L123 330.38 L125.2 340.94 ZM130.8 302.54 L133 313.1 L135.2 302.54 ZM130.8 340.94 L133 330.38 L135.2 340.94 ZM140.8 302.54 L143 313.1 L145.2 302.54 ZM140.8 340.94 L143 330.38 L145.2 340.94 ZM150.8 302.54 L153 313.1 L155.2 302.54 ZM150.8 340.94 L153 330.38 L155.2 340.94 ZM160.8 302.54 L163 313.1 L165.2 302.54 ZM160.8 340.94 L163 330.38 L165.2 340.94 ZM170.8 302.54 L173 313.1 L175.2 302.54 ZM170.8 340.94 L173 330.38 L175.2 340.94 ZM180.8 302.54 L183 313.1 L185.2 302.54 ZM180.8 340.94 L183 330.38 L185.2 340.94 Z" stroke="none" stroke-width="1" fill="#b0b0b0" fill-opacity="0.8"/>
<path d="M62.8 302.54 L62.8 313.72M62.8 340.94 L62.8 331.79M64.51 302.54 L64.51 315.36M64.51 340.94 L64.51 334.08M66.8 302.54 L66.8 310.67M66.8 340.94 L66.8 332.73M68.88 302.54 L68.88 317.02M68.88 340.94 L68.88 331.53M70.92 302.54 L70.92 312.29M70.92 340.94 L70.92 334.11M72.82 302.54 L72.82 317.11M72.82 340.94 L72.82 326.17M74.7 302.54 L74.7 317.14M74.7 340.94 L74.7 335.03M76.9 302.54 L76.9 308.55M76.9 340.94 L76.9 331.09M78.89 302.54 L78.89 312.48M78.89 340.94 L78.89 326.15M80.83 302.54 L80.83 308.48M80.83 340.94 L80.83 334.13M83.06 302.54 L83.06 309.54M83.06 340.94 L83.06 334.62M84.9 302.54 L84.9 317.69M84.9 340.94 L84.9 330.92M86.7 302.54 L86.7 314.63M86.7 340.94 L86.7 331.56M88.79 302.54 L88.79 317.87M88.79 340.94 L88.79 328.47M90.86 302.54 L90.86 317.89M90.86 340.94 L90.86 330.33M92.88 302.54 L92.88 316.47M92.88 340.94 L92.88 325.99M95.08 302.54 L95.08 311.81M95.08 340.94 L95.08 331.32M96.79 302.54 L96.79 310.61M96.79 340.94 L96.79 327.73M98.83 302.54 L98.83 316.53M98.83 340.94 L98.83 328.75M100.93 302.54 L100.93 316.04M100.93 340.94 L100.93 330.41M103.09 302.54 L103.09 313.01M103.09 340.94 L103.09 331.8M105.33 302.54 L105.33 308.99M105.33 340.94 L105.33 325.8M107.7 302.54 L107.7 316.28M107.7 340.94 L107.7 330.7M109.72 302.54 L109.72 312.17M109.72 340.94 L109.72 330.78M111.57 302.54 L111.57 315.98M111.57 340.94 L111.57 326.73M113.62 302.54 L113.62 316.49M113.62 340.94 L113.62 332.38M115.92 302.54 L115.92 317.65M115.92 340.94 L115.92 328.75M118.3 302.54 L118.3 315.27M118.3 340.94 L118.3 328.53M120.33 302.54 L120.33 308.88M120.33 340.94 L120.33 333.98M122.61 302.54 L122.61 310.05M122.61 340.94 L122.61 328.6M124.42 302.54 L124.42 315.55M124.42 340.94 L124.42 326.01M126.55 302.54 L126.55 308.68M126.55 340.94 L126.55 328.11M128.59 302.54 L128.59 316.62M128.59 340.94 L128.59 333.75M130.48 302.54 L130.48 317.13M130.48 340.94 L130.48 327.15M132.82 302.54 L132.82 313.3M132.82 340.94 L132.82 328.71M135.17 302.54 L135.17 314.64M135.17 340.94 L135.17 334.35M136.98 302.54 L136.98 308.33M136.98 340.94 L136.98 334.12M138.7 302.54 L138.7 312M138.7 340.94 L138.7 329.26M141 302.54 L141 312.23M141 340.94 L141 333.64M143.34 302.54 L143.34 317.11M143.34 340.94 L143.34 325.8M145.05 302.54 L145.05 313.98M145.05 340.94 L145.05 329.13M147.13 302.54 L147.13 310.11M147.13 340.94 L147.13 326.35M149.2 302.54 L149.2 308.66M149.2 340.94 L149.2 331.86M151.41 302.54 L151.41 310.25M151.41 340.94 L151.41 327.73M153.26 302.54 L153.26 312.46M153.26 340.94 L153.26 332.38M155.05 302.54 L155.05 316.79M155.05 340.94 L155.05 331.92M157.28 302.54 L157.28 316.86M157.28 340.94 L157.28 332.47M158.98 302.54 L158.98 313.35M158.98 340.94 L158.98 332.92M161.29 302.54 L161.29 309.89M161.29 340.94 L161.29 328.26M163.01 302.54 L163.01 310.91M163.01 340.94 L163.01 333.3M165.31 302.54 L165.31 314.06M165.31 340.94 L165.31 328.85M167.06 302.54 L167.06 311.27M167.06 340.94 L167.06 326.62M169.19 302.54 L169.19 315.58M169.19 340.94 L169.19 330.37M171.04 302.54 L171.04 317.08M171.04 340.94 L171.04 332.65M172.86 302.54 L172.86 314.53M172.86 340.94 L172.86 334.36M175.09 302.54 L175.09 315.14M175.09 340.94 L175.09 331.51M177.15 302.54 L177.15 312.98M177.15 340.94 L177.15 334.47M178.91 302.54 L178.91 311.69M178.91 340.94 L178.91 335.12M180.74 302.54 L180.74 311.81M180.74 340.94 L180.74 329.16M182.8 302.54 L182.8 309.97M182.8 340.94 L182.8 327.89M185.05 302.54 L185.05 314.67M185.05 340.94 L185.05 328.58M186.93 302.54 L186.93 316.35M186.93 340.94 L186.93 329.57M188.76 302.54 L188.76 314.87M188.76 340.94 L188.76 329.16" stroke="#b0b0b0" stroke-width="0.7" fill="none" stroke-opacity="0.75"/>
<path d="M63.8 304.46 L63.8 339.02M65.51 304.46 L65.51 339.02M67.8 304.46 L67.8 339.02M69.88 304.46 L69.88 339.02M71.92 304.46 L71.92 339.02M73.82 304.46 L73.82 339.02M75.7 304.46 L75.7 339.02M77.9 304.46 L77.9 339.02M79.89 304.46 L79.89 339.02M81.83 304.46 L81.83 339.02M84.06 304.46 L84.06 339.02M85.9 304.46 L85.9 339.02M87.7 304.46 L87.7 339.02M89.79 304.46 L89.79 339.02M91.86 304.46 L91.86 339.02M93.88 304.46 L93.88 339.02M96.08 304.46 L96.08 339.02M97.79 304.46 L97.79 339.02M99.83 304.46 L99.83 339.02M101.93 304.46 L101.93 339.02M104.09 304.46 L104.09 339.02M106.33 304.46 L106.33 339.02M108.7 304.46 L108.7 339.02M110.72 304.46 L110.72 339.02M112.57 304.46 L112.57 339.02M114.62 304.46 L114.62 339.02M116.92 304.46 L116.92 339.02M119.3 304.46 L119.3 339.02M121.33 304.46 L121.33 339.02M123.61 304.46 L123.61 339.02M125.42 304.46 L125.42 339.02M127.55 304.46 L127.55 339.02M129.59 304.46 L129.59 339.02M131.48 304.46 L131.48 339.02M133.82 304.46 L133.82 339.02M136.17 304.46 L136.17 339.02M137.98 304.46 L137.98 339.02M139.7 304.46 L139.7 339.02M142 304.46 L142 339.02M144.34 304.46 L144.34 339.02M146.05 304.46 L146.05 339.02M148.13 304.46 L148.13 339.02M150.2 304.46 L150.2 339.02M152.41 304.46 L152.41 339.02M154.26 304.46 L154.26 339.02M156.05 304.46 L156.05 339.02M158.28 304.46 L158.28 339.02M159.98 304.46 L159.98 339.02M162.29 304.46 L162.29 339.02M164.01 304.46 L164.01 339.02M166.31 304.46 L166.31 339.02M168.06 304.46 L168.06 339.02M170.19 304.46 L170.19 339.02M172.04 304.46 L172.04 339.02M173.86 304.46 L173.86 339.02M176.09 304.46 L176.09 339.02M178.15 304.46 L178.15 339.02M179.91 304.46 L179.91 339.02M181.74 304.46 L181.74 339.02M183.8 304.46 L183.8 339.02M186.05 304.46 L186.05 339.02M187.93 304.46 L187.93 339.02M189.76 304.46 L189.76 339.02" stroke="#8c8c8c" stroke-width="0.5" fill="none" stroke-opacity="0.5"/>
<path d="M51.4 357.8 L51.9 357.75 L52.4 359.49 L52.9 360.1 L53.4 359.28 L53.9 359.61 L54.4 358.66 L54.9 360.2 L55.4 361.55 L55.9 359.47 L56.4 359.7 L56.9 359.66 L57.4 361.84 L57.9 360.1 L58.4 359.02 L58.9 359.83 L59.4 357.79 L59.9 358.28 L60.4 359.66 L60.9 358.94 L61.4 359.75 L61.9 358.81 L62.4 360.48 L62.9 357.91 L63.4 358.87 L63.9 359.67 L64.4 359.04 L64.9 358.42 L65.4 359.28 L65.9 358.39 L66.4 360.48 L66.9 358.01 L67.4 358.14 L67.9 358.52 L68.4 358.31 L68.9 359.08 L69.4 359.54 L69.9 360.19 L70.4 357.37 L70.9 358.46 L71.4 358.37 L71.9 358.81 L72.4 360.53 L72.9 358.25 L73.4 360.6 L73.9 358.74 L74.4 360.71 L74.9 358.46 L75.4 359.01 L75.9 359.45 L76.4 358.69 L76.9 360.52 L77.4 358.76 L77.9 359.21 L78.4 357.86 L78.9 359.77 L79.4 359.89 L79.9 357.37 L80.4 358.62 L80.9 359.69 L81.4 358.88 L81.9 359.28 L82.4 359.15 L82.9 358.78 L83.4 359.4 L83.9 359.03 L84.4 360.62 L84.9 359.79 L85.4 358.71 L85.9 360.32 L86.4 360.2 L86.9 358.56 L87.4 360.16 L87.9 358.49 L88.4 359.46 L88.9 360.75 L89.4 357.56 L89.9 359.3 L90.4 358.28 L90.9 359.6 L91.4 359.3 L91.9 358.91 L92.4 358.31 L92.9 360.13 L93.4 359.69 L93.9 358.19 L94.4 358.97 L94.9 359.19 L95.4 359.52 L95.9 360.49 L96.4 358.44 L96.9 357.54 L97.4 360.32 L97.9 359.23 L98.4 359 L98.9 359.51 L99.4 359.65 L99.9 359.17 L100.4 359.76 L100.9 357.37 L101.4 359.1 L101.9 358.64 L102.4 360.44 L102.9 358.26 L103.4 359.38 L103.9 359.24 L104.4 359.25 L104.9 359.34 L105.4 359.94 L105.9 357.79 L106.4 358.34 L106.9 359.6 L107.4 358.63 L107.9 358.54 L108.4 359.94 L108.9 359.12 L109.4 358.54 L109.9 359.78 L110.4 359.51 L110.9 358.35 L111.4 357.5 L111.9 358.58 L112.4 359.17 L112.9 357.77 L113.4 358.33 L113.9 358.84 L114.4 359.38 L114.9 359.31 L115.4 358.83 L115.9 358.31 L116.4 360.26 L116.9 359.42 L117.4 359.75 L117.9 358.65 L118.4 359.17 L118.9 357.7 L119.4 358.43 L119.9 358.11 L120.4 358.84 L120.9 358.05 L121.4 358.94 L121.9 358.5 L122.4 360.13 L122.9 359.56 L123.4 358.84 L123.9 359.22 L124.4 358.98 L124.9 359.77 L125.4 359.91 L125.9 359.16 L126.4 359.65 L126.9 359.26 L127.4 359.12 L127.9 358.46 L128.4 358.98 L128.9 359.49 L129.4 359.37 L129.9 359.47 L130.4 360.48 L130.9 359.21 L131.4 358.77 L131.9 360.43 L132.4 359.88 L132.9 358.81 L133.4 359.56 L133.9 359.27 L134.4 359.01 L134.9 357.9 L135.4 359.58 L135.9 358.72 L136.4 358.33 L136.9 359.9 L137.4 358.23 L137.9 357.62 L138.4 359.5 L138.9 358.63 L139.4 359.54 L139.9 359.52 L140.4 357.95 L140.9 359.94 L141.4 359.43 L141.9 358.96 L142.4 359.37 L142.9 360.55 L143.4 358.93 L143.9 358.8 L144.4 357.37 L144.9 358.11 L145.4 359.28 L145.9 358.14 L146.4 357.71 L146.9 359.9 L147.4 359.78 L147.9 359.33 L148.4 358.74 L148.9 359.35 L149.4 358.9 L149.9 358.78 L150.4 359.26 L150.9 359.82 L151.4 357.86 L151.9 360.27 L152.4 360.01 L152.9 358.69 L153.4 359.41 L153.9 358.8 L154.4 358.57 L154.9 359.48 L155.4 357.92 L155.9 357.48 L156.4 359.18 L156.9 360.08 L157.4 359.54 L157.9 359.96 L158.4 357.82 L158.9 359 L159.4 358.79 L159.9 359.53 L160.4 358.38 L160.9 359.69 L161.4 358.67 L161.9 358.83 L162.4 359.79 L162.9 359.69 L163.4 359.21 L163.9 358.77 L164.4 359.9 L164.9 359.15 L165.4 359.25 L165.9 358.85 L166.4 360.66 L166.9 359.03 L167.4 358.81 L167.9 359.22 L167.9 361.77 L167.4 361.22 L166.9 362.38 L166.4 362.62 L165.9 361.55 L165.4 362.03 L164.9 361.85 L164.4 362.21 L163.9 361.41 L163.4 363.04 L162.9 362.45 L162.4 362.31 L161.9 363.13 L161.4 360.82 L160.9 361.06 L160.4 361.53 L159.9 362.36 L159.4 363.42 L158.9 363.53 L158.4 363.28 L157.9 362.87 L157.4 361.01 L156.9 361.51 L156.4 361.8 L155.9 362.39 L155.4 361.93 L154.9 363.97 L154.4 361.55 L153.9 361.15 L153.4 361.61 L152.9 361.43 L152.4 362.82 L151.9 363.97 L151.4 363.47 L150.9 362.62 L150.4 361.39 L149.9 362.98 L149.4 361.92 L148.9 362.18 L148.4 362.07 L147.9 360.86 L147.4 362.4 L146.9 362.29 L146.4 361.56 L145.9 361.06 L145.4 361.59 L144.9 362.28 L144.4 361.5 L143.9 362.91 L143.4 361.46 L142.9 361.94 L142.4 360.71 L141.9 363.97 L141.4 361.5 L140.9 362.82 L140.4 362.46 L139.9 361.54 L139.4 361.87 L138.9 362.09 L138.4 361.23 L137.9 361.16 L137.4 361.26 L136.9 362.22 L136.4 361.73 L135.9 363.35 L135.4 361.9 L134.9 360.94 L134.4 362.51 L133.9 362.75 L133.4 361.26 L132.9 362.07 L132.4 362.88 L131.9 362.96 L131.4 361.74 L130.9 362.15 L130.4 362.94 L129.9 362.4 L129.4 360.99 L128.9 361.46 L128.4 361.51 L127.9 361.95 L127.4 362.43 L126.9 362.32 L126.4 361.59 L125.9 362.86 L125.4 362.61 L124.9 362.55 L124.4 362.09 L123.9 361.9 L123.4 361.9 L122.9 362.07 L122.4 362.73 L121.9 361.29 L121.4 363.97 L120.9 362.04 L120.4 361.47 L119.9 361.7 L119.4 361.76 L118.9 362.59 L118.4 363.58 L117.9 362.26 L117.4 361.63 L116.9 362.7 L116.4 363.52 L115.9 360.9 L115.4 362.24 L114.9 361.62 L114.4 362.02 L113.9 363.03 L113.4 362.43 L112.9 362.05 L112.4 361.45 L111.9 361.8 L111.4 362.25 L110.9 361.33 L110.4 362.04 L109.9 362.84 L109.4 363.29 L108.9 360.36 L108.4 363.48 L107.9 361.98 L107.4 362.5 L106.9 362.73 L106.4 363.65 L105.9 359.93 L105.4 362.11 L104.9 361.07 L104.4 361.63 L103.9 360.72 L103.4 361.34 L102.9 363.28 L102.4 363.09 L101.9 361.38 L101.4 361.6 L100.9 360.84 L100.4 361.05 L99.9 361.38 L99.4 361.1 L98.9 362.77 L98.4 362.19 L97.9 363.97 L97.4 363.04 L96.9 361.41 L96.4 361.83 L95.9 361.83 L95.4 362.07 L94.9 363.27 L94.4 361.84 L93.9 361.67 L93.4 362.96 L92.9 361.75 L92.4 362.33 L91.9 363.74 L91.4 362.73 L90.9 363.09 L90.4 361.68 L89.9 362.28 L89.4 362.8 L88.9 362.08 L88.4 361.52 L87.9 362.18 L87.4 362.47 L86.9 362.45 L86.4 362.28 L85.9 362.65 L85.4 361.75 L84.9 362.35 L84.4 363.54 L83.9 362.35 L83.4 362.8 L82.9 361.54 L82.4 363.33 L81.9 363.04 L81.4 362.42 L80.9 361.47 L80.4 362.62 L79.9 361.97 L79.4 362.04 L78.9 361.25 L78.4 361.36 L77.9 362.59 L77.4 362.03 L76.9 363.07 L76.4 362.08 L75.9 362.17 L75.4 362.21 L74.9 362.39 L74.4 361.75 L73.9 360.91 L73.4 362.78 L72.9 362.06 L72.4 362.46 L71.9 363.96 L71.4 362.31 L70.9 363.28 L70.4 362.21 L69.9 362.55 L69.4 362.87 L68.9 363.48 L68.4 360.88 L67.9 360.52 L67.4 361.72 L66.9 362.26 L66.4 362.29 L65.9 363.43 L65.4 360.46 L64.9 361.94 L64.4 361.25 L63.9 363.26 L63.4 362.2 L62.9 362.82 L62.4 363.38 L61.9 361.15 L61.4 360.95 L60.9 363.66 L60.4 363.73 L59.9 362.8 L59.4 362.69 L58.9 361.67 L58.4 361.42 L57.9 362.44 L57.4 363.13 L56.9 361.2 L56.4 362.47 L55.9 362.19 L55.4 363.07 L54.9 362.79 L54.4 361.94 L53.9 361.96 L53.4 361.98 L52.9 362.26 L52.4 363.46 L51.9 360.96 L51.4 360.93 Z" stroke="none" stroke-width="1" fill="#ff1a1a" fill-opacity="0.85"/>
<path d="M51.2 358.55 L51.3 360.83 L51.4 357.9 L51.5 359.36 L51.6 360.03 L51.7 357.85 L51.8 358.34 L51.9 360.86 L52 360.76 L52.1 360.52 L52.2 359.66 L52.3 363.36 L52.4 360.47 L52.5 359.59 L52.6 362.76 L52.7 361.43 L52.8 360.2 L52.9 362.16 L53 360.86 L53.1 361.47 L53.2 360.96 L53.3 359.38 L53.4 361.88 L53.5 360.87 L53.6 359.4 L53.7 359.71 L53.8 361.86 L53.9 360.2 L54 360.72 L54.1 361.48 L54.2 360.83 L54.3 358.76 L54.4 361.46 L54.5 361.84 L54.6 361.75 L54.7 362.69 L54.8 361.12 L54.9 361.64 L55 362.65 L55.1 360.3 L55.2 362.84 L55.3 362.83 L55.4 361.65 L55.5 362.97 L55.6 361.73 L55.7 359.57 L55.8 362.09 L55.9 361.07 L56 361.18 L56.1 360.86 L56.2 362.37 L56.3 361.36 L56.4 359.8 L56.5 361.27 L56.6 361.58 L56.7 359.76 L56.8 360.12 L56.9 360.19 L57 359.91 L57.1 361.1 L57.2 361.94 L57.3 363.03 L57.4 362.16 L57.5 361.94 L57.6 362.1 L57.7 362.34 L57.8 360.2 L57.9 361.53 L58 361.07 L58.1 360.5 L58.2 360.1 L58.3 360.04 L58.4 360.33 L58.5 359.12 L58.6 361.32 L58.7 360.64 L58.8 360.8 L58.9 361.09 L59 361.57 L59.1 359.93 L59.2 360.53 L59.3 358.66 L59.4 357.89 L59.5 358.24 L59.6 362.59 L59.7 358.38 L59.8 361.26 L59.9 362.51 L60 360.09 L60.1 362.7 L60.2 362.98 L60.3 361.85 L60.4 363.63 L60.5 361.45 L60.6 359.76 L60.7 361.32 L60.8 360.12 L60.9 359.04 L61 359.08 L61.1 363.56 L61.2 360 L61.3 360.64 L61.4 359.85 L61.5 360.85 L61.6 360.38 L61.7 360.17 L61.8 359.16 L61.9 358.91 L62 359.75 L62.1 361.05 L62.2 363.28 L62.3 362 L62.4 362.96 L62.5 361.29 L62.6 360.58 L62.7 359.03 L62.8 360.69 L62.9 358.01 L63 360.31 L63.1 362.72 L63.2 361.1 L63.3 362.1 L63.4 360.21 L63.5 358.97 L63.6 360.09 L63.7 360.2 L63.8 362.2 L63.9 363.16 L64 359.77 L64.1 360.25 L64.2 360.51 L64.3 360.26 L64.4 359.14 L64.5 360.81 L64.6 361.15 L64.7 361.18 L64.8 359.19 L64.9 360.56 L65 358.52 L65.1 361.84 L65.2 359.42 L65.3 360.36 L65.4 360.14 L65.5 359.97 L65.6 359.38 L65.7 358.49 L65.8 362.87 L65.9 361.02 L66 361.03 L66.1 363.33 L66.2 360.58 L66.3 361.39 L66.4 360.73 L66.5 362.19 L66.6 361.33 L66.7 361.1 L66.8 360.39 L66.9 361.06 L67 362.16 L67.1 358.11 L67.2 360.54 L67.3 360.18 L67.4 360.33 L67.5 358.24 L67.6 361.62 L67.7 359.65 L67.8 360.42 L67.9 360.08 L68 358.62 L68.1 360.15 L68.2 358.41 L68.3 359.53 L68.4 360.31 L68.5 360.7 L68.6 360.78 L68.7 360.54 L68.8 363.38 L68.9 361.25 L69 359.18 L69.1 359.94 L69.2 359.89 L69.3 360.49 L69.4 359.95 L69.5 359.64 L69.6 362.77 L69.7 360.76 L69.8 360.29 L69.9 360.39 L70 360.44 L70.1 362.45 L70.2 361.31 L70.3 362.11 L70.4 357.47 L70.5 361.12 L70.6 362.03 L70.7 363.18 L70.8 360.75 L70.9 358.56 L71 361.45 L71.1 359.96 L71.2 358.47 L71.3 359.94 L71.4 362.03 L71.5 362.21 L71.6 361.61 L71.7 359.4 L71.8 363.86 L71.9 359.25 L72 360.61 L72.1 358.91 L72.2 362.36 L72.3 361.27 L72.4 361.82 L72.5 360.83 L72.6 360.63 L72.7 360.93 L72.8 358.35 L72.9 361.96 L73 361.86 L73.1 360.23 L73.2 360.7 L73.3 361.09 L73.4 362.68 L73.5 361.26 L73.6 360.77 L73.7 360.08 L73.8 358.84 L73.9 359.97 L74 360.81 L74.1 360.4 L74.2 360.81 L74.3 361.65 L74.4 361.27 L74.5 361.07 L74.6 361.54 L74.7 360.96 L74.8 360.68 L74.9 361.31 L75 358.56 L75.1 362.29 L75.2 359.11 L75.3 361.77 L75.4 360.74 L75.5 362.11 L75.6 360.77 L75.7 359.55 L75.8 362.07 L75.9 360.96 L76 360.88 L76.1 360.83 L76.2 361.98 L76.3 361.75 L76.4 361.02 L76.5 358.79 L76.6 360.23 L76.7 360.86 L76.8 362.97 L76.9 361.21 L77 360.62 L77.1 362.23 L77.2 360.59 L77.3 360.7 L77.4 360.93 L77.5 358.86 L77.6 361.93 L77.7 361.27 L77.8 360.38 L77.9 359.31 L78 361 L78.1 362.49 L78.2 359.93 L78.3 359.41 L78.4 361.26 L78.5 358.74 L78.6 357.96 L78.7 360.18 L78.8 359.87 L78.9 360.39 L79 360.05 L79.1 361.15 L79.2 360.46 L79.3 359.99 L79.4 360.17 L79.5 361.53 L79.6 361.94 L79.7 361.87 L79.8 361.61 L79.9 357.47 L80 359.49 L80.1 360.35 L80.2 361 L80.3 358.72 L80.4 362.52 L80.5 361.12 L80.6 359.96 L80.7 360.95 L80.8 360.31 L80.9 359.79 L81 361.37 L81.1 360.17 L81.2 358.98 L81.3 359.95 L81.4 360.6 L81.5 359.39 L81.6 362.32 L81.7 359.38 L81.8 362.94 L81.9 361.86 L82 359.57 L82.1 360.91 L82.2 362.22 L82.3 360.51 L82.4 359.25 L82.5 360.89 L82.6 363.23 L82.7 358.88 L82.8 361.44 L82.9 360.76 L83 360.6 L83.1 360.26 L83.2 360.35 L83.3 362.05 L83.4 361.5 L83.5 359.5 L83.6 362.7 L83.7 359.13 L83.8 361.58 L83.9 360.98 L84 362.25 L84.1 361.2 L84.2 362.07 L84.3 360.72 L84.4 361.97 L84.5 361.19 L84.6 363.44 L84.7 359.89 L84.8 362.25 L84.9 361.34 L85 360.98 L85.1 360.05 L85.2 361.32 L85.3 358.91 L85.4 359.05 L85.5 361.65 L85.6 358.81 L85.7 362.55 L85.8 360.42 L85.9 361.07 L86 360.85 L86.1 361.28 L86.2 360.41 L86.3 360.3 L86.4 360.6 L86.5 362.07 L86.6 362.18 L86.7 362.35 L86.8 361.22 L86.9 360.51 L87 358.66 L87.1 361.56 L87.2 361.81 L87.3 360.26 L87.4 361.77 L87.5 362.37 L87.6 360.88 L87.7 362.08 L87.8 361.15 L87.9 358.59 L88 360.17 L88.1 360.25 L88.2 361.42 L88.3 359.68 L88.4 360.21 L88.5 359.56 L88.6 360.71 L88.7 360.85 L88.8 361.98 L88.9 361.76 L89 360.97 L89.1 361.06 L89.2 360.9 L89.3 360.9 L89.4 362.7 L89.5 357.66 L89.6 360.54 L89.7 361.15 L89.8 362.18 L89.9 359.4 L90 361.2 L90.1 361.84 L90.2 360.21 L90.3 358.38 L90.4 360.31 L90.5 359.26 L90.6 361.58 L90.7 359.7 L90.8 362.99 L90.9 360.94 L91 359.76 L91.1 360.13 L91.2 359.4 L91.3 361.25 L91.4 362.63 L91.5 360.49 L91.6 361.92 L91.7 359.59 L91.8 361.15 L91.9 363.64 L92 359.01 L92.1 362.3 L92.2 362.23 L92.3 358.41 L92.4 358.97 L92.5 359.54 L92.6 361.97 L92.7 360.23 L92.8 360.55 L92.9 361.65 L93 360.91 L93.1 361.04 L93.2 360.36 L93.3 362.17 L93.4 359.79 L93.5 362.86 L93.6 360.34 L93.7 359.76 L93.8 361.57 L93.9 361.33 L94 358.29 L94.1 361.04 L94.2 359.07 L94.3 359.72 L94.4 361.74 L94.5 359.68 L94.6 361.2 L94.7 360.28 L94.8 363.17 L94.9 360.64 L95 359.29 L95.1 359.38 L95.2 359.62 L95.3 360.91 L95.4 360.75 L95.5 361.97 L95.6 360.96 L95.7 360.91 L95.8 361.16 L95.9 360.59 L96 361.12 L96.1 361.73 L96.2 361.73 L96.3 360.07 L96.4 358.54 L96.5 359.74 L96.6 361.1 L96.7 357.64 L96.8 360.15 L96.9 361.31 L97 360.04 L97.1 359.35 L97.2 362.94 L97.3 362.48 L97.4 360.42 L97.5 362.4 L97.6 362.37 L97.7 359.33 L97.8 363.87 L97.9 359.57 L98 360.41 L98.1 359.37 L98.2 360.84 L98.3 359.1 L98.4 360.73 L98.5 362.09 L98.6 361 L98.7 360.41 L98.8 362.67 L98.9 359.61 L99 361.94 L99.1 360.36 L99.2 361 L99.3 360.77 L99.4 360.89 L99.5 360.67 L99.6 359.75 L99.7 360.02 L99.8 361.28 L99.9 360.59 L100 359.27 L100.1 359.85 L100.2 359.86 L100.3 360.66 L100.4 360.95 L100.5 360.84 L100.6 359.9 L100.7 360.74 L100.8 359.01 L100.9 357.47 L101 360.65 L101.1 358.65 L101.2 359.53 L101.3 359.21 L101.4 361.5 L101.5 359.2 L101.6 361.06 L101.7 360.1 L101.8 359.16 L101.9 358.74 L102 361.28 L102.1 361.19 L102.2 361.67 L102.3 362.99 L102.4 361.04 L102.5 361.05 L102.6 360.54 L102.7 360.83 L102.8 360.26 L102.9 359.58 L103 363.18 L103.1 358.36 L103.2 361.01 L103.3 361.24 L103.4 360.87 L103.5 359.48 L103.6 360.45 L103.7 360.11 L103.8 359.34 L103.9 360.62 L104 360.17 L104.1 359.99 L104.2 361.53 L104.3 359.35 L104.4 361.22 L104.5 359.91 L104.6 361.2 L104.7 360.76 L104.8 360.97 L104.9 359.44 L105 359.7 L105.1 359.6 L105.2 360.88 L105.3 361.6 L105.4 362.01 L105.5 360.04 L105.6 360.77 L105.7 358.64 L105.8 357.89 L105.9 359.58 L106 359.83 L106.1 358.72 L106.2 358.44 L106.3 361.32 L106.4 359.65 L106.5 358.56 L106.6 363.55 L106.7 360.87 L106.8 360.25 L106.9 361.49 L107 359.7 L107.1 362.63 L107.2 358.73 L107.3 359.01 L107.4 360.47 L107.5 359.69 L107.6 362.4 L107.7 358.64 L107.8 359.73 L107.9 360.93 L108 361.34 L108.1 361.88 L108.2 361.06 L108.3 363.38 L108.4 360.04 L108.5 360.85 L108.6 361.7 L108.7 360.23 L108.8 360.26 L108.9 360.05 L109 359.82 L109.1 359.22 L109.2 359.93 L109.3 358.69 L109.4 361.09 L109.5 358.64 L109.6 363.19 L109.7 362.74 L109.8 361.99 L109.9 360.35 L110 359.88 L110.1 362.14 L110.2 360.84 L110.3 361.31 L110.4 359.72 L110.5 361.94 L110.6 359.61 L110.7 360.74 L110.8 358.45 L110.9 359.79 L111 361.23 L111.1 360.05 L111.2 360.05 L111.3 361.59 L111.4 360.51 L111.5 362.15 L111.6 357.6 L111.7 361.31 L111.8 361.24 L111.9 358.68 L112 358.99 L112.1 361.7 L112.2 359.27 L112.3 359.81 L112.4 361.35 L112.5 360.19 L112.6 361.2 L112.7 359.52 L112.8 360.97 L112.9 361.95 L113 361.01 L113.1 357.87 L113.2 361.41 L113.3 360.67 L113.4 359.47 L113.5 362.33 L113.6 358.43 L113.7 362.93 L113.8 359.81 L113.9 362.56 L114 360.54 L114.1 358.94 L114.2 360.72 L114.3 361.01 L114.4 361.27 L114.5 361.92 L114.6 359.48 L114.7 361.21 L114.8 361.52 L114.9 360.26 L115 359.43 L115.1 359.41 L115.2 361.53 L115.3 361.59 L115.4 359.57 L115.5 358.93 L115.6 362.14 L115.7 358.66 L115.8 360.8 L115.9 359.6 L116 358.41 L116.1 360.75 L116.2 360.36 L116.3 362.39 L116.4 363.42 L116.5 360.36 L116.6 361.87 L116.7 361.9 L116.8 359.95 L116.9 359.52 L117 362.6 L117.1 360.14 L117.2 360.56 L117.3 360.23 L117.4 360.43 L117.5 359.85 L117.6 361.53 L117.7 362.16 L117.8 360.13 L117.9 358.88 L118 360.66 L118.1 358.75 L118.2 359.8 L118.3 362.13 L118.4 363.48 L118.5 361.06 L118.6 359.27 L118.7 361.57 L118.8 357.8 L118.9 359.73 L119 362.49 L119.1 361.52 L119.2 358.88 L119.3 358.53 L119.4 361.66 L119.5 360.54 L119.6 359.86 L119.7 361.11 L119.8 359.88 L119.9 358.21 L120 361.6 L120.1 359.79 L120.2 359.35 L120.3 358.94 L120.4 360.91 L120.5 359.6 L120.6 361.37 L120.7 360.26 L120.8 361.94 L120.9 360.12 L121 359.78 L121.1 358.15 L121.2 359.23 L121.3 361.49 L121.4 363.87 L121.5 359.04 L121.6 359.31 L121.7 361.02 L121.8 361.19 L121.9 359.76 L122 360.7 L122.1 358.6 L122.2 360.23 L122.3 361.72 L122.4 362.63 L122.5 360.39 L122.6 360.28 L122.7 361.16 L122.8 361.97 L122.9 361.2 L123 359.66 L123.1 361.04 L123.2 361.8 L123.3 359.71 L123.4 358.94 L123.5 361.23 L123.6 361.05 L123.7 361.8 L123.8 360.71 L123.9 359.8 L124 360.06 L124.1 359.32 L124.2 359.42 L124.3 359.9 L124.4 360 L124.5 361.99 L124.6 359.08 L124.7 360.54 L124.8 359.87 L124.9 362.45 L125 360.93 L125.1 360.14 L125.2 361.62 L125.3 360.69 L125.4 360.01 L125.5 362.51 L125.6 361.49 L125.7 362.76 L125.8 362.04 L125.9 361.57 L126 360.77 L126.1 359.26 L126.2 361.49 L126.3 360.7 L126.4 361.45 L126.5 360.6 L126.6 359.75 L126.7 359.36 L126.8 361.48 L126.9 362.22 L127 360.25 L127.1 361.18 L127.2 362.33 L127.3 359.57 L127.4 360.19 L127.5 359.22 L127.6 362.08 L127.7 360.94 L127.8 360.04 L127.9 358.56 L128 360.39 L128.1 361.85 L128.2 360.25 L128.3 360.09 L128.4 361.41 L128.5 359.08 L128.6 360.68 L128.7 361.36 L128.8 359.65 L128.9 359.59 L129 360.92 L129.1 360.49 L129.2 360.32 L129.3 360.88 L129.4 360.89 L129.5 359.47 L129.6 359.79 L129.7 361.18 L129.8 362.01 L129.9 362.3 L130 359.57 L130.1 361.98 L130.2 361.56 L130.3 360.58 L130.4 361.23 L130.5 361.65 L130.6 362.84 L130.7 359.31 L130.8 361.37 L130.9 360.45 L131 360.37 L131.1 362.05 L131.2 361.64 L131.3 359.37 L131.4 360.27 L131.5 360.91 L131.6 358.87 L131.7 361.7 L131.8 360.53 L131.9 360.83 L132 361.04 L132.1 362.86 L132.2 360.67 L132.3 360.18 L132.4 362.78 L132.5 360.01 L132.6 359.98 L132.7 358.91 L132.8 361.97 L132.9 360.96 L133 361.21 L133.1 360.83 L133.2 360.46 L133.3 359.66 L133.4 359.66 L133.5 361.16 L133.6 360.78 L133.7 362.65 L133.8 359.69 L133.9 360.03 L134 359.37 L134.1 362.34 L134.2 359.11 L134.3 361.59 L134.4 362.41 L134.5 360.46 L134.6 361.53 L134.7 358 L134.8 360.15 L134.9 358.58 L135 360.84 L135.1 360.64 L135.2 359.68 L135.3 361.8 L135.4 361.07 L135.5 359.99 L135.6 360 L135.7 358.82 L135.8 360.4 L135.9 363.25 L136 359.76 L136.1 361.15 L136.2 359.96 L136.3 361.63 L136.4 361.18 L136.5 360.35 L136.6 358.43 L136.7 360 L136.8 362.12 L136.9 360.33 L137 361.41 L137.1 360.04 L137.2 358.33 L137.3 361.16 L137.4 361.03 L137.5 359.92 L137.6 360.18 L137.7 360.99 L137.8 359.9 L137.9 361.06 L138 360.38 L138.1 357.72 L138.2 360.46 L138.3 359.9 L138.4 359.6 L138.5 361.13 L138.6 360.03 L138.7 361.3 L138.8 361.99 L138.9 360.81 L139 358.73 L139.1 359.73 L139.2 361.77 L139.3 360.32 L139.4 359.64 L139.5 360.53 L139.6 361.26 L139.7 360.96 L139.8 361.44 L139.9 359.62 L140 360.3 L140.1 360.33 L140.2 360.61 L140.3 358.05 L140.4 360.35 L140.5 358.98 L140.6 362.36 L140.7 362.56 L140.8 362.72 L140.9 361.64 L141 360.04 L141.1 361.83 L141.2 360.39 L141.3 361.4 L141.4 359.53 L141.5 359.92 L141.6 361.22 L141.7 362.83 L141.8 360.61 L141.9 363.43 L142 363.87 L142.1 359.06 L142.2 360.61 L142.3 359.47 L142.4 360.47 L142.5 359.99 L142.6 360.56 L142.7 361.84 L142.8 361.81 L142.9 360.97 L143 360.65 L143.1 360.79 L143.2 360.8 L143.3 361.36 L143.4 360.65 L143.5 361.27 L143.6 359.03 L143.7 361.63 L143.8 362.81 L143.9 360.87 L144 358.9 L144.1 362.32 L144.2 360.24 L144.3 357.47 L144.4 360.38 L144.5 361.4 L144.6 361.12 L144.7 362.18 L144.8 361.42 L144.9 360.8 L145 358.21 L145.1 359.27 L145.2 360.87 L145.3 361.49 L145.4 359.38 L145.5 359.89 L145.6 361.23 L145.7 358.29 L145.8 358.24 L145.9 360.37 L146 360.96 L146.1 360.06 L146.2 357.81 L146.3 360.68 L146.4 359.01 L146.5 361.46 L146.6 360.53 L146.7 360.98 L146.8 361.44 L146.9 360 L147 361.67 L147.1 362.19 L147.2 361.14 L147.3 362.3 L147.4 359.88 L147.5 361.78 L147.6 360.98 L147.7 359.43 L147.8 360.55 L147.9 360 L148 359.97 L148.1 360.76 L148.2 361.97 L148.3 360.26 L148.4 360.81 L148.5 358.84 L148.6 360.78 L148.7 362.08 L148.8 361.65 L148.9 361.24 L149 360 L149.1 359.45 L149.2 360.54 L149.3 359 L149.4 359.13 L149.5 361.82 L149.6 359.52 L149.7 362.88 L149.8 358.88 L149.9 361.18 L150 359.2 L150.1 360.87 L150.2 359.36 L150.3 360.7 L150.4 360.46 L150.5 360.09 L150.6 361.29 L150.7 362.52 L150.8 359.92 L150.9 361.75 L151 360.76 L151.1 360.62 L151.2 363.37 L151.3 357.96 L151.4 359.81 L151.5 358.41 L151.6 360.26 L151.7 360.37 L151.8 363.87 L151.9 361.08 L152 362.88 L152.1 362.26 L152.2 360.11 L152.3 361.25 L152.4 362.72 L152.5 360.87 L152.6 360.91 L152.7 361.27 L152.8 358.79 L152.9 359.65 L153 361.07 L153.1 361.33 L153.2 359.51 L153.3 360.25 L153.4 360.5 L153.5 360.46 L153.6 361.51 L153.7 360.78 L153.8 360.86 L153.9 358.9 L154 359.35 L154.1 361.05 L154.2 358.67 L154.3 360.98 L154.4 359.83 L154.5 359.64 L154.6 361.45 L154.7 359.81 L154.8 359.58 L154.9 359.81 L155 360.72 L155.1 363.87 L155.2 358.02 L155.3 360.62 L155.4 360.35 L155.5 361.83 L155.6 360.18 L155.7 357.58 L155.8 362.29 L155.9 359.29 L156 360.57 L156.1 358.94 L156.2 359.28 L156.3 360.02 L156.4 361.7 L156.5 361.69 L156.6 359.9 L156.7 361.26 L156.8 360.18 L156.9 360.78 L157 360.83 L157.1 361.41 L157.2 359.87 L157.3 360.47 L157.4 360.91 L157.5 360.75 L157.6 359.64 L157.7 362.77 L157.8 360.06 L157.9 361.57 L158 360.89 L158.1 362.15 L158.2 357.92 L158.3 363.18 L158.4 360.37 L158.5 359.1 L158.6 360.79 L158.7 363.43 L158.8 361.26 L158.9 359.1 L159 360.06 L159.1 362.29 L159.2 358.89 L159.3 360.41 L159.4 360.26 L159.5 363.32 L159.6 360.27 L159.7 362.26 L159.8 359.79 L159.9 359.63 L160 361.88 L160.1 361.4 L160.2 358.48 L160.3 361.42 L160.4 361.43 L160.5 359.87 L160.6 360.9 L160.7 360.96 L160.8 360.02 L160.9 359.9 L161 359.79 L161.1 360.29 L161.2 358.98 L161.3 360.57 L161.4 358.77 L161.5 360.72 L161.6 360.52 L161.7 359.34 L161.8 361.68 L161.9 363.03 L162 362.27 L162.1 358.93 L162.2 362.21 L162.3 360.9 L162.4 360.56 L162.5 359.89 L162.6 360.62 L162.7 362.35 L162.8 361.3 L162.9 360.11 L163 359.79 L163.1 360.11 L163.2 361.35 L163.3 362.94 L163.4 359.31 L163.5 360.62 L163.6 360.15 L163.7 359.69 L163.8 361.12 L163.9 361.31 L164 358.87 L164.1 359.34 L164.2 362.11 L164.3 361.02 L164.4 361.27 L164.5 360 L164.6 360.15 L164.7 361.19 L164.8 360.01 L164.9 359.25 L165 360.62 L165.1 361.75 L165.2 359.35 L165.3 361.93 L165.4 361.49 L165.5 359.55 L165.6 360.63 L165.7 360.57 L165.8 361.41 L165.9 361.45 L166 359.01 L166.1 358.95 L166.2 361.9 L166.3 360.76 L166.4 361.14 L166.5 361.04 L166.6 362.52 L166.7 359.13 L166.8 361.97 L166.9 359.61 L167 361.52 L167.1 362.28 L167.2 358.91 L167.3 361.12 L167.4 360.28 L167.5 360.26 L167.6 360.68 L167.7 359.32 L167.8 359.43 L167.9 361.44 L168 361.67 L168.1 359.92 L168.2 358.82 L168.3 363.49 L168.4 361.98" stroke="#ff1a1a" stroke-width="0.6" fill="none"/>
<path d="M297 359.62 L297.1 361 L297.2 359.85 L297.3 359.84 L297.4 360.82 L297.5 361.3 L297.6 360.94 L297.7 360.55 L297.8 359.57 L297.9 360.29 L298 359.02 L298.1 359.21 L298.2 359.28 L298.3 360.83 L298.4 361.79 L298.5 361.46 L298.6 360.19 L298.7 361.37 L298.8 360.54 L298.9 361.88 L299 360.93 L299.1 360.27 L299.2 360.39 L299.3 359.87 L299.4 360.77 L299.5 360.84 L299.6 361.35 L299.7 362.02 L299.8 362.89 L299.9 362.58 L300 361.74 L300.1 360.86 L300.2 359.93 L300.3 360.6 L300.4 358.59 L300.5 358.01 L300.6 359.22 L300.7 357.54 L300.8 359.26 L300.9 358.66 L301 358.29 L301.1 359.58 L301.2 357.52 L301.3 358.23 L301.4 358.97 L301.5 360.4 L301.6 358.04 L301.7 359.56 L301.8 360.51 L301.9 358.45 L302 360.18 L302.1 360.4 L302.2 359.8 L302.3 360.7 L302.4 362.3 L302.5 361.49 L302.6 361.93 L302.7 362.6 L302.8 361.38 L302.9 363.67 L303 361.52 L303.1 363.87 L303.2 363.48 L303.3 362.62 L303.4 362.34 L303.5 361.09 L303.6 359.76 L303.7 360.28 L303.8 360.24 L303.9 358.55 L304 360.17 L304.1 358.83 L304.2 359.39 L304.3 358.67 L304.4 358.72 L304.5 360.39 L304.6 360.14 L304.7 358.2 L304.8 360.26 L304.9 360.81 L305 360.32 L305.1 360.43 L305.2 359.39 L305.3 360.65 L305.4 359.74 L305.5 361.24 L305.6 360.57 L305.7 359.46 L305.8 360.95 L305.9 360.61 L306 359.01 L306.1 359.08 L306.2 358.6 L306.3 360.87 L306.4 359.19 L306.5 359.95 L306.6 361.54 L306.7 360.64 L306.8 360.95 L306.9 360.65 L307 360.79 L307.1 362.31 L307.2 360.98 L307.3 363.01 L307.4 360 L307.5 360.33 L307.6 359.49 L307.7 361.08 L307.8 360.39 L307.9 358.51 L308 358.44 L308.1 358.72 L308.2 360.84 L308.3 361.21 L308.4 361.29" stroke="#ff1a1a" stroke-width="0.7" fill="none"/>
<path d="M167.6 348.5 L168.2 348.5 L168.8 349.09 L169.4 349.42 L170 348.57 L170.6 349.23 L171.2 349.37 L171.8 349.73 L172.4 349.03 L173 349.14 L173.6 348.58 L174.2 349.17 L174.8 349.12 L175.4 349.29 L176 348.62 L176.6 349.47 L177.2 348.81 L177.8 349.74 L178.4 348.75 L179 349.46 L179.6 349.05 L180.2 348.69 L180.8 349.6 L181.4 349 L182 349.73 L182.6 349.08 L183.2 349.19 L183.8 349.43 L184.4 349.28 L185 349.67 L185.6 348.54 L186.2 349.74 L186.8 347.95 L187.4 349.34 L188 348.7 L188.6 348.49 L189.2 348.27 L189.8 349.6 L190.4 349.63 L191 349.37 L191.6 349.72 L192.2 349.02 L192.8 349.21 L193.4 349.74 L194 349.74 L194.6 346.99 L195.2 348.46 L195.8 349.02 L196.4 348.93 L197 348.61 L197.6 349.46 L198.2 349.25 L198.8 349.25 L199.4 349.29 L200 348.64 L200.6 347.11 L201.2 349.14 L201.8 349.7 L202.4 348.35 L203 349.64 L203.6 349.54 L204.2 349.66 L204.8 349.42 L205.4 349.31 L206 349.27 L206.6 349.27 L207.2 348.79 L207.8 349.45 L208.4 347.95 L209 349.63 L209.6 349.06 L210.2 348.25 L210.8 348.53 L211.4 348.77 L212 349.72 L212.6 349.16 L213.2 348.69 L213.8 349.67 L214.4 349.75 L215 349.33 L215.6 349.72 L216.2 348.83 L216.8 349.54 L217.4 348.84 L218 349.07 L218.6 348.59 L219.2 349.31 L219.8 349.48 L220.4 349.24 L221 349.75 L221.6 349.71 L222.2 348.76 L222.8 349.63 L223.4 349.4 L224 348.55 L224.6 348.46 L225.2 348.78 L225.8 348.61 L226.4 349.45 L227 349.17 L227.6 349.61 L228.2 349.72 L228.8 347.48 L229.4 348.51 L230 349.28 L230.6 349.21 L231.2 349.08 L231.8 349.32 L232.4 349.48 L233 349.6 L233.6 349.55 L234.2 349.06 L234.8 349.34 L235.4 349.74 L236 348.02 L236.6 349.21 L237.2 348.58 L237.8 349.69 L238.4 349.71 L239 349.28 L239.6 347.59 L240.2 349.04 L240.8 348.28 L241.4 349.58 L242 348.28 L242.6 349.6 L243.2 349.64 L243.8 348.96 L244.4 349.09 L245 349.36 L245.6 348.69 L246.2 348.82 L246.8 348.54 L247.4 349.64 L248 349.16 L248.6 349.48 L249.2 349.47 L249.8 349.31 L250.4 349.25 L251 349.16 L251.6 346.94 L252.2 349.69 L252.8 348.47 L253.4 348.89 L254 349.53 L254.6 348.94 L255.2 348.89 L255.8 348.58 L256.4 349.09 L257 349.1 L257.6 348.84 L258.2 349.22 L258.8 349.55 L259.4 349.1 L260 348.99 L260.6 349.16 L261.2 349.26 L261.8 348.49 L262.4 349.37 L263 348 L263.6 349.53 L264.2 349.74 L264.8 348.69 L265.4 348.89 L266 349.39 L266.6 349.61 L267.2 349.2 L267.8 348.81 L268.4 347.92 L269 348.77 L269.6 349.3 L270.2 348.99 L270.8 348.73 L271.4 349.77 L272 349.75 L272.6 348.52 L273.2 349.23 L273.8 349.58 L274.4 349.26 L275 349.1 L275.6 348.23 L276.2 348.47 L276.8 349.57 L277.4 349.34 L278 349.23 L278.6 349.62 L279.2 349.6 L279.8 349.12 L280.4 349.49 L281 349.46 L281.6 349.07 L282.2 349.22 L282.8 348.92 L283.4 349.2 L284 347.89 L284.6 348.11 L285.2 349.24 L285.8 349.69 L286.4 349.64 L287 349.74 L287.6 349.64 L288.2 348.71 L288.8 349.65 L289.4 349.08 L290 349.42 L290.6 349.26 L291.2 349.72 L291.8 348.27 L292.4 349.07 L293 349.66 L293.6 349.08 L294.2 349.6 L294.8 349.3 L295.4 348.27 L296 349.23 L296.6 349.53 L297.2 349.07 L297.8 354.67 L298.4 357.52 L299 358.93 L299 362.03 L298.4 363.7 L297.8 366.31 L297.2 373.34 L296.6 371 L296 371.22 L295.4 371.28 L294.8 371.58 L294.2 371.41 L293.6 372.62 L293 371.72 L292.4 371.21 L291.8 371.39 L291.2 371.33 L290.6 371.4 L290 371.76 L289.4 372.17 L288.8 371.42 L288.2 370.97 L287.6 371.44 L287 371.17 L286.4 371.32 L285.8 371.13 L285.2 372.04 L284.6 371.36 L284 371.84 L283.4 371.79 L282.8 371.1 L282.2 372.05 L281.6 371.12 L281 371.77 L280.4 371.78 L279.8 371.76 L279.2 371.05 L278.6 371.9 L278 371.23 L277.4 371.7 L276.8 371.33 L276.2 371.71 L275.6 371.91 L275 371.7 L274.4 372.58 L273.8 371.41 L273.2 371.47 L272.6 371.82 L272 371.45 L271.4 372.35 L270.8 371.85 L270.2 371.7 L269.6 371.57 L269 371.17 L268.4 371.97 L267.8 371.15 L267.2 372.48 L266.6 371.45 L266 370.98 L265.4 371.41 L264.8 371.66 L264.2 373.14 L263.6 371.35 L263 372.95 L262.4 371.37 L261.8 371.29 L261.2 371.21 L260.6 371.57 L260 371.91 L259.4 371.06 L258.8 371.68 L258.2 371.57 L257.6 371.15 L257 371.4 L256.4 372.8 L255.8 371.93 L255.2 371.34 L254.6 371.3 L254 371.38 L253.4 371.93 L252.8 371.48 L252.2 371.75 L251.6 371.25 L251 371.57 L250.4 371.34 L249.8 372.2 L249.2 372 L248.6 371.18 L248 371.2 L247.4 371.53 L246.8 371.38 L246.2 371.43 L245.6 372.24 L245 372.28 L244.4 371.64 L243.8 371.05 L243.2 371.53 L242.6 371.7 L242 371.01 L241.4 371.94 L240.8 372.45 L240.2 371.3 L239.6 371.06 L239 372.06 L238.4 371.53 L237.8 371.8 L237.2 371.27 L236.6 371.7 L236 371.56 L235.4 373.27 L234.8 373.4 L234.2 371.42 L233.6 371.98 L233 371.05 L232.4 371.09 L231.8 371.28 L231.2 371.89 L230.6 372.36 L230 371.31 L229.4 371.16 L228.8 371.12 L228.2 371.33 L227.6 371.63 L227 371.85 L226.4 371.1 L225.8 371.19 L225.2 371.27 L224.6 370.99 L224 371.47 L223.4 371.13 L222.8 372.61 L222.2 371.1 L221.6 372.63 L221 371.06 L220.4 372.98 L219.8 372.68 L219.2 371.01 L218.6 371.01 L218 371.93 L217.4 371.49 L216.8 372.59 L216.2 371.96 L215.6 371.28 L215 371.47 L214.4 372.5 L213.8 373.36 L213.2 372.01 L212.6 372.24 L212 371.52 L211.4 370.99 L210.8 371.17 L210.2 373.12 L209.6 371.14 L209 371.61 L208.4 371.37 L207.8 371.21 L207.2 371.52 L206.6 372.62 L206 370.98 L205.4 371.48 L204.8 372.12 L204.2 372.51 L203.6 372.25 L203 371.27 L202.4 371.45 L201.8 372.65 L201.2 371.51 L200.6 372.05 L200 371.26 L199.4 371.88 L198.8 371.83 L198.2 372.05 L197.6 371.27 L197 371.12 L196.4 371.51 L195.8 371.17 L195.2 372.45 L194.6 371.48 L194 372.35 L193.4 371.16 L192.8 371.06 L192.2 371.97 L191.6 371.41 L191 372.43 L190.4 371.81 L189.8 371.19 L189.2 373.06 L188.6 371.52 L188 371.91 L187.4 371 L186.8 371.11 L186.2 371.42 L185.6 372.13 L185 371.4 L184.4 371.63 L183.8 372.26 L183.2 371.91 L182.6 372.51 L182 371.91 L181.4 371.53 L180.8 371.89 L180.2 371.11 L179.6 371.99 L179 371.38 L178.4 371.32 L177.8 372.37 L177.2 371.66 L176.6 372.65 L176 372 L175.4 371.33 L174.8 372.8 L174.2 371.73 L173.6 371.88 L173 371.06 L172.4 371.91 L171.8 371.48 L171.2 372.05 L170.6 372.58 L170 372.22 L169.4 372.35 L168.8 371.56 L168.2 371.55 L167.6 371.82 Z" stroke="none" stroke-width="1" fill="#ff9494"/>
<path d="M168.78 360.37 L174.68 352.1 L180.58 360.37 L174.68 368.63 ZM180.58 360.37 L186.48 352.1 L192.38 360.37 L186.48 368.63 ZM192.38 360.37 L198.28 352.1 L204.18 360.37 L198.28 368.63 ZM204.18 360.37 L210.08 352.1 L215.98 360.37 L210.08 368.63 ZM215.98 360.37 L221.88 352.1 L227.78 360.37 L221.88 368.63 ZM227.78 360.37 L233.68 352.1 L239.58 360.37 L233.68 368.63 ZM239.58 360.37 L245.48 352.1 L251.38 360.37 L245.48 368.63 ZM251.38 360.37 L257.28 352.1 L263.18 360.37 L257.28 368.63 ZM263.18 360.37 L269.08 352.1 L274.98 360.37 L269.08 368.63 ZM274.98 360.37 L280.88 352.1 L286.78 360.37 L280.88 368.63 Z" stroke="none" stroke-width="1" fill="#ff6a6a"/>
<path d="M166.18 349.77 L168.78 355.6 L171.38 349.77 ZM166.18 370.97 L168.78 365.14 L171.38 370.97 ZM177.98 349.77 L180.58 355.6 L183.18 349.77 ZM177.98 370.97 L180.58 365.14 L183.18 370.97 ZM189.78 349.77 L192.38 355.6 L194.98 349.77 ZM189.78 370.97 L192.38 365.14 L194.98 370.97 ZM201.58 349.77 L204.18 355.6 L206.78 349.77 ZM201.58 370.97 L204.18 365.14 L206.78 370.97 ZM213.38 349.77 L215.98 355.6 L218.58 349.77 ZM213.38 370.97 L215.98 365.14 L218.58 370.97 ZM225.18 349.77 L227.78 355.6 L230.38 349.77 ZM225.18 370.97 L227.78 365.14 L230.38 370.97 ZM236.98 349.77 L239.58 355.6 L242.18 349.77 ZM236.98 370.97 L239.58 365.14 L242.18 370.97 ZM248.78 349.77 L251.38 355.6 L253.98 349.77 ZM248.78 370.97 L251.38 365.14 L253.98 370.97 ZM260.58 349.77 L263.18 355.6 L265.78 349.77 ZM260.58 370.97 L263.18 365.14 L265.78 370.97 ZM272.38 349.77 L274.98 355.6 L277.58 349.77 ZM272.38 370.97 L274.98 365.14 L277.58 370.97 ZM284.18 349.77 L286.78 355.6 L289.38 349.77 ZM284.18 370.97 L286.78 365.14 L289.38 370.97 Z" stroke="none" stroke-width="1" fill="#ffc8c8" fill-opacity="0.8"/>
<path d="M168.4 349.77 L168.4 358.08M168.4 370.97 L168.4 364.37M170.32 349.77 L170.32 356.05M170.32 370.97 L170.32 366.9M172.66 349.77 L172.66 355.6M172.66 370.97 L172.66 364.08M174.49 349.77 L174.49 355.46M174.49 370.97 L174.49 364M176.46 349.77 L176.46 353.29M176.46 370.97 L176.46 365.3M178.74 349.77 L178.74 355.4M178.74 370.97 L178.74 362.59M180.83 349.77 L180.83 357.63M180.83 370.97 L180.83 367.61M182.97 349.77 L182.97 355.65M182.97 370.97 L182.97 365.89M185.3 349.77 L185.3 353.43M185.3 370.97 L185.3 365.21M187.22 349.77 L187.22 358.03M187.22 370.97 L187.22 363.64M189.06 349.77 L189.06 353.62M189.06 370.97 L189.06 367.66M190.88 349.77 L190.88 357.87M190.88 370.97 L190.88 363.16M193.14 349.77 L193.14 355.07M193.14 370.97 L193.14 365.23M195.25 349.77 L195.25 357.24M195.25 370.97 L195.25 367.76M197.07 349.77 L197.07 356.03M197.07 370.97 L197.07 367.04M199.43 349.77 L199.43 353.18M199.43 370.97 L199.43 362.63M201.28 349.77 L201.28 353.97M201.28 370.97 L201.28 365.54M203.43 349.77 L203.43 358.14M203.43 370.97 L203.43 365.26M205.75 349.77 L205.75 357.67M205.75 370.97 L205.75 362.57M207.71 349.77 L207.71 355.46M207.71 370.97 L207.71 367.67M209.67 349.77 L209.67 354.82M209.67 370.97 L209.67 367.13M211.96 349.77 L211.96 354.43M211.96 370.97 L211.96 367.09M213.74 349.77 L213.74 353.08M213.74 370.97 L213.74 363.78M215.81 349.77 L215.81 355.72M215.81 370.97 L215.81 365.59M218.19 349.77 L218.19 354.95M218.19 370.97 L218.19 365.27M220.37 349.77 L220.37 357.87M220.37 370.97 L220.37 363.24M222.69 349.77 L222.69 353.92M222.69 370.97 L222.69 362.78M224.96 349.77 L224.96 354.69M224.96 370.97 L224.96 363.52M227.33 349.77 L227.33 356.89M227.33 370.97 L227.33 363.87M229.62 349.77 L229.62 357.6M229.62 370.97 L229.62 363.65M231.37 349.77 L231.37 354.05M231.37 370.97 L231.37 367.15M233.4 349.77 L233.4 353.29M233.4 370.97 L233.4 364.87M235.74 349.77 L235.74 358.15M235.74 370.97 L235.74 367.59M237.92 349.77 L237.92 353.7M237.92 370.97 L237.92 363.22M239.64 349.77 L239.64 353.49M239.64 370.97 L239.64 366.07M241.35 349.77 L241.35 356.46M241.35 370.97 L241.35 366.7M243.55 349.77 L243.55 357.98M243.55 370.97 L243.55 365.29M245.58 349.77 L245.58 358.23M245.58 370.97 L245.58 366.12M247.9 349.77 L247.9 356.73M247.9 370.97 L247.9 367.74M249.81 349.77 L249.81 356.77M249.81 370.97 L249.81 367.55M252.11 349.77 L252.11 357.78M252.11 370.97 L252.11 363.76M254.38 349.77 L254.38 356.11M254.38 370.97 L254.38 363.5M256.4 349.77 L256.4 355.11M256.4 370.97 L256.4 364.06M258.43 349.77 L258.43 354.59M258.43 370.97 L258.43 366.38M260.44 349.77 L260.44 354.97M260.44 370.97 L260.44 363.79M262.68 349.77 L262.68 357.18M262.68 370.97 L262.68 363.31M264.64 349.77 L264.64 354.9M264.64 370.97 L264.64 363.34M266.46 349.77 L266.46 356.67M266.46 370.97 L266.46 365.01M268.63 349.77 L268.63 356.64M268.63 370.97 L268.63 364.24M270.49 349.77 L270.49 353.07M270.49 370.97 L270.49 362.74M272.82 349.77 L272.82 355.62M272.82 370.97 L272.82 364.28M274.59 349.77 L274.59 355.38M274.59 370.97 L274.59 364.67M276.78 349.77 L276.78 354.11M276.78 370.97 L276.78 367.3M279.15 349.77 L279.15 357.44M279.15 370.97 L279.15 366.84M281.43 349.77 L281.43 357.25M281.43 370.97 L281.43 366.82M283.69 349.77 L283.69 354.97M283.69 370.97 L283.69 366.02M285.5 349.77 L285.5 356.08M285.5 370.97 L285.5 364.54M287.56 349.77 L287.56 353.48M287.56 370.97 L287.56 363.57M289.48 349.77 L289.48 354.35M289.48 370.97 L289.48 364.39M291.31 349.77 L291.31 357.77M291.31 370.97 L291.31 364.35M293.56 349.77 L293.56 354.75M293.56 370.97 L293.56 365.52M295.44 349.77 L295.44 354.28M295.44 370.97 L295.44 365.59" stroke="#ffc8c8" stroke-width="0.7" fill="none" stroke-opacity="0.75"/>
<path d="M169.4 350.83 L169.4 369.91M171.32 350.83 L171.32 369.91M173.66 350.83 L173.66 369.91M175.49 350.83 L175.49 369.91M177.46 350.83 L177.46 369.91M179.74 350.83 L179.74 369.91M181.83 350.83 L181.83 369.91M183.97 350.83 L183.97 369.91M186.3 350.83 L186.3 369.91M188.22 350.83 L188.22 369.91M190.06 350.83 L190.06 369.91M191.88 350.83 L191.88 369.91M194.14 350.83 L194.14 369.91M196.25 350.83 L196.25 369.91M198.07 350.83 L198.07 369.91M200.43 350.83 L200.43 369.91M202.28 350.83 L202.28 369.91M204.43 350.83 L204.43 369.91M206.75 350.83 L206.75 369.91M208.71 350.83 L208.71 369.91M210.67 350.83 L210.67 369.91M212.96 350.83 L212.96 369.91M214.74 350.83 L214.74 369.91M216.81 350.83 L216.81 369.91M219.19 350.83 L219.19 369.91M221.37 350.83 L221.37 369.91M223.69 350.83 L223.69 369.91M225.96 350.83 L225.96 369.91M228.33 350.83 L228.33 369.91M230.62 350.83 L230.62 369.91M232.37 350.83 L232.37 369.91M234.4 350.83 L234.4 369.91M236.74 350.83 L236.74 369.91M238.92 350.83 L238.92 369.91M240.64 350.83 L240.64 369.91M242.35 350.83 L242.35 369.91M244.55 350.83 L244.55 369.91M246.58 350.83 L246.58 369.91M248.9 350.83 L248.9 369.91M250.81 350.83 L250.81 369.91M253.11 350.83 L253.11 369.91M255.38 350.83 L255.38 369.91M257.4 350.83 L257.4 369.91M259.43 350.83 L259.43 369.91M261.44 350.83 L261.44 369.91M263.68 350.83 L263.68 369.91M265.64 350.83 L265.64 369.91M267.46 350.83 L267.46 369.91M269.63 350.83 L269.63 369.91M271.49 350.83 L271.49 369.91M273.82 350.83 L273.82 369.91M275.59 350.83 L275.59 369.91M277.78 350.83 L277.78 369.91M280.15 350.83 L280.15 369.91M282.43 350.83 L282.43 369.91M284.69 350.83 L284.69 369.91M286.5 350.83 L286.5 369.91M288.56 350.83 L288.56 369.91M290.48 350.83 L290.48 369.91M292.31 350.83 L292.31 369.91M294.56 350.83 L294.56 369.91M296.44 350.83 L296.44 369.91" stroke="#ff6a6a" stroke-width="0.5" fill="none" stroke-opacity="0.5"/>
<path d="M51.2 393.47 L170 393.47" stroke="#1a1aff" stroke-width="1.1" fill="none"/>
<path d="M300 393.47 L308.5 393.47" stroke="#1a1aff" stroke-width="1.2" fill="none"/>
<line x1="64.3" y1="391.87" x2="64.3" y2="395.07" stroke="#1a1aff" stroke-width="1.2"/>
<line x1="90.2" y1="391.87" x2="90.2" y2="395.07" stroke="#1a1aff" stroke-width="1.2"/>
<line x1="114.5" y1="391.87" x2="114.5" y2="395.07" stroke="#1a1aff" stroke-width="1.2"/>
<line x1="129.9" y1="391.87" x2="129.9" y2="395.07" stroke="#1a1aff" stroke-width="1.2"/>
<line x1="155.5" y1="391.87" x2="155.5" y2="395.07" stroke="#1a1aff" stroke-width="1.2"/>
<path d="M169 376.64 L169.6 376.05 L170.2 376.51 L170.8 375.91 L171.4 376.43 L172 376.17 L172.6 375.95 L173.2 376.24 L173.8 375.16 L174.4 375.89 L175 375.95 L175.6 376.57 L176.2 375.76 L176.8 376.45 L177.4 376.06 L178 375.57 L178.6 376.51 L179.2 376.53 L179.8 376.31 L180.4 375.76 L181 376.4 L181.6 376.28 L182.2 376.36 L182.8 376.17 L183.4 376.16 L184 376.4 L184.6 376.07 L185.2 376.38 L185.8 375.79 L186.4 376.19 L187 376.52 L187.6 376.35 L188.2 376.15 L188.8 376.42 L189.4 376.24 L190 375.58 L190.6 376.4 L191.2 375.91 L191.8 376.07 L192.4 375.81 L193 376.27 L193.6 376.4 L194.2 376.27 L194.8 376.34 L195.4 376.08 L196 376.61 L196.6 376.56 L197.2 375.73 L197.8 376.47 L198.4 376.45 L199 376.42 L199.6 376.61 L200.2 376.16 L200.8 376.65 L201.4 375.94 L202 376.12 L202.6 376.17 L203.2 376.07 L203.8 376.63 L204.4 376.22 L205 376.44 L205.6 376.6 L206.2 376.6 L206.8 376.56 L207.4 375.43 L208 376.3 L208.6 376.18 L209.2 376.13 L209.8 375.96 L210.4 375.96 L211 375.95 L211.6 375.96 L212.2 376.19 L212.8 376.36 L213.4 375.91 L214 376.12 L214.6 376.14 L215.2 376 L215.8 376.13 L216.4 376.17 L217 376.01 L217.6 375.86 L218.2 375.65 L218.8 376.11 L219.4 376.27 L220 376.3 L220.6 376.22 L221.2 376.01 L221.8 376.25 L222.4 376.55 L223 376.52 L223.6 376.37 L224.2 375.93 L224.8 376.18 L225.4 376.03 L226 375.87 L226.6 375.63 L227.2 376.31 L227.8 376.67 L228.4 376.32 L229 376.36 L229.6 376.65 L230.2 375.87 L230.8 376.65 L231.4 375.88 L232 375.45 L232.6 375.86 L233.2 375.32 L233.8 375.88 L234.4 376.55 L235 376.67 L235.6 376.58 L236.2 376.47 L236.8 375.94 L237.4 376.35 L238 376.36 L238.6 376.46 L239.2 375.67 L239.8 376.26 L240.4 375.94 L241 376.59 L241.6 376.22 L242.2 376.66 L242.8 376.5 L243.4 375.74 L244 376.54 L244.6 376.5 L245.2 376.1 L245.8 375.92 L246.4 376.64 L247 376.51 L247.6 376.49 L248.2 376.35 L248.8 376.13 L249.4 375.3 L250 376.46 L250.6 376.23 L251.2 376.37 L251.8 376.22 L252.4 376.26 L253 376.6 L253.6 376.67 L254.2 376.26 L254.8 376.09 L255.4 376.58 L256 376.33 L256.6 376.6 L257.2 376.57 L257.8 375.82 L258.4 376.59 L259 376.46 L259.6 376.6 L260.2 376.07 L260.8 376.46 L261.4 375.34 L262 376.03 L262.6 376.28 L263.2 376.52 L263.8 376.32 L264.4 376.48 L265 375.85 L265.6 376.66 L266.2 376.64 L266.8 376.34 L267.4 376.34 L268 376.62 L268.6 376.11 L269.2 376.57 L269.8 376.35 L270.4 376.55 L271 376.35 L271.6 376.28 L272.2 376.53 L272.8 376.1 L273.4 376.04 L274 376.06 L274.6 376.66 L275.2 376.56 L275.8 376 L276.4 376.67 L277 376.56 L277.6 376.19 L278.2 376.09 L278.8 376.45 L279.4 376.45 L280 376.57 L280.6 376.64 L281.2 375.88 L281.8 375.91 L282.4 376.34 L283 376.2 L283.6 375.43 L284.2 376.27 L284.8 376.45 L285.4 376.42 L286 376.63 L286.6 376.43 L287.2 376.33 L287.8 376.08 L288.4 375.65 L289 376.59 L289.6 376.05 L290.2 376.62 L290.8 375.93 L291.4 376.51 L292 376.39 L292.6 376.44 L293.2 376.37 L293.8 376.66 L294.4 376.42 L295 376.61 L295.6 376.03 L296.2 376.09 L296.8 376.24 L297.4 376.37 L298 381.55 L298.6 384.86 L299.2 387.6 L299.8 389.26 L300.4 390.53 L301 391.39 L301.6 392.03 L302.2 392.46 L302.8 392.74 L303.4 392.97 L304 393.12 L304.6 393.22 L305.2 393.3 L305.8 393.35 L306.4 393.39 L307 393.41 L307 393.53 L306.4 393.56 L305.8 393.6 L305.2 393.65 L304.6 393.72 L304 393.82 L303.4 393.99 L302.8 394.22 L302.2 394.49 L301.6 394.93 L301 395.59 L300.4 396.39 L299.8 397.58 L299.2 399.44 L298.6 402.21 L298 405.31 L297.4 410.43 L296.8 410.83 L296.2 411.55 L295.6 410.28 L295 410.38 L294.4 410.85 L293.8 411.78 L293.2 410.8 L292.6 410.72 L292 411.1 L291.4 410.81 L290.8 410.46 L290.2 410.36 L289.6 410.72 L289 410.63 L288.4 410.56 L287.8 410.97 L287.2 410.66 L286.6 410.46 L286 410.61 L285.4 410.29 L284.8 410.35 L284.2 411.22 L283.6 410.63 L283 410.73 L282.4 410.9 L281.8 410.45 L281.2 410.41 L280.6 410.55 L280 410.69 L279.4 410.64 L278.8 411.25 L278.2 411.11 L277.6 411.67 L277 410.56 L276.4 410.68 L275.8 410.45 L275.2 410.86 L274.6 410.42 L274 412.22 L273.4 410.97 L272.8 410.53 L272.2 410.38 L271.6 411.48 L271 410.74 L270.4 410.32 L269.8 411 L269.2 410.95 L268.6 410.68 L268 410.55 L267.4 410.43 L266.8 410.33 L266.2 410.48 L265.6 410.71 L265 410.54 L264.4 410.35 L263.8 411.83 L263.2 410.58 L262.6 411.21 L262 411.02 L261.4 410.54 L260.8 410.64 L260.2 410.9 L259.6 411.84 L259 410.4 L258.4 410.85 L257.8 410.82 L257.2 410.76 L256.6 410.36 L256 410.53 L255.4 410.79 L254.8 410.54 L254.2 410.32 L253.6 410.67 L253 410.49 L252.4 410.33 L251.8 410.63 L251.2 410.39 L250.6 410.34 L250 411.3 L249.4 410.52 L248.8 410.29 L248.2 410.33 L247.6 411.62 L247 410.48 L246.4 410.31 L245.8 411.21 L245.2 411.26 L244.6 410.77 L244 411.41 L243.4 410.55 L242.8 410.54 L242.2 411.39 L241.6 410.32 L241 410.68 L240.4 410.56 L239.8 410.37 L239.2 411.42 L238.6 410.62 L238 410.63 L237.4 410.47 L236.8 411.46 L236.2 410.37 L235.6 411.17 L235 410.82 L234.4 410.57 L233.8 411.06 L233.2 411.5 L232.6 410.35 L232 411.15 L231.4 411.27 L230.8 410.66 L230.2 410.94 L229.6 410.73 L229 410.78 L228.4 410.44 L227.8 410.29 L227.2 411.41 L226.6 410.41 L226 410.54 L225.4 410.5 L224.8 410.54 L224.2 410.3 L223.6 410.75 L223 410.6 L222.4 410.88 L221.8 411.1 L221.2 410.45 L220.6 410.29 L220 410.36 L219.4 411.07 L218.8 410.55 L218.2 410.56 L217.6 410.81 L217 410.7 L216.4 410.31 L215.8 411.09 L215.2 410.89 L214.6 410.44 L214 410.42 L213.4 410.89 L212.8 410.92 L212.2 410.32 L211.6 410.77 L211 411.05 L210.4 410.64 L209.8 411.26 L209.2 410.57 L208.6 410.87 L208 410.42 L207.4 410.93 L206.8 410.4 L206.2 410.35 L205.6 410.49 L205 410.93 L204.4 410.66 L203.8 410.59 L203.2 410.61 L202.6 410.56 L202 410.85 L201.4 410.92 L200.8 410.64 L200.2 411.45 L199.6 410.71 L199 411.43 L198.4 410.88 L197.8 410.55 L197.2 412.1 L196.6 410.82 L196 410.87 L195.4 410.55 L194.8 411.14 L194.2 411.01 L193.6 411.07 L193 410.33 L192.4 411.6 L191.8 411 L191.2 411.59 L190.6 410.92 L190 410.94 L189.4 410.76 L188.8 410.84 L188.2 410.43 L187.6 410.46 L187 410.51 L186.4 410.57 L185.8 410.87 L185.2 411.3 L184.6 410.8 L184 411.75 L183.4 410.67 L182.8 411.02 L182.2 411.1 L181.6 411.11 L181 410.8 L180.4 410.87 L179.8 410.57 L179.2 411.14 L178.6 411.22 L178 411.38 L177.4 411.13 L176.8 410.39 L176.2 410.3 L175.6 411.69 L175 411.28 L174.4 410.35 L173.8 410.98 L173.2 410.43 L172.6 410.38 L172 411.39 L171.4 411.53 L170.8 410.58 L170.2 410.75 L169.6 410.54 L169 410.87 Z" stroke="none" stroke-width="1" fill="#8c8cff"/>
<path d="M170.18 393.47 L176.08 380.37 L181.98 393.47 L176.08 406.58 ZM181.98 393.47 L187.88 380.37 L193.78 393.47 L187.88 406.58 ZM193.78 393.47 L199.68 380.37 L205.58 393.47 L199.68 406.58 ZM205.58 393.47 L211.48 380.37 L217.38 393.47 L211.48 406.58 ZM217.38 393.47 L223.28 380.37 L229.18 393.47 L223.28 406.58 ZM229.18 393.47 L235.08 380.37 L240.98 393.47 L235.08 406.58 ZM240.98 393.47 L246.88 380.37 L252.78 393.47 L246.88 406.58 ZM252.78 393.47 L258.68 380.37 L264.58 393.47 L258.68 406.58 ZM264.58 393.47 L270.48 380.37 L276.38 393.47 L270.48 406.58 ZM276.38 393.47 L282.28 380.37 L288.18 393.47 L282.28 406.58 Z" stroke="none" stroke-width="1" fill="#6262ff"/>
<path d="M167.58 376.67 L170.18 385.91 L172.78 376.67 ZM167.58 410.27 L170.18 401.03 L172.78 410.27 ZM179.38 376.67 L181.98 385.91 L184.58 376.67 ZM179.38 410.27 L181.98 401.03 L184.58 410.27 ZM191.18 376.67 L193.78 385.91 L196.38 376.67 ZM191.18 410.27 L193.78 401.03 L196.38 410.27 ZM202.98 376.67 L205.58 385.91 L208.18 376.67 ZM202.98 410.27 L205.58 401.03 L208.18 410.27 ZM214.78 376.67 L217.38 385.91 L219.98 376.67 ZM214.78 410.27 L217.38 401.03 L219.98 410.27 ZM226.58 376.67 L229.18 385.91 L231.78 376.67 ZM226.58 410.27 L229.18 401.03 L231.78 410.27 ZM238.38 376.67 L240.98 385.91 L243.58 376.67 ZM238.38 410.27 L240.98 401.03 L243.58 410.27 ZM250.18 376.67 L252.78 385.91 L255.38 376.67 ZM250.18 410.27 L252.78 401.03 L255.38 410.27 ZM261.98 376.67 L264.58 385.91 L267.18 376.67 ZM261.98 410.27 L264.58 401.03 L267.18 410.27 ZM273.78 376.67 L276.38 385.91 L278.98 376.67 ZM273.78 410.27 L276.38 401.03 L278.98 410.27 ZM285.58 376.67 L288.18 385.91 L290.78 376.67 ZM285.58 410.27 L288.18 401.03 L290.78 410.27 Z" stroke="none" stroke-width="1" fill="#bcbcff" fill-opacity="0.8"/>
<path d="M169.8 376.67 L169.8 382.31M169.8 410.27 L169.8 398.36M172.13 376.67 L172.13 389.81M172.13 410.27 L172.13 399.82M174.24 376.67 L174.24 383.35M174.24 410.27 L174.24 397.13M176.45 376.67 L176.45 387.33M176.45 410.27 L176.45 399.4M178.74 376.67 L178.74 384.59M178.74 410.27 L178.74 404.29M181.14 376.67 L181.14 381.98M181.14 410.27 L181.14 402.95M183.18 376.67 L183.18 382.05M183.18 410.27 L183.18 402.63M185.49 376.67 L185.49 386.96M185.49 410.27 L185.49 400.33M187.2 376.67 L187.2 385.3M187.2 410.27 L187.2 404.21M189.17 376.67 L189.17 384.98M189.17 410.27 L189.17 401.66M191.09 376.67 L191.09 388.27M191.09 410.27 L191.09 401.34M193.43 376.67 L193.43 384.6M193.43 410.27 L193.43 404.03M195.38 376.67 L195.38 389.03M195.38 410.27 L195.38 402.22M197.65 376.67 L197.65 387.53M197.65 410.27 L197.65 403.06M199.49 376.67 L199.49 382.66M199.49 410.27 L199.49 401.46M201.67 376.67 L201.67 384.18M201.67 410.27 L201.67 397.21M203.38 376.67 L203.38 388.31M203.38 410.27 L203.38 403.8M205.78 376.67 L205.78 382.54M205.78 410.27 L205.78 397.49M207.76 376.67 L207.76 384.12M207.76 410.27 L207.76 404.89M209.62 376.67 L209.62 384.93M209.62 410.27 L209.62 397.37M211.99 376.67 L211.99 382.38M211.99 410.27 L211.99 400.51M213.72 376.67 L213.72 382.58M213.72 410.27 L213.72 400.06M215.78 376.67 L215.78 389.27M215.78 410.27 L215.78 397.64M217.6 376.67 L217.6 387.04M217.6 410.27 L217.6 398.46M219.84 376.67 L219.84 386.48M219.84 410.27 L219.84 400.93M221.94 376.67 L221.94 385.18M221.94 410.27 L221.94 400.48M224.26 376.67 L224.26 384.63M224.26 410.27 L224.26 401.53M226.27 376.67 L226.27 388.99M226.27 410.27 L226.27 403.18M228.28 376.67 L228.28 388.02M228.28 410.27 L228.28 401.94M230.57 376.67 L230.57 386.23M230.57 410.27 L230.57 404.4M232.53 376.67 L232.53 382.94M232.53 410.27 L232.53 401.54M234.49 376.67 L234.49 384.56M234.49 410.27 L234.49 398.26M236.81 376.67 L236.81 388.06M236.81 410.27 L236.81 398.8M239.14 376.67 L239.14 389.42M239.14 410.27 L239.14 403.77M241.47 376.67 L241.47 383.06M241.47 410.27 L241.47 402.95M243.72 376.67 L243.72 382.91M243.72 410.27 L243.72 397.13M246.07 376.67 L246.07 381.71M246.07 410.27 L246.07 399.89M248.42 376.67 L248.42 386.25M248.42 410.27 L248.42 400.72M250.53 376.67 L250.53 386.36M250.53 410.27 L250.53 400.35M252.71 376.67 L252.71 389.74M252.71 410.27 L252.71 404.54M254.57 376.67 L254.57 381.76M254.57 410.27 L254.57 404.67M256.41 376.67 L256.41 389.29M256.41 410.27 L256.41 402.58M258.53 376.67 L258.53 384.34M258.53 410.27 L258.53 396.93M260.37 376.67 L260.37 385.03M260.37 410.27 L260.37 402.13M262.22 376.67 L262.22 382.33M262.22 410.27 L262.22 401.95M264.06 376.67 L264.06 381.91M264.06 410.27 L264.06 397.79M266 376.67 L266 381.81M266 410.27 L266 400.06M268.03 376.67 L268.03 387.5M268.03 410.27 L268.03 402.21M269.83 376.67 L269.83 387.08M269.83 410.27 L269.83 401.88M272.15 376.67 L272.15 384.46M272.15 410.27 L272.15 403.36M273.98 376.67 L273.98 383.86M273.98 410.27 L273.98 403.23M276.04 376.67 L276.04 384.84M276.04 410.27 L276.04 397.09M277.88 376.67 L277.88 389.61M277.88 410.27 L277.88 402.41M279.92 376.67 L279.92 389.77M279.92 410.27 L279.92 398.67M282.29 376.67 L282.29 386.24M282.29 410.27 L282.29 402.56M284.46 376.67 L284.46 387.47M284.46 410.27 L284.46 404.88M286.23 376.67 L286.23 389.66M286.23 410.27 L286.23 399.18M288.51 376.67 L288.51 383.29M288.51 410.27 L288.51 397.05M290.42 376.67 L290.42 382.89M290.42 410.27 L290.42 402.21M292.37 376.67 L292.37 382.2M292.37 410.27 L292.37 398.12M294.67 376.67 L294.67 383.37M294.67 410.27 L294.67 400.6" stroke="#bcbcff" stroke-width="0.7" fill="none" stroke-opacity="0.75"/>
<path d="M170.8 378.35 L170.8 408.59M173.13 378.35 L173.13 408.59M175.24 378.35 L175.24 408.59M177.45 378.35 L177.45 408.59M179.74 378.35 L179.74 408.59M182.14 378.35 L182.14 408.59M184.18 378.35 L184.18 408.59M186.49 378.35 L186.49 408.59M188.2 378.35 L188.2 408.59M190.17 378.35 L190.17 408.59M192.09 378.35 L192.09 408.59M194.43 378.35 L194.43 408.59M196.38 378.35 L196.38 408.59M198.65 378.35 L198.65 408.59M200.49 378.35 L200.49 408.59M202.67 378.35 L202.67 408.59M204.38 378.35 L204.38 408.59M206.78 378.35 L206.78 408.59M208.76 378.35 L208.76 408.59M210.62 378.35 L210.62 408.59M212.99 378.35 L212.99 408.59M214.72 378.35 L214.72 408.59M216.78 378.35 L216.78 408.59M218.6 378.35 L218.6 408.59M220.84 378.35 L220.84 408.59M222.94 378.35 L222.94 408.59M225.26 378.35 L225.26 408.59M227.27 378.35 L227.27 408.59M229.28 378.35 L229.28 408.59M231.57 378.35 L231.57 408.59M233.53 378.35 L233.53 408.59M235.49 378.35 L235.49 408.59M237.81 378.35 L237.81 408.59M240.14 378.35 L240.14 408.59M242.47 378.35 L242.47 408.59M244.72 378.35 L244.72 408.59M247.07 378.35 L247.07 408.59M249.42 378.35 L249.42 408.59M251.53 378.35 L251.53 408.59M253.71 378.35 L253.71 408.59M255.57 378.35 L255.57 408.59M257.41 378.35 L257.41 408.59M259.53 378.35 L259.53 408.59M261.37 378.35 L261.37 408.59M263.22 378.35 L263.22 408.59M265.06 378.35 L265.06 408.59M267 378.35 L267 408.59M269.03 378.35 L269.03 408.59M270.83 378.35 L270.83 408.59M273.15 378.35 L273.15 408.59M274.98 378.35 L274.98 408.59M277.04 378.35 L277.04 408.59M278.88 378.35 L278.88 408.59M280.92 378.35 L280.92 408.59M283.29 378.35 L283.29 408.59M285.46 378.35 L285.46 408.59M287.23 378.35 L287.23 408.59M289.51 378.35 L289.51 408.59M291.42 378.35 L291.42 408.59M293.37 378.35 L293.37 408.59M295.67 378.35 L295.67 408.59" stroke="#6262ff" stroke-width="0.5" fill="none" stroke-opacity="0.5"/>
<line x1="56" y1="254.8" x2="77" y2="254.8" stroke="#444" stroke-width="1"/>
<text x="80.8" y="258.2" font-size="9.75" fill="#000" text-anchor="start">Commercial Transducer - Driving voltage</text>
<line x1="56" y1="266.7" x2="77" y2="266.7" stroke="#ff1a1a" stroke-width="1"/>
<text x="80.8" y="270.1" font-size="9.75" fill="#ff1a1a" text-anchor="start">Hydrophone - Output voltage</text>
<line x1="56" y1="278.2" x2="77" y2="278.2" stroke="#1a1aff" stroke-width="1"/>
<text x="80.8" y="281.6" font-size="9.75" fill="#1a1aff" text-anchor="start">CMUT - Output voltage</text>
<line x1="50.7" y1="418.3" x2="308.5" y2="418.3" stroke="#000" stroke-width="1.2"/>
<line x1="50.7" y1="244.5" x2="308.5" y2="244.5" stroke="#333" stroke-width="1.2"/>
<line x1="50.7" y1="244.5" x2="50.7" y2="418.3" stroke="#000" stroke-width="1.2"/>
<line x1="308.5" y1="244.5" x2="308.5" y2="418.3" stroke="#ff1a1a" stroke-width="1.2"/>
<line x1="347.8" y1="244.5" x2="347.8" y2="418.3" stroke="#1a1aff" stroke-width="1.2"/>
<line x1="50.7" y1="418.3" x2="50.7" y2="415.3" stroke="#000" stroke-width="1"/>
<line x1="76.48" y1="418.3" x2="76.48" y2="415.3" stroke="#000" stroke-width="1"/>
<line x1="102.26" y1="418.3" x2="102.26" y2="415.3" stroke="#000" stroke-width="1"/>
<line x1="128.04" y1="418.3" x2="128.04" y2="415.3" stroke="#000" stroke-width="1"/>
<line x1="153.82" y1="418.3" x2="153.82" y2="415.3" stroke="#000" stroke-width="1"/>
<line x1="179.6" y1="418.3" x2="179.6" y2="415.3" stroke="#000" stroke-width="1"/>
<line x1="205.38" y1="418.3" x2="205.38" y2="415.3" stroke="#000" stroke-width="1"/>
<line x1="231.16" y1="418.3" x2="231.16" y2="415.3" stroke="#000" stroke-width="1"/>
<line x1="256.94" y1="418.3" x2="256.94" y2="415.3" stroke="#000" stroke-width="1"/>
<line x1="282.72" y1="418.3" x2="282.72" y2="415.3" stroke="#000" stroke-width="1"/>
<line x1="308.5" y1="418.3" x2="308.5" y2="415.3" stroke="#000" stroke-width="1"/>
<line x1="63.59" y1="418.3" x2="63.59" y2="416.7" stroke="#000" stroke-width="1"/>
<line x1="89.37" y1="418.3" x2="89.37" y2="416.7" stroke="#000" stroke-width="1"/>
<line x1="115.15" y1="418.3" x2="115.15" y2="416.7" stroke="#000" stroke-width="1"/>
<line x1="140.93" y1="418.3" x2="140.93" y2="416.7" stroke="#000" stroke-width="1"/>
<line x1="166.71" y1="418.3" x2="166.71" y2="416.7" stroke="#000" stroke-width="1"/>
<line x1="192.49" y1="418.3" x2="192.49" y2="416.7" stroke="#000" stroke-width="1"/>
<line x1="218.27" y1="418.3" x2="218.27" y2="416.7" stroke="#000" stroke-width="1"/>
<line x1="244.05" y1="418.3" x2="244.05" y2="416.7" stroke="#000" stroke-width="1"/>
<line x1="269.83" y1="418.3" x2="269.83" y2="416.7" stroke="#000" stroke-width="1"/>
<line x1="295.61" y1="418.3" x2="295.61" y2="416.7" stroke="#000" stroke-width="1"/>
<line x1="50.7" y1="418.3" x2="53.7" y2="418.3" stroke="#000" stroke-width="1"/>
<line x1="50.7" y1="398.99" x2="53.7" y2="398.99" stroke="#000" stroke-width="1"/>
<line x1="50.7" y1="379.68" x2="53.7" y2="379.68" stroke="#000" stroke-width="1"/>
<line x1="50.7" y1="360.37" x2="53.7" y2="360.37" stroke="#000" stroke-width="1"/>
<line x1="50.7" y1="341.06" x2="53.7" y2="341.06" stroke="#000" stroke-width="1"/>
<line x1="50.7" y1="321.74" x2="53.7" y2="321.74" stroke="#000" stroke-width="1"/>
<line x1="50.7" y1="302.43" x2="53.7" y2="302.43" stroke="#000" stroke-width="1"/>
<line x1="50.7" y1="283.12" x2="53.7" y2="283.12" stroke="#000" stroke-width="1"/>
<line x1="50.7" y1="263.81" x2="53.7" y2="263.81" stroke="#000" stroke-width="1"/>
<line x1="50.7" y1="244.5" x2="53.7" y2="244.5" stroke="#000" stroke-width="1"/>
<line x1="50.7" y1="408.64" x2="52.3" y2="408.64" stroke="#000" stroke-width="1"/>
<line x1="50.7" y1="389.33" x2="52.3" y2="389.33" stroke="#000" stroke-width="1"/>
<line x1="50.7" y1="370.02" x2="52.3" y2="370.02" stroke="#000" stroke-width="1"/>
<line x1="50.7" y1="350.71" x2="52.3" y2="350.71" stroke="#000" stroke-width="1"/>
<line x1="50.7" y1="331.4" x2="52.3" y2="331.4" stroke="#000" stroke-width="1"/>
<line x1="50.7" y1="312.09" x2="52.3" y2="312.09" stroke="#000" stroke-width="1"/>
<line x1="50.7" y1="292.78" x2="52.3" y2="292.78" stroke="#000" stroke-width="1"/>
<line x1="50.7" y1="273.47" x2="52.3" y2="273.47" stroke="#000" stroke-width="1"/>
<line x1="50.7" y1="254.16" x2="52.3" y2="254.16" stroke="#000" stroke-width="1"/>
<line x1="308.5" y1="418.3" x2="311.5" y2="418.3" stroke="#ff1a1a" stroke-width="1"/>
<line x1="308.5" y1="398.99" x2="311.5" y2="398.99" stroke="#ff1a1a" stroke-width="1"/>
<line x1="308.5" y1="379.68" x2="311.5" y2="379.68" stroke="#ff1a1a" stroke-width="1"/>
<line x1="308.5" y1="360.37" x2="311.5" y2="360.37" stroke="#ff1a1a" stroke-width="1"/>
<line x1="308.5" y1="341.06" x2="311.5" y2="341.06" stroke="#ff1a1a" stroke-width="1"/>
<line x1="308.5" y1="321.74" x2="311.5" y2="321.74" stroke="#ff1a1a" stroke-width="1"/>
<line x1="308.5" y1="302.43" x2="311.5" y2="302.43" stroke="#ff1a1a" stroke-width="1"/>
<line x1="308.5" y1="283.12" x2="311.5" y2="283.12" stroke="#ff1a1a" stroke-width="1"/>
<line x1="308.5" y1="263.81" x2="311.5" y2="263.81" stroke="#ff1a1a" stroke-width="1"/>
<line x1="308.5" y1="244.5" x2="311.5" y2="244.5" stroke="#ff1a1a" stroke-width="1"/>
<line x1="308.5" y1="408.64" x2="310.1" y2="408.64" stroke="#ff1a1a" stroke-width="1"/>
<line x1="308.5" y1="389.33" x2="310.1" y2="389.33" stroke="#ff1a1a" stroke-width="1"/>
<line x1="308.5" y1="370.02" x2="310.1" y2="370.02" stroke="#ff1a1a" stroke-width="1"/>
<line x1="308.5" y1="350.71" x2="310.1" y2="350.71" stroke="#ff1a1a" stroke-width="1"/>
<line x1="308.5" y1="331.4" x2="310.1" y2="331.4" stroke="#ff1a1a" stroke-width="1"/>
<line x1="308.5" y1="312.09" x2="310.1" y2="312.09" stroke="#ff1a1a" stroke-width="1"/>
<line x1="308.5" y1="292.78" x2="310.1" y2="292.78" stroke="#ff1a1a" stroke-width="1"/>
<line x1="308.5" y1="273.47" x2="310.1" y2="273.47" stroke="#ff1a1a" stroke-width="1"/>
<line x1="308.5" y1="254.16" x2="310.1" y2="254.16" stroke="#ff1a1a" stroke-width="1"/>
<line x1="347.8" y1="418.3" x2="350.8" y2="418.3" stroke="#1a1aff" stroke-width="1"/>
<line x1="347.8" y1="393.47" x2="350.8" y2="393.47" stroke="#1a1aff" stroke-width="1"/>
<line x1="347.8" y1="368.64" x2="350.8" y2="368.64" stroke="#1a1aff" stroke-width="1"/>
<line x1="347.8" y1="343.81" x2="350.8" y2="343.81" stroke="#1a1aff" stroke-width="1"/>
<line x1="347.8" y1="318.99" x2="350.8" y2="318.99" stroke="#1a1aff" stroke-width="1"/>
<line x1="347.8" y1="294.16" x2="350.8" y2="294.16" stroke="#1a1aff" stroke-width="1"/>
<line x1="347.8" y1="269.33" x2="350.8" y2="269.33" stroke="#1a1aff" stroke-width="1"/>
<line x1="347.8" y1="244.5" x2="350.8" y2="244.5" stroke="#1a1aff" stroke-width="1"/>
<line x1="347.8" y1="405.89" x2="349.4" y2="405.89" stroke="#1a1aff" stroke-width="1"/>
<line x1="347.8" y1="381.06" x2="349.4" y2="381.06" stroke="#1a1aff" stroke-width="1"/>
<line x1="347.8" y1="356.23" x2="349.4" y2="356.23" stroke="#1a1aff" stroke-width="1"/>
<line x1="347.8" y1="331.4" x2="349.4" y2="331.4" stroke="#1a1aff" stroke-width="1"/>
<line x1="347.8" y1="306.57" x2="349.4" y2="306.57" stroke="#1a1aff" stroke-width="1"/>
<line x1="347.8" y1="281.74" x2="349.4" y2="281.74" stroke="#1a1aff" stroke-width="1"/>
<line x1="347.8" y1="256.91" x2="349.4" y2="256.91" stroke="#1a1aff" stroke-width="1"/>
<text x="50.7" y="430.5" font-size="11.2" fill="#222" text-anchor="middle">-4</text>
<text x="76.48" y="430.5" font-size="11.2" fill="#222" text-anchor="middle">0</text>
<text x="102.26" y="430.5" font-size="11.2" fill="#222" text-anchor="middle">4</text>
<text x="128.04" y="430.5" font-size="11.2" fill="#222" text-anchor="middle">8</text>
<text x="153.82" y="430.5" font-size="11.2" fill="#222" text-anchor="middle">12</text>
<text x="179.6" y="430.5" font-size="11.2" fill="#222" text-anchor="middle">16</text>
<text x="205.38" y="430.5" font-size="11.2" fill="#222" text-anchor="middle">20</text>
<text x="231.16" y="430.5" font-size="11.2" fill="#222" text-anchor="middle">24</text>
<text x="256.94" y="430.5" font-size="11.2" fill="#222" text-anchor="middle">28</text>
<text x="282.72" y="430.5" font-size="11.2" fill="#222" text-anchor="middle">32</text>
<text x="308.5" y="430.5" font-size="11.2" fill="#222" text-anchor="middle">36</text>
<text x="46.5" y="422.3" font-size="11.2" fill="#222" text-anchor="end">-500</text>
<text x="46.5" y="402.99" font-size="11.2" fill="#222" text-anchor="end">-400</text>
<text x="46.5" y="383.68" font-size="11.2" fill="#222" text-anchor="end">-300</text>
<text x="46.5" y="364.37" font-size="11.2" fill="#222" text-anchor="end">-200</text>
<text x="46.5" y="345.06" font-size="11.2" fill="#222" text-anchor="end">-100</text>
<text x="46.5" y="325.74" font-size="11.2" fill="#222" text-anchor="end">0</text>
<text x="46.5" y="306.43" font-size="11.2" fill="#222" text-anchor="end">100</text>
<text x="46.5" y="287.12" font-size="11.2" fill="#222" text-anchor="end">200</text>
<text x="46.5" y="267.81" font-size="11.2" fill="#222" text-anchor="end">300</text>
<text x="46.5" y="248.5" font-size="11.2" fill="#222" text-anchor="end">400</text>
<text x="314.4" y="422.3" font-size="11.2" fill="#ff1a1a" text-anchor="start">-15</text>
<text x="314.4" y="402.99" font-size="11.2" fill="#ff1a1a" text-anchor="start">-10</text>
<text x="314.4" y="383.68" font-size="11.2" fill="#ff1a1a" text-anchor="start">-5</text>
<text x="314.4" y="364.37" font-size="11.2" fill="#ff1a1a" text-anchor="start">0</text>
<text x="314.4" y="345.06" font-size="11.2" fill="#ff1a1a" text-anchor="start">5</text>
<text x="314.4" y="325.74" font-size="11.2" fill="#ff1a1a" text-anchor="start">10</text>
<text x="314.4" y="306.43" font-size="11.2" fill="#ff1a1a" text-anchor="start">15</text>
<text x="314.4" y="287.12" font-size="11.2" fill="#ff1a1a" text-anchor="start">20</text>
<text x="314.4" y="267.81" font-size="11.2" fill="#ff1a1a" text-anchor="start">25</text>
<text x="314.4" y="248.5" font-size="11.2" fill="#ff1a1a" text-anchor="start">30</text>
<text x="353.2" y="422.3" font-size="11.2" fill="#1a1aff" text-anchor="start">-500</text>
<text x="353.2" y="397.47" font-size="11.2" fill="#1a1aff" text-anchor="start">0</text>
<text x="353.2" y="372.64" font-size="11.2" fill="#1a1aff" text-anchor="start">500</text>
<text x="353.2" y="347.81" font-size="11.2" fill="#1a1aff" text-anchor="start">1000</text>
<text x="353.2" y="322.99" font-size="11.2" fill="#1a1aff" text-anchor="start">1500</text>
<text x="353.2" y="298.16" font-size="11.2" fill="#1a1aff" text-anchor="start">2000</text>
<text x="353.2" y="273.33" font-size="11.2" fill="#1a1aff" text-anchor="start">2500</text>
<text x="353.2" y="248.5" font-size="11.2" fill="#1a1aff" text-anchor="start">3000</text>
<text x="179.3" y="449.8" font-size="11.1" fill="#000" text-anchor="middle" font-weight="bold">Time [µs]</text>
<text x="20.3" y="330.7" font-size="11.1" fill="#000" text-anchor="middle" font-weight="bold" transform="rotate(-90 20.3 330.7)">Amplitude [mV]</text>
<text x="337.3" y="331.2" font-size="11.2" fill="#ff1a1a" text-anchor="middle" font-weight="bold" transform="rotate(-90 337.3 331.2)">Amplitude [mV]</text>
<text x="392.4" y="330.9" font-size="11.2" fill="#1a1aff" text-anchor="middle" font-weight="bold" transform="rotate(-90 392.4 330.9)">Amplitude [mV]</text>
<line x1="451.1" y1="413.4" x2="653.8" y2="413.4" stroke="#000" stroke-width="1.2"/>
<line x1="451.1" y1="249.3" x2="451.1" y2="413.4" stroke="#000" stroke-width="1.2"/>
<line x1="451.1" y1="249.3" x2="653.8" y2="249.3" stroke="#ff1a1a" stroke-width="1.2"/>
<line x1="653.8" y1="249.3" x2="653.8" y2="413.4" stroke="#ff1a1a" stroke-width="1.2"/>
<line x1="450.9" y1="413.4" x2="450.9" y2="410.4" stroke="#000" stroke-width="1"/>
<line x1="468.45" y1="413.4" x2="468.45" y2="410.4" stroke="#000" stroke-width="1"/>
<line x1="486" y1="413.4" x2="486" y2="410.4" stroke="#000" stroke-width="1"/>
<line x1="503.55" y1="413.4" x2="503.55" y2="410.4" stroke="#000" stroke-width="1"/>
<line x1="521.1" y1="413.4" x2="521.1" y2="410.4" stroke="#000" stroke-width="1"/>
<line x1="538.65" y1="413.4" x2="538.65" y2="410.4" stroke="#000" stroke-width="1"/>
<line x1="556.2" y1="413.4" x2="556.2" y2="410.4" stroke="#000" stroke-width="1"/>
<line x1="573.75" y1="413.4" x2="573.75" y2="410.4" stroke="#000" stroke-width="1"/>
<line x1="591.3" y1="413.4" x2="591.3" y2="410.4" stroke="#000" stroke-width="1"/>
<line x1="608.85" y1="413.4" x2="608.85" y2="410.4" stroke="#000" stroke-width="1"/>
<line x1="626.4" y1="413.4" x2="626.4" y2="410.4" stroke="#000" stroke-width="1"/>
<line x1="643.95" y1="413.4" x2="643.95" y2="410.4" stroke="#000" stroke-width="1"/>
<line x1="459.67" y1="413.4" x2="459.67" y2="411.8" stroke="#000" stroke-width="1"/>
<line x1="477.22" y1="413.4" x2="477.22" y2="411.8" stroke="#000" stroke-width="1"/>
<line x1="494.77" y1="413.4" x2="494.77" y2="411.8" stroke="#000" stroke-width="1"/>
<line x1="512.32" y1="413.4" x2="512.32" y2="411.8" stroke="#000" stroke-width="1"/>
<line x1="529.88" y1="413.4" x2="529.88" y2="411.8" stroke="#000" stroke-width="1"/>
<line x1="547.42" y1="413.4" x2="547.42" y2="411.8" stroke="#000" stroke-width="1"/>
<line x1="564.97" y1="413.4" x2="564.97" y2="411.8" stroke="#000" stroke-width="1"/>
<line x1="582.52" y1="413.4" x2="582.52" y2="411.8" stroke="#000" stroke-width="1"/>
<line x1="600.07" y1="413.4" x2="600.07" y2="411.8" stroke="#000" stroke-width="1"/>
<line x1="617.62" y1="413.4" x2="617.62" y2="411.8" stroke="#000" stroke-width="1"/>
<line x1="635.17" y1="413.4" x2="635.17" y2="411.8" stroke="#000" stroke-width="1"/>
<line x1="652.72" y1="413.4" x2="652.72" y2="411.8" stroke="#000" stroke-width="1"/>
<line x1="451.1" y1="404.28" x2="454.1" y2="404.28" stroke="#000" stroke-width="1"/>
<line x1="451.1" y1="386.05" x2="454.1" y2="386.05" stroke="#000" stroke-width="1"/>
<line x1="451.1" y1="367.82" x2="454.1" y2="367.82" stroke="#000" stroke-width="1"/>
<line x1="451.1" y1="349.58" x2="454.1" y2="349.58" stroke="#000" stroke-width="1"/>
<line x1="451.1" y1="331.35" x2="454.1" y2="331.35" stroke="#000" stroke-width="1"/>
<line x1="451.1" y1="313.12" x2="454.1" y2="313.12" stroke="#000" stroke-width="1"/>
<line x1="451.1" y1="294.88" x2="454.1" y2="294.88" stroke="#000" stroke-width="1"/>
<line x1="451.1" y1="276.65" x2="454.1" y2="276.65" stroke="#000" stroke-width="1"/>
<line x1="451.1" y1="258.42" x2="454.1" y2="258.42" stroke="#000" stroke-width="1"/>
<line x1="451.1" y1="413.4" x2="452.7" y2="413.4" stroke="#000" stroke-width="1"/>
<line x1="451.1" y1="395.17" x2="452.7" y2="395.17" stroke="#000" stroke-width="1"/>
<line x1="451.1" y1="376.93" x2="452.7" y2="376.93" stroke="#000" stroke-width="1"/>
<line x1="451.1" y1="358.7" x2="452.7" y2="358.7" stroke="#000" stroke-width="1"/>
<line x1="451.1" y1="340.47" x2="452.7" y2="340.47" stroke="#000" stroke-width="1"/>
<line x1="451.1" y1="322.23" x2="452.7" y2="322.23" stroke="#000" stroke-width="1"/>
<line x1="451.1" y1="304" x2="452.7" y2="304" stroke="#000" stroke-width="1"/>
<line x1="451.1" y1="285.77" x2="452.7" y2="285.77" stroke="#000" stroke-width="1"/>
<line x1="451.1" y1="267.53" x2="452.7" y2="267.53" stroke="#000" stroke-width="1"/>
<line x1="451.1" y1="249.3" x2="452.7" y2="249.3" stroke="#000" stroke-width="1"/>
<line x1="451" y1="249.3" x2="451" y2="252.3" stroke="#ff1a1a" stroke-width="1"/>
<line x1="472.35" y1="249.3" x2="472.35" y2="252.3" stroke="#ff1a1a" stroke-width="1"/>
<line x1="493.7" y1="249.3" x2="493.7" y2="252.3" stroke="#ff1a1a" stroke-width="1"/>
<line x1="515.05" y1="249.3" x2="515.05" y2="252.3" stroke="#ff1a1a" stroke-width="1"/>
<line x1="536.4" y1="249.3" x2="536.4" y2="252.3" stroke="#ff1a1a" stroke-width="1"/>
<line x1="557.75" y1="249.3" x2="557.75" y2="252.3" stroke="#ff1a1a" stroke-width="1"/>
<line x1="579.1" y1="249.3" x2="579.1" y2="252.3" stroke="#ff1a1a" stroke-width="1"/>
<line x1="600.45" y1="249.3" x2="600.45" y2="252.3" stroke="#ff1a1a" stroke-width="1"/>
<line x1="621.8" y1="249.3" x2="621.8" y2="252.3" stroke="#ff1a1a" stroke-width="1"/>
<line x1="643.15" y1="249.3" x2="643.15" y2="252.3" stroke="#ff1a1a" stroke-width="1"/>
<line x1="461.68" y1="249.3" x2="461.68" y2="250.9" stroke="#ff1a1a" stroke-width="1"/>
<line x1="483.02" y1="249.3" x2="483.02" y2="250.9" stroke="#ff1a1a" stroke-width="1"/>
<line x1="504.38" y1="249.3" x2="504.38" y2="250.9" stroke="#ff1a1a" stroke-width="1"/>
<line x1="525.73" y1="249.3" x2="525.73" y2="250.9" stroke="#ff1a1a" stroke-width="1"/>
<line x1="547.08" y1="249.3" x2="547.08" y2="250.9" stroke="#ff1a1a" stroke-width="1"/>
<line x1="568.42" y1="249.3" x2="568.42" y2="250.9" stroke="#ff1a1a" stroke-width="1"/>
<line x1="589.77" y1="249.3" x2="589.77" y2="250.9" stroke="#ff1a1a" stroke-width="1"/>
<line x1="611.12" y1="249.3" x2="611.12" y2="250.9" stroke="#ff1a1a" stroke-width="1"/>
<line x1="632.48" y1="249.3" x2="632.48" y2="250.9" stroke="#ff1a1a" stroke-width="1"/>
<line x1="653.83" y1="249.3" x2="653.83" y2="250.9" stroke="#ff1a1a" stroke-width="1"/>
<line x1="653.8" y1="400.78" x2="650.8" y2="400.78" stroke="#ff1a1a" stroke-width="1"/>
<line x1="653.8" y1="375.53" x2="650.8" y2="375.53" stroke="#ff1a1a" stroke-width="1"/>
<line x1="653.8" y1="350.28" x2="650.8" y2="350.28" stroke="#ff1a1a" stroke-width="1"/>
<line x1="653.8" y1="325.04" x2="650.8" y2="325.04" stroke="#ff1a1a" stroke-width="1"/>
<line x1="653.8" y1="299.79" x2="650.8" y2="299.79" stroke="#ff1a1a" stroke-width="1"/>
<line x1="653.8" y1="274.55" x2="650.8" y2="274.55" stroke="#ff1a1a" stroke-width="1"/>
<line x1="653.8" y1="249.3" x2="650.8" y2="249.3" stroke="#ff1a1a" stroke-width="1"/>
<line x1="653.8" y1="413.4" x2="652.2" y2="413.4" stroke="#ff1a1a" stroke-width="1"/>
<line x1="653.8" y1="388.15" x2="652.2" y2="388.15" stroke="#ff1a1a" stroke-width="1"/>
<line x1="653.8" y1="362.91" x2="652.2" y2="362.91" stroke="#ff1a1a" stroke-width="1"/>
<line x1="653.8" y1="337.66" x2="652.2" y2="337.66" stroke="#ff1a1a" stroke-width="1"/>
<line x1="653.8" y1="312.42" x2="652.2" y2="312.42" stroke="#ff1a1a" stroke-width="1"/>
<line x1="653.8" y1="287.17" x2="652.2" y2="287.17" stroke="#ff1a1a" stroke-width="1"/>
<line x1="653.8" y1="261.92" x2="652.2" y2="261.92" stroke="#ff1a1a" stroke-width="1"/>
<text x="450.9" y="425.9" font-size="10.3" fill="#222" text-anchor="middle">-5</text>
<text x="468.45" y="425.9" font-size="10.3" fill="#222" text-anchor="middle">0</text>
<text x="486" y="425.9" font-size="10.3" fill="#222" text-anchor="middle">5</text>
<text x="503.55" y="425.9" font-size="10.3" fill="#222" text-anchor="middle">10</text>
<text x="521.1" y="425.9" font-size="10.3" fill="#222" text-anchor="middle">15</text>
<text x="538.65" y="425.9" font-size="10.3" fill="#222" text-anchor="middle">20</text>
<text x="556.2" y="425.9" font-size="10.3" fill="#222" text-anchor="middle">25</text>
<text x="573.75" y="425.9" font-size="10.3" fill="#222" text-anchor="middle">30</text>
<text x="591.3" y="425.9" font-size="10.3" fill="#222" text-anchor="middle">35</text>
<text x="608.85" y="425.9" font-size="10.3" fill="#222" text-anchor="middle">40</text>
<text x="626.4" y="425.9" font-size="10.3" fill="#222" text-anchor="middle">45</text>
<text x="643.95" y="425.9" font-size="10.3" fill="#222" text-anchor="middle">50</text>
<text x="447.2" y="407.98" font-size="10.3" fill="#222" text-anchor="end">0</text>
<text x="447.2" y="389.75" font-size="10.3" fill="#222" text-anchor="end">2</text>
<text x="447.2" y="371.52" font-size="10.3" fill="#222" text-anchor="end">4</text>
<text x="447.2" y="353.28" font-size="10.3" fill="#222" text-anchor="end">6</text>
<text x="447.2" y="335.05" font-size="10.3" fill="#222" text-anchor="end">8</text>
<text x="447.2" y="316.82" font-size="10.3" fill="#222" text-anchor="end">10</text>
<text x="447.2" y="298.58" font-size="10.3" fill="#222" text-anchor="end">12</text>
<text x="447.2" y="280.35" font-size="10.3" fill="#222" text-anchor="end">14</text>
<text x="447.2" y="262.12" font-size="10.3" fill="#222" text-anchor="end">16</text>
<text x="451" y="243.5" font-size="10.3" fill="#ff1a1a" text-anchor="middle">5</text>
<text x="472.35" y="243.5" font-size="10.3" fill="#ff1a1a" text-anchor="middle">10</text>
<text x="493.7" y="243.5" font-size="10.3" fill="#ff1a1a" text-anchor="middle">15</text>
<text x="515.05" y="243.5" font-size="10.3" fill="#ff1a1a" text-anchor="middle">20</text>
<text x="536.4" y="243.5" font-size="10.3" fill="#ff1a1a" text-anchor="middle">25</text>
<text x="557.75" y="243.5" font-size="10.3" fill="#ff1a1a" text-anchor="middle">30</text>
<text x="579.1" y="243.5" font-size="10.3" fill="#ff1a1a" text-anchor="middle">35</text>
<text x="600.45" y="243.5" font-size="10.3" fill="#ff1a1a" text-anchor="middle">40</text>
<text x="621.8" y="243.5" font-size="10.3" fill="#ff1a1a" text-anchor="middle">45</text>
<text x="643.15" y="243.5" font-size="10.3" fill="#ff1a1a" text-anchor="middle">50</text>
<text x="657" y="404.48" font-size="10.3" fill="#ff1a1a" text-anchor="start">4</text>
<text x="657" y="379.23" font-size="10.3" fill="#ff1a1a" text-anchor="start">6</text>
<text x="657" y="353.98" font-size="10.3" fill="#ff1a1a" text-anchor="start">8</text>
<text x="657" y="328.74" font-size="10.3" fill="#ff1a1a" text-anchor="start">10</text>
<text x="657" y="303.49" font-size="10.3" fill="#ff1a1a" text-anchor="start">12</text>
<text x="657" y="278.25" font-size="10.3" fill="#ff1a1a" text-anchor="start">14</text>
<text x="657" y="253" font-size="10.3" fill="#ff1a1a" text-anchor="start">16</text>
<text x="552.7" y="229.1" font-size="10.9" fill="#ff1a1a" text-anchor="middle" font-weight="bold">DC Bias Voltage [V]</text>
<text x="552.4" y="442.9" font-size="10.8" fill="#000" text-anchor="middle" font-weight="bold">Commercial Transducer Pressure [kPa]</text>
<text x="431.3" y="331.4" font-size="10.8" fill="#000" text-anchor="middle" font-weight="bold" transform="rotate(-90 431.3 331.4)">Amplitude [mV]</text>
<text x="683.2" y="318.8" font-size="10.8" fill="#ff1a1a" text-anchor="middle" font-weight="bold" transform="rotate(-90 683.2 318.8)">Amplitude [mV]</text>
<circle cx="467.5" cy="259.6" r="2.6" fill="url(#g_000)"/>
<text x="481.2" y="263.1" font-size="9.4" fill="#222" text-anchor="start">Fixed DC voltage (50 V)</text>
<circle cx="467.5" cy="271" r="2.6" fill="url(#g_ff1a1a)"/>
<text x="481.2" y="274.9" font-size="9.4" fill="#ff1a1a" text-anchor="start">Fixed pressure (70kPa)</text>
<line x1="456.7" y1="282.4" x2="478" y2="282.4" stroke="#1a1aff" stroke-width="1.2"/>
<text x="481.2" y="285.9" font-size="9.4" fill="#1a1aff" text-anchor="start">Linear fitting</text>
<circle cx="475.6" cy="398.6" r="2.7" fill="url(#g_000)"/>
<circle cx="479.7" cy="395.08" r="2.7" fill="url(#g_000)"/>
<circle cx="486.7" cy="389.08" r="2.7" fill="url(#g_000)"/>
<circle cx="494.9" cy="382.05" r="2.7" fill="url(#g_000)"/>
<circle cx="503.9" cy="374.34" r="2.7" fill="url(#g_000)"/>
<circle cx="511.6" cy="367.73" r="2.7" fill="url(#g_000)"/>
<circle cx="519.3" cy="361.13" r="2.7" fill="url(#g_000)"/>
<circle cx="527.7" cy="353.93" r="2.7" fill="url(#g_000)"/>
<circle cx="535.5" cy="347.24" r="2.7" fill="url(#g_000)"/>
<circle cx="546.2" cy="338.07" r="2.7" fill="url(#g_000)"/>
<circle cx="555.2" cy="330.35" r="2.7" fill="url(#g_000)"/>
<circle cx="563.5" cy="323.23" r="2.7" fill="url(#g_000)"/>
<circle cx="571.6" cy="316.29" r="2.7" fill="url(#g_000)"/>
<circle cx="580.5" cy="308.66" r="2.7" fill="url(#g_000)"/>
<circle cx="588.8" cy="301.54" r="2.7" fill="url(#g_000)"/>
<circle cx="595.4" cy="295.88" r="2.7" fill="url(#g_000)"/>
<circle cx="602.7" cy="289.62" r="2.7" fill="url(#g_000)"/>
<circle cx="611.3" cy="282.25" r="2.7" fill="url(#g_000)"/>
<circle cx="619.3" cy="275.39" r="2.7" fill="url(#g_000)"/>
<circle cx="627.8" cy="268.1" r="2.7" fill="url(#g_000)"/>
<circle cx="515.4" cy="395.5" r="2.6" fill="url(#g_ff1a1a)"/>
<circle cx="532" cy="384.4" r="2.6" fill="url(#g_ff1a1a)"/>
<circle cx="549.3" cy="365.2" r="2.6" fill="url(#g_ff1a1a)"/>
<circle cx="566.6" cy="351.3" r="2.6" fill="url(#g_ff1a1a)"/>
<circle cx="583.9" cy="330.3" r="2.6" fill="url(#g_ff1a1a)"/>
<circle cx="600.8" cy="306.6" r="2.6" fill="url(#g_ff1a1a)"/>
<circle cx="618.1" cy="285.8" r="2.6" fill="url(#g_ff1a1a)"/>
<circle cx="635" cy="262" r="2.6" fill="url(#g_ff1a1a)"/>
<line x1="475" y1="399.11" x2="628.5" y2="267.5" stroke="#1a1aff" stroke-width="1.4"/>
<circle cx="472.7" cy="401.3" r="6.8" fill="none" stroke="#000" stroke-width="1.35" stroke-dasharray="3.2 1.9"/>
<line x1="465.8" y1="401.9" x2="455" y2="403.1" stroke="#000" stroke-width="1.2"/>
<path d="M450.8 403.6 L456.6 399.9 L456.6 406.4 Z" stroke="none" stroke-width="1" fill="#000"/>
<circle cx="638.1" cy="260.8" r="6.5" fill="none" stroke="#ff1a1a" stroke-width="1.35" stroke-dasharray="3.2 1.9"/>
<line x1="644.3" y1="258.6" x2="648" y2="256.6" stroke="#ff1a1a" stroke-width="1.1"/>
<path d="M654.2 253.2 L646.4 252.6 L648.6 259.4 Z" stroke="none" stroke-width="1" fill="#ff1a1a"/>
<text x="561.2" y="408" font-size="10" fill="#1a1aff" text-anchor="start">R-Squared: &#160;0.999</text>
</svg></body></html>
